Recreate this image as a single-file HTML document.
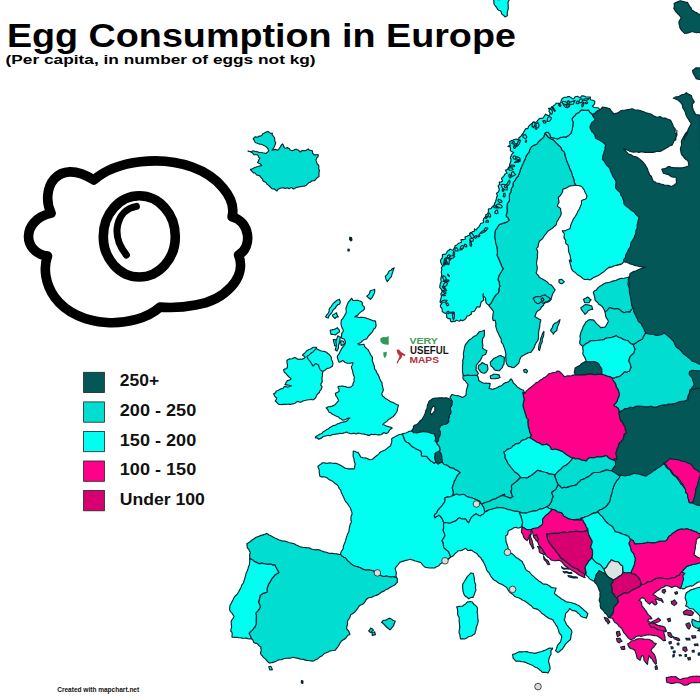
<!DOCTYPE html><html><head><meta charset="utf-8"><title>Egg Consumption in Europe</title>
<style>html,body{margin:0;padding:0;background:#fff;}body{width:700px;height:700px;overflow:hidden;font-family:"Liberation Sans",sans-serif;}svg{display:block}</style></head><body>
<svg width="700" height="700" viewBox="0 0 700 700">
<rect width="700" height="700" fill="#fff"/>
<g stroke="#052632" stroke-width="1.15" stroke-linejoin="round">
<path d="M253.1 138.8 L254.1 137.7 L255 136.9 L256.1 136.9 L256.9 137.3 L257.6 137 L258.5 136.4 L259.8 136.1 L261.1 135.9 L262 135.1 L262.6 134 L263.2 133.5 L264 133.2 L264.9 132.7 L266 132.1 L267.2 131.7 L268.1 131.5 L269.2 132.4 L270.2 133.1 L271.4 133.3 L272.4 133.2 L272.1 134 L272.2 134.8 L272.9 135.7 L273.8 136.7 L274.4 137.7 L274.6 138.5 L274.7 139.8 L274.8 141.1 L275.3 142.1 L275.8 142.7 L275.4 143.6 L275.1 144.7 L274.7 145.7 L274.3 146.8 L273.6 148 L272.8 149.2 L272 150.3 L273.4 150 L275.1 149.4 L276.6 149.7 L277.7 150.3 L278.7 149.4 L279.1 148.7 L279.6 148 L280.2 147 L280.9 145.9 L281.8 144.7 L282.7 143.9 L283.4 145.3 L283.8 146.6 L284.3 147.6 L285.3 148.3 L286.3 148 L287.4 147.6 L288.2 148 L289 148.4 L289.7 149.3 L290.5 150.2 L291.6 150.5 L293 150.6 L294.1 150 L294.8 149.5 L295.6 149.3 L296.4 149.3 L297.3 149.7 L298.2 150 L299.2 150.9 L300.4 152 L301 151.2 L302 150.5 L303.3 150.6 L304.2 150.7 L305 150.6 L306.1 150.5 L307 149.8 L308.3 148.9 L308.9 149.8 L309.9 150.4 L311.3 150.5 L312.4 150.7 L312.4 151.9 L312.6 153.1 L313.4 154 L314.1 154.9 L315.1 154.8 L316.2 154.8 L317.3 154.7 L318.2 154.5 L318.2 155.5 L318.1 156.5 L317.5 157.1 L316.8 157.9 L316.4 158.9 L315.9 159.9 L316.2 160.9 L316.6 161.9 L316.9 163 L317.3 164 L318.1 164.6 L318.8 165.7 L318.8 167.3 L318.6 168.6 L319.1 169.5 L319.4 170.2 L319.2 171.3 L319.1 172.2 L319 173.1 L319 174.1 L318.9 175.1 L319.1 176.3 L318.4 176.9 L317.3 177.6 L316.4 178.5 L315.7 179.5 L314.9 180.2 L314.1 180.7 L312.9 180.7 L311.7 180.9 L310.8 181.9 L309.7 182.4 L308.7 182.8 L307.9 183.6 L307.1 184.4 L306.2 185.2 L305.2 185.9 L304 186.2 L302.6 186.2 L301.7 186.5 L300.7 186.6 L299.5 186.7 L298.1 187.1 L296.8 187.4 L296.2 187.6 L295.4 188.1 L294.4 188.6 L293.4 189 L292.5 188.2 L291.6 187.6 L290.6 187.8 L289.9 188.2 L289.5 188.4 L288.9 188.6 L288 188.2 L287 187.8 L285.9 188.2 L284.9 188.4 L284.2 188 L283.4 187.7 L282.4 187.9 L280.9 188 L279.4 188.6 L278.2 189.2 L277.6 190 L277 190.9 L275.6 190.1 L274.7 189.3 L274.1 188.9 L272.7 189 L271.7 188.5 L271.1 187.8 L270.3 187 L269.3 186 L268.2 185.1 L267.3 184.6 L266.8 183.9 L266.1 182.6 L264.7 181.7 L263.3 181.1 L262.8 180.2 L262.4 178.9 L261.6 178.2 L260.9 177.5 L260.3 176.7 L259.8 175.9 L259.1 175.6 L258.4 175.4 L257.5 175.3 L256.6 175 L255.8 174 L255.1 173 L254.2 172.9 L253.4 172.9 L252.7 172.1 L252 171.3 L251.1 170.5 L250.4 169.3 L251 169.3 L251.8 169.1 L252.8 168.6 L254 167.9 L255.2 167.3 L256.2 167 L257 166.7 L257.9 166.5 L258.7 166.2 L259.7 166 L260.8 165.8 L261.8 165.7 L261.1 164.7 L260.2 163.9 L258.8 163.3 L257.6 162.6 L258.1 161.5 L258.6 160.4 L259.2 159.3 L259.8 158.3 L259.1 157.6 L258.5 156.8 L258.2 155.7 L257.4 154.8 L255.4 154.7 L253.9 154.6 L253.3 153.9 L252.6 153 L251.6 152.4 L250.4 151.8 L249 151.4 L248 150.9 L249 151.2 L250.5 151.5 L251.9 151.2 L252.9 150.9 L253.8 151 L254.7 151.2 L255.5 151.5 L256.2 151.5 L257 151.7 L257.8 151.9 L258.6 152.2 L259.3 152.5 L260.2 152.5 L261.1 152.5 L262.6 152.8 L264.1 153 L265.1 153.3 L266.1 153.3 L266.8 152.6 L267.5 152.1 L268.2 151.5 L268.8 150.9 L268.4 150 L268.1 149.2 L267.8 148.6 L267.3 147.9 L266.3 146.9 L264.9 145.9 L263.4 145.2 L262.2 144.5 L261 144.2 L259.7 144.1 L258.5 143.8 L257.4 143.3 L256.5 143 L255.8 142.7 L255.4 142.4 L254.8 141.9 L254.1 140.1Z" fill="#02ddd2"/>
<path d="M598.7 110 L600.1 109.6 L601.1 108.8 L601.8 107.8 L602.6 107 L604 107.2 L605.3 107.5 L606.8 107.9 L608.4 108.3 L609.8 108.6 L610.4 109.6 L610.9 110.6 L612.1 111.9 L613.3 113.2 L613.8 114.3 L615.1 113.5 L616.8 113.1 L618.5 112.5 L619.9 111.4 L621.2 110.5 L622.9 110.3 L624.4 110.2 L625.6 110 L626.9 109.8 L628.2 109.6 L629.4 109.4 L630.6 109.2 L631.7 108.8 L633.1 109.1 L634.4 109.7 L635.8 110 L637.7 110 L639.2 110.3 L640.7 110.8 L642.2 111.3 L643.8 111.8 L645.2 112.5 L647 113 L648.9 113.5 L650 113.8 L651.3 114.2 L652.7 115.3 L654 116.1 L655.4 116.6 L656.8 117.2 L658.3 117 L659.8 116.5 L661.1 117.1 L662.3 118 L663.8 118.1 L665.4 118 L666.8 118.7 L668.8 119.6 L670.4 120 L671.2 121.2 L671.9 122.9 L672.6 124.2 L673 125.6 L673.6 127.1 L675 128.4 L675.3 129.8 L675 131.6 L675 133.1 L675.8 133.8 L676.1 135 L675.7 137 L675.6 138.6 L675.7 140.1 L675.8 138.6 L676.1 137 L676.8 135.6 L677 134.3 L676.7 133.4 L676.8 132 L676.9 130.2 L676.8 131.9 L676.6 133.2 L676.8 134.1 L676.8 135.1 L676.2 136.5 L675.7 138 L675.1 139.3 L674.4 140.3 L673.8 141.5 L673.3 142.8 L672.6 144.1 L672 145.1 L670.7 145.5 L669 146.2 L667.7 147.2 L666.3 148 L664.9 148.7 L663.5 149.7 L662.2 150.2 L661.3 151 L660 151.5 L658 151.4 L656.3 151.5 L655.1 151.9 L654 152.3 L652.6 152.4 L651.2 152.4 L649.8 152.4 L648.5 152.3 L647 152.3 L645.4 152.4 L643.9 152.3 L642.3 151.9 L640.9 151.9 L639.6 152.3 L638.2 152.3 L637.1 151.8 L635.7 151.8 L633.9 152.3 L632.4 152 L631.3 151.7 L630.2 151.4 L628.9 150.7 L627.4 150 L625.4 149.4 L623.5 148.8 L624.4 149.8 L625.6 151 L626.5 151.9 L627.3 152.7 L628.2 153.8 L629.5 154.4 L630.9 154.8 L632.2 155.6 L633.5 156.2 L635.1 156.6 L636.6 157 L637.4 157.5 L638.1 158 L639.4 158.9 L640.9 160.2 L642.3 161.4 L643.5 162.6 L644.2 163.6 L644.9 164.3 L645.7 165.8 L646.8 167.6 L647.7 169.3 L648 170.7 L648.5 172.1 L649.1 173.3 L649.6 174.6 L650.4 175.5 L651.3 176.3 L651.9 177.7 L652.4 179.3 L652.9 180.7 L654 181.5 L655.2 182 L655.9 182.7 L657 183 L658.8 183.4 L660.3 183.9 L661.5 184.2 L663 184.6 L664.3 185.1 L665.5 185.2 L666.7 185.3 L667.8 185.4 L669 185.6 L670.3 186.1 L671.7 186.5 L673 185.7 L674.3 184.9 L675.3 184 L676.5 183.5 L676.4 182.1 L676.4 180.7 L676.2 179.4 L676.3 177.8 L675.2 177 L673.2 177.1 L671.5 176.8 L670.1 175.7 L668.4 174.6 L667.5 174.4 L666.7 174.3 L665.1 173.8 L663.4 173.3 L662.8 171.5 L662.3 170.2 L661.7 169.3 L662.9 168.9 L664.8 168.6 L666.4 168 L667.9 166.7 L669.2 166.6 L670.6 167.1 L672 167.4 L673.3 167.6 L674.7 167.8 L676.1 167.8 L677.4 167.8 L679 167.9 L680.7 167.9 L682.4 167.7 L684.3 167.3 L685.5 167.3 L686.1 166.7 L687.3 166.2 L689.1 166 L688.5 164.4 L688.4 162.7 L688 161.1 L687.1 160.1 L685.8 159.4 L684.6 158.4 L683.7 157 L683 155.9 L682.2 155.4 L681.4 154 L681 152.6 L680.8 151 L680.5 149.7 L680.4 148.3 L680.9 147.1 L681.3 145.9 L681.7 144.7 L681.5 143.2 L681.3 141.5 L681.8 140.1 L682.5 138.9 L683.1 137.7 L683.9 136.3 L684.7 134.9 L685.4 133.7 L686.2 132.7 L687.1 131.9 L687.7 130.8 L688.1 129.6 L688 131.3 L687.5 132.8 L686.9 134.1 L686.1 135.5 L685 136.9 L684.5 138.6 L684.5 139.8 L684.3 138.7 L684.5 137.3 L685.2 135.8 L686.1 134.6 L686.8 133.4 L687.4 132.3 L687.9 131.1 L688.1 129.6 L688.5 128.5 L689.2 127.4 L689.9 126.1 L690.6 124.9 L691.2 123.8 L690.8 122.7 L690.1 121.8 L689.4 120.9 L688.7 119.8 L688.1 118.7 L687.6 117.9 L686.8 116.5 L686 114.9 L685.6 113.4 L685 111.6 L684.4 110.2 L683.7 109.3 L683 108.3 L682.7 107.1 L682.4 105.9 L682.1 104.4 L680.9 102.8 L679.7 101.6 L678.9 100.9 L678.3 100.3 L677.1 99.8 L675.7 99.1 L674.5 98.5 L673.3 98.3 L674.8 97.4 L676.3 96.8 L677.8 96.6 L679.2 96.2 L680.5 95.4 L681.7 94.8 L682.6 94.6 L683.8 94.3 L685.2 93.7 L686.3 92.7 L687.5 93.4 L688.6 94.4 L690.1 94.9 L691.4 95.6 L691.8 97.2 L692.4 98.5 L693.1 99.7 L693.7 100.7 L694.3 101.9 L693.3 103.2 L692.3 104.4 L692.5 106 L692.5 107.7 L693.1 109 L693.2 110.6 L694.1 111.5 L694.9 113 L695.7 114.7 L697 114.8 L698.6 114.9 L699.8 115.4 L700.4 116 L700.4 117.6 L700.4 119.2 L700.4 120.8 L700.4 122.4 L700.4 124 L700.4 125.6 L700.4 127.2 L700.5 128.8 L700.5 130.4 L700.5 132 L700.5 133.6 L700.5 135.2 L700.5 136.8 L700.5 138.4 L700.5 139.9 L700.5 141.5 L700.5 143.1 L700.5 144.7 L700.5 146.3 L700.5 147.9 L700.5 149.5 L700.6 151.1 L700.6 152.7 L700.6 154.3 L700.6 155.9 L700.6 157.5 L700.6 159.1 L700.6 160.7 L700.6 162.3 L700.6 163.9 L700.6 165.5 L700.6 167.1 L700.6 168.7 L700.6 170.3 L700.6 171.9 L700.7 173.5 L700.7 175.1 L700.7 176.7 L700.7 178.3 L700.7 179.9 L700.7 181.5 L700.7 183.1 L700.7 184.6 L700.7 186.2 L700.7 187.8 L700.7 189.4 L700.7 191 L700.7 192.6 L700.7 194.2 L700.8 195.8 L700.8 197.4 L700.8 199 L700.8 200.6 L700.8 202.2 L700.8 203.8 L700.8 205.4 L700.8 207 L700.8 208.6 L700.8 210.2 L700.8 211.8 L700.8 213.4 L700.8 215 L700.8 216.6 L700.8 218.2 L700.9 219.8 L700.9 221.4 L700.9 223 L700.9 224.6 L700.9 226.2 L700.9 227.8 L700.9 229.4 L700.9 230.9 L700.9 232.5 L700.9 234.1 L700.9 235.7 L700.9 237.3 L700.9 238.9 L700.9 240.5 L701 242.1 L701 243.7 L701 245.3 L701 246.9 L701 248.5 L701 250.1 L701 251.7 L701 253.3 L701 254.9 L701 256.5 L701 258.1 L701 259.7 L701 261.3 L701 262.9 L701.1 264.5 L701.1 266.1 L701.1 267.7 L701.1 269.3 L701.1 270.9 L701.1 272.5 L701.1 274.1 L701.1 275.6 L701.1 277.2 L701.1 278.8 L701.1 280.4 L701.1 282 L701.1 283.6 L701.1 285.2 L701.2 286.8 L701.2 288.4 L701.2 290 L701.2 291.6 L701.2 293.2 L701.2 294.8 L701.2 296.4 L701.2 298 L701.2 299.6 L701.2 301.2 L701.2 302.8 L701.2 304.4 L701.2 306 L701.2 307.6 L701.2 309.2 L701.3 310.8 L701.3 312.4 L701.3 314 L701.3 315.6 L701.3 317.2 L701.3 318.8 L701.3 320.4 L701.3 321.9 L701.3 323.5 L701.3 325.1 L701.3 326.7 L701.3 328.3 L701.3 329.9 L701.3 331.5 L701.4 333.1 L701.4 334.7 L701.4 336.3 L701.4 337.9 L701.4 339.5 L701.4 341.1 L701.4 342.7 L701.4 344.3 L701.4 345.9 L701.4 347.5 L701.4 349.1 L701.4 350.7 L701.4 352.3 L701.4 353.9 L701.5 355.5 L701.5 357.1 L701.5 358.7 L701.5 360.3 L701.5 361.9 L701.5 363.5 L701.5 365.1 L701.5 366.6 L701.5 368.2 L701.5 369.8 L701.5 371.4 L701.5 373 L701.5 374.6 L701.5 376.2 L701.6 377.8 L701.6 379.4 L701.6 381 L701.6 382.6 L701.6 384.2 L701.6 385.8 L701.6 387.4 L701.6 389 L701.6 390.6 L701.6 392.2 L701.6 393.8 L701.6 395.4 L701.6 397 L701.6 398.6 L701.6 400.2 L701.7 401.8 L701.7 403.4 L701.7 405 L701.7 406.6 L701.7 408.2 L701.7 409.8 L701.7 411.4 L701.7 412.9 L701.7 414.5 L701.7 416.1 L701.7 417.7 L701.7 419.3 L701.7 420.9 L701.7 422.5 L701.8 424.1 L701.8 425.7 L701.8 427.3 L701.8 428.9 L701.8 430.5 L701.8 432.1 L701.8 433.7 L701.8 435.3 L701.8 436.9 L701.8 438.5 L701.8 440.1 L701.8 441.7 L701.8 443.3 L701.8 444.9 L701.9 446.5 L701.9 448.1 L701.9 449.7 L701.9 451.3 L701.9 452.9 L701.9 454.5 L701.9 456.1 L701.9 457.6 L701.9 459.2 L701.9 460.8 L701.9 462.4 L701.9 464 L701.9 465.6 L701.9 467.2 L702 468.8 L702 470.4 L702 472 L702 473.6 L702 475.2 L702 476.8 L702 478.4 L702 480 L700.5 479.7 L699.1 479.4 L697.6 479.2 L696.3 479.1 L694.8 478.7 L693.2 478.3 L691.6 478 L689.9 477.7 L688.4 477.8 L687 477.7 L685 476.9 L683.3 476.3 L681.8 476.1 L680.2 475.9 L679.1 475.4 L677.6 475.1 L675.7 475.1 L674 474.9 L672.7 474.7 L671.4 474.4 L670.1 473.4 L668.6 473 L666.6 473.1 L665 472.9 L663.6 472.4 L661.9 472.1 L660.2 471.5 L658.8 471.4 L657.8 472 L656.3 471.6 L654.5 470.8 L652.9 470.5 L651.5 470.6 L649.9 470.2 L649.9 468.8 L649.9 466.9 L650 464.8 L650.2 463.5 L650.4 462.2 L650.1 460.5 L649.7 458.8 L649.9 457.3 L650.1 455.8 L650 454.1 L650 452.5 L649.7 451.2 L649.6 449.8 L649.6 448.5 L649.7 446.9 L650.2 445.1 L650.3 443.5 L650 441.7 L650.1 440.2 L650.6 438.8 L650.3 437 L649.7 435 L649.8 433.8 L650.1 432.7 L650.2 430.9 L650.3 429 L650.4 427.1 L650.4 425.2 L650.4 424 L650.4 422.7 L650.4 421.4 L650.4 419.9 L650.2 418.2 L650.1 416.5 L649.7 414.5 L649.7 412.9 L649.6 411.6 L649.8 409.9 L650.1 408.1 L650.1 406.6 L650.1 405 L650.1 403.6 L650 402.1 L650.2 400.7 L650.3 399.3 L650.2 397.7 L650 396.1 L650.1 394.7 L650.2 393.2 L650.2 391.4 L650.2 389.8 L650.1 388.3 L650.1 386.8 L650.1 385.1 L650.2 383.5 L650.2 382 L650.1 380.2 L649.3 378.1 L649 376.7 L648.6 375.4 L648.1 373.8 L647.5 372.5 L647.2 370.8 L646.9 368.9 L646.9 367.5 L646.6 366.2 L646.2 364.6 L646.1 362.7 L645.4 361.1 L644.5 359.5 L644 358.2 L643.5 356.7 L643.8 355.3 L643.7 353.8 L642.8 352.2 L642.1 350.8 L642.4 349.1 L642.4 347.5 L642 345.7 L641.6 344 L640.8 343 L640.4 341.5 L640.1 340 L639.5 338.6 L639.6 337.1 L639.4 335.7 L638.6 334.2 L637.9 332.6 L637.3 331.1 L636.8 329.7 L636.7 328.3 L636.4 326.8 L635.6 325.5 L635.1 324 L634.6 322.4 L634.2 321.1 L633.8 319.4 L633.4 317.8 L633.1 316 L632.7 314.3 L631.8 312.9 L631.1 311.6 L631 310.1 L630.5 308.5 L629.7 307.6 L629.2 306.6 L629 304.4 L628.5 302.5 L628.1 301.3 L627.7 299.8 L628.1 298.5 L628.4 297.2 L628.2 295.3 L628 293.5 L628.1 292.5 L628.2 291.3 L628.4 289.5 L628.6 287.8 L628.7 286.3 L628.8 284.8 L628.9 283 L628.9 281.4 L628.6 279.8 L628.6 278.3 L629.3 276.7 L629.8 275.2 L629.9 274.3 L630.1 273.4 L631.4 272.7 L632.8 271.9 L634.1 271.4 L635 271.2 L636.3 270.8 L638.3 269.7 L640 268.9 L641.2 268.7 L642.1 268.1 L643.6 267.6 L645.5 267.2 L644.2 267.1 L642.2 266.6 L640.9 266.5 L640.3 266.6 L639.3 266.5 L637.6 266 L636 265.7 L635 265.4 L633.8 265.1 L632.5 264.5 L631 264.2 L629.6 263.6 L628.2 262.9 L626.9 262.2 L625.4 262.1 L623.7 261.7 L623.1 259.9 L623.2 258.6 L622.7 257 L622.2 255.5 L621.8 254.1 L621.9 252.5 L621.7 250.9 L621.1 249.6 L620.6 248.3 L619.6 247.3 L619.1 245.7 L618.5 243.6 L618 241.9 L618.2 240.6 L617.8 239 L617.2 237.4 L616.8 236 L616.6 234.3 L616.3 232.7 L616 231.3 L615.5 230 L615 228.8 L614.2 227.1 L613.2 225.2 L613.1 223.8 L613.3 222.2 L612.8 220.7 L612.4 219.3 L611.6 217.9 L610.7 216.3 L610.6 214.7 L610.5 213.4 L609.9 211.8 L609 210 L608.8 208.6 L608.7 207.2 L607.8 205.7 L607.1 204.1 L606.6 202.4 L605.9 200.8 L605.5 199.5 L605.2 198.2 L604.8 196.8 L604.5 195.2 L603.9 193.6 L602.9 192.4 L602.7 190.6 L602.6 188.8 L602.1 187.3 L601.7 185.9 L601.3 184.3 L601 182.7 L600.8 181.4 L600.5 180.2 L599.7 178.6 L598.9 177.2 L598.3 175.6 L597.7 173.9 L596.9 172.7 L596.1 171.5 L596.1 169.9 L595.9 168.4 L595.1 167 L594.3 165.8 L593.8 164.2 L593.4 162.4 L593 160.9 L592.5 159.5 L591.6 158.2 L590.6 157 L590.4 155.3 L590.3 153.4 L589.4 151.8 L588.8 150.1 L588.5 148.8 L588.1 147.9 L587.6 146.5 L586.9 145.1 L586.1 143.3 L585.6 141 L585.3 139.4 L585.9 138 L586.1 136.7 L586.1 135.4 L586.5 134 L586.9 133 L587.2 131.6 L587.6 129.6 L587.8 128 L587.5 126.9 L587.8 125.5 L588.8 123.4 L589.4 122 L589.7 121.2 L589.8 119.8 L589.8 118.1 L590.9 116.8 L592.3 115.8 L593.8 114.6 L595.1 113.5 L595.6 113 L596.2 111.8 L597.2 110.6Z" fill="#035756"/>
<path d="M674.1 3.6 L675.2 2.8 L676.3 2.3 L677.5 1.9 L678.8 1.4 L680.1 0.8 L681.6 1 L682.6 1.4 L683.6 1.6 L684.9 2 L686.2 2.4 L687.6 2.4 L688 3.5 L688.6 4.2 L688.9 5.1 L689.6 6.3 L690.9 7.5 L691.5 9 L692 10.2 L693.2 10.8 L694.2 11.5 L695.5 12.3 L697.1 12.9 L698.5 14 L699.6 14.4 L701 15 L701 16.5 L701 18 L701 19.5 L701 21 L701 22.5 L701 24 L701 25.5 L701 27 L701 28.5 L701 30 L701 31.5 L701 33 L699.5 32.8 L698 32.3 L696.9 32.8 L695.2 32.5 L693.1 31.8 L691.6 31.7 L690.3 32.1 L689.1 32.4 L688.2 32.9 L686.8 33.2 L684.9 33.5 L683.8 32.6 L683 31.6 L681.9 30.7 L680.9 29.4 L679.9 27.8 L679.7 26.1 L679.2 24.6 L678.9 23.1 L679 21.6 L679.6 20.4 L680.2 19.6 L680.7 18.9 L681.1 17.4 L679.8 15.8 L678.7 14.6 L677.7 13.7 L676.7 12.7 L675.8 11.7 L675.1 10.6 L674.5 9.4 L673.8 8.4 L674 7.5 L674.3 6.9 L674.3 5.5Z" fill="#035756"/>
<path d="M692.7 70.3 L694.1 69.4 L695.4 68.1 L696.6 67.7 L698 68.1 L699.7 67.9 L701 68 L701 69.5 L701 71 L701 72.5 L701 74 L701 75.5 L701 77 L701 78.5 L701 80 L699.8 79.5 L698.1 79.2 L697.1 78.9 L696.2 78.7 L695.5 77.1 L694.4 75.3 L693.3 73.6 L692.8 72.1 L692.6 70.8Z" fill="#035756"/>
<path d="M592.3 114.6 L592.8 115.9 L593.4 117 L594.3 118.2 L595.1 119.2 L594.4 120.4 L593.3 121.4 L592.4 122.1 L591.7 122.8 L591 124.4 L590.2 126.1 L590 127.4 L590.2 128.5 L591.2 130 L591.5 131.1 L592 131.8 L593.1 132.6 L594.1 133.9 L594.9 135.2 L595.2 136.9 L595.7 138.3 L597 138.9 L598.3 139.6 L600 140.6 L601.3 141.4 L602.5 142 L603.5 142.7 L604.5 143.5 L605.2 144.6 L605.6 145.8 L604.9 147.4 L605.1 148.9 L604.6 150.4 L603.9 152.3 L603.7 153.8 L603.3 154.6 L602.9 155.5 L602.7 157.5 L602.4 159.4 L603.6 160.6 L604.7 161.9 L605.5 163.4 L606.3 164.7 L607 165.5 L607.5 166 L608.3 166.5 L609.1 167.4 L609.9 168.6 L610.3 170.4 L610.9 171.7 L611.6 173.3 L612.3 174.8 L612.9 176.3 L613.6 177.4 L614.4 178.5 L615.3 179.9 L615.8 181.1 L616.1 182 L615.9 183.4 L615.7 184.8 L615.7 186.2 L615.5 187.6 L616.6 189.2 L617.7 190.4 L618.9 191.3 L620.1 192.4 L620.6 193.8 L620.9 195.3 L621.8 196.3 L622.4 197.1 L622.8 198.5 L623.3 200 L623.8 201.5 L623.9 203.5 L624.5 204.6 L625.2 205.3 L626.2 206.1 L627.3 207 L628.5 207.7 L629.6 208.6 L630.5 209.7 L631.7 210.5 L633 211.2 L634.2 212.1 L635.2 213.5 L636 214.6 L636.6 215.2 L637.7 215.9 L638.9 216.6 L638.9 217.7 L638.6 219.2 L638 221 L637.7 222.4 L637.5 223.7 L637.1 225.2 L637.2 226.6 L637.3 227.7 L636.7 229.1 L635.9 230.4 L635.8 231.8 L635.9 233.3 L635.2 234.6 L634.7 236.1 L634.2 237.7 L633.2 239.1 L632.5 240.5 L631.5 241.7 L630.8 243.1 L630.6 245 L630.3 246.7 L629.8 247.6 L629.1 248.5 L628.3 249.9 L627.6 251.5 L626.8 253 L626 254.4 L625.6 255.6 L625.5 257 L624.9 258.4 L623.7 259.5 L623.5 260.4 L623.7 261.7 L622.9 262.8 L621.9 263.7 L620.8 264.4 L619.6 264.7 L618.3 265 L616.5 265.4 L614.6 265.8 L613.3 266.3 L612 266.9 L610.4 267.1 L608.7 267.3 L610.4 267 L611.9 266.8 L613.2 266.2 L614.4 265.7 L616.1 265.3 L618 264.8 L619.5 264.4 L620.9 264.1 L622.3 263.4 L621 264.1 L619.8 264.4 L618.4 264.6 L616.8 265.1 L615 265.6 L613.7 265.9 L612.6 266.6 L611.4 267.2 L609.8 267.5 L608.2 268 L607.2 268.7 L606.3 269.3 L605.1 270.6 L604 271.7 L602.9 272.3 L601.5 273.3 L600.4 274.1 L599.4 274.8 L598 275.7 L596.5 276.3 L594.9 276.9 L593.5 277.6 L592.3 278.4 L591.1 279.2 L589.8 279.9 L588.7 279.4 L587.2 279.2 L585.5 279.5 L584.1 279.4 L583 278.6 L581.5 277.3 L580.2 276.3 L578.9 275.5 L577.4 274.7 L576.4 273.7 L575.4 272.6 L574 271.8 L572.7 270.7 L571.8 269.4 L571.2 268.3 L571.2 267.1 L570.7 265.5 L570.2 263.9 L569.9 262.5 L569.5 261.1 L569.3 260 L570.4 260.6 L571.5 261.7 L571.1 260.1 L570.7 258.8 L570.4 257.6 L570.3 256.4 L569.9 254.7 L569 252.5 L568.5 251 L568.5 249.6 L568.4 248.2 L568.3 246.6 L567.9 245.1 L566.7 244.3 L565.7 243.1 L565.7 241.7 L565.8 240.4 L564.9 239.1 L564 237.9 L564.1 236.2 L564.4 234.6 L564 233.2 L562.9 231.9 L562.3 230.7 L563.8 230.8 L565.3 230.9 L566.5 230 L568.1 229.5 L569.8 228.8 L570.5 227.3 L570.6 226.5 L570.5 225.8 L570.9 224.6 L571.6 223.1 L572.2 221.8 L572.9 220 L573.8 218.3 L575 216.8 L575.9 215.3 L576.7 214.2 L577.2 212.9 L577.6 211.6 L578.5 210.5 L579.2 209.4 L579.7 208.1 L580.2 207 L580.6 205.8 L581.2 204.5 L581.5 203.2 L581.4 202 L581.5 200.7 L583.2 199.7 L585.2 199.3 L586.2 198.4 L586.6 197.2 L587 196.1 L586.4 194.7 L585.2 192.5 L584.5 190.9 L584.2 189.9 L583.7 189.1 L582.7 187.8 L581.3 186.3 L579.8 185.9 L578.4 185.5 L577.5 185.5 L576.7 185.4 L575.5 185.1 L575 184 L574.4 182.8 L574.2 181.8 L574.1 181 L573.9 179.8 L573.5 178.5 L573 177 L572.2 175.1 L571.7 173.3 L571.5 172 L570.9 171 L570 169.5 L569.4 167.8 L569 166.6 L568.9 165.9 L568.1 164.4 L567.2 162.3 L566.6 160.7 L566.1 159.2 L565.7 157.7 L565.2 156.3 L564.8 154.9 L564.7 153.4 L564.3 152.1 L563.5 151.4 L562.4 150.6 L561.5 149.3 L560.9 147.7 L560.2 146.7 L559.3 146.1 L558.3 145.2 L557.2 144 L555.9 142.8 L555.2 141.8 L554.3 140.9 L553 139.9 L551.3 139.2 L550.1 138.5 L549 137.8 L547.9 137 L547.2 136 L546.3 135 L545.6 134 L545.1 133 L546.6 132.4 L548 132.2 L548.9 133.4 L549.9 134.4 L550.3 135.6 L550.5 136.9 L551.6 137.6 L553.6 137.9 L555.4 138.5 L556.5 138.7 L557.5 139 L559 138.2 L560.5 137.4 L561.7 137.2 L563.1 137 L564.4 136.9 L565.7 137.1 L566.9 136.6 L568.2 135.8 L569.5 134.6 L570.3 133.9 L571 133.3 L571.3 132 L571.9 130.7 L572.2 129.4 L572.4 128 L572.7 126.6 L573 124.6 L573.2 122.6 L572.8 121.5 L572.3 120.5 L572 118.9 L572.9 117.7 L573.7 116.6 L574.5 116.1 L575.2 115.1 L575.9 113.9 L577.1 113.3 L578.4 112.7 L579.5 111.9 L580.4 110.7 L581.6 109.8 L583.2 110.1 L584.9 110.4 L586.7 110.3 L588.6 110.1 L589.3 111.3 L589.8 112.2 L590.7 112.8 L591.7 113.6Z" fill="#00fff0"/>
<path d="M545.1 133 L545.6 134 L546.3 135 L547.2 136 L547.9 137 L549 137.8 L550.1 138.5 L551.3 139.2 L553 139.9 L554.3 140.9 L555.2 141.8 L555.9 142.8 L557.2 144 L558.3 145.2 L559.3 146.1 L560.2 146.7 L560.9 147.7 L561.5 149.3 L562.4 150.6 L563.5 151.4 L564.3 152.1 L564.7 153.4 L564.8 154.9 L565.2 156.3 L565.7 157.7 L566.1 159.2 L566.6 160.7 L567.2 162.3 L568.1 164.4 L568.9 165.9 L569 166.6 L569.4 167.8 L570 169.5 L570.9 171 L571.5 172 L571.7 173.3 L572.2 175.1 L573 177 L573.5 178.5 L573.9 179.8 L574.1 181 L574.2 181.8 L574.4 182.8 L575 184 L575.5 185.1 L574.3 185.3 L573 185.6 L571.7 185.7 L570.4 185.9 L568.8 186.5 L567.3 187.5 L566.1 188.1 L564.5 188.6 L562.9 189.2 L562.7 190.5 L562.7 191.5 L562.1 192.7 L561.3 194 L560.7 195.2 L559.7 196.2 L558.4 197.3 L558.4 198.4 L558.6 199.7 L558.8 201 L559.1 202.3 L558.4 203.3 L557.8 204.5 L557.4 206.1 L558.4 207.1 L559.4 207.6 L560.1 208.1 L560.8 209 L560.6 210.3 L561 211.9 L561.2 213.4 L561 214.8 L560.4 216 L559.7 217.1 L559 218 L558.6 219.2 L557.5 220.8 L556.7 222.3 L556.5 223.6 L556 225 L554.9 226 L553.8 226.9 L553.1 227.7 L551.9 228.6 L550.4 229.5 L548.9 230.4 L547.9 231.2 L547.3 231.9 L546.9 232.5 L546.2 233.6 L544.6 235.3 L543.4 237.2 L542.7 238.5 L542.1 239.2 L540.8 240 L539.7 241.1 L538.9 242.3 L538.5 244 L538.3 246 L537.6 247.4 L536.4 248.7 L536.9 249.9 L537.5 250.8 L537.7 252.4 L537.4 254.6 L537.3 256 L537.5 256.9 L537.4 258.1 L537 259.4 L536.8 260.7 L536.6 262.4 L536.5 264 L536.9 265.3 L537.2 266.8 L537.2 268.4 L537.1 270 L536.7 271.2 L536.2 272.4 L536.7 273.9 L537.6 274.7 L538.6 275.6 L539.1 277 L540 277.7 L541 278.2 L542.1 278.7 L543.3 279.5 L544.6 280.3 L546.2 281.2 L547.4 282.1 L548.4 283.3 L549.4 284.3 L550.8 284.7 L551.8 285.5 L552.7 286.7 L553.6 287.8 L554.4 288.8 L555.2 289.6 L554.6 290.8 L553.9 292 L553.2 293 L552.5 294.2 L552.2 295.4 L551.7 296.8 L551.2 298.5 L550.4 300.1 L549.6 301.3 L548.1 301.9 L546.9 302.3 L545.7 302.6 L544.6 303.3 L543.7 304.2 L543.5 305.3 L542.4 306.3 L541.1 307.5 L540.6 309 L539.3 309.9 L537.6 311 L536.5 312.4 L535.9 313.7 L535.3 315.2 L534.8 316.6 L536 317.3 L537.3 318.1 L538.4 318.8 L539.5 319.2 L540.7 319.7 L540.7 321 L540.2 322.3 L539.9 323.8 L539.8 325.6 L539.6 327.3 L539.2 329 L538.9 330.5 L538.7 332 L538.5 333.5 L538.5 334.8 L538.5 336.3 L538.4 337.9 L538.2 339.3 L537.9 340.3 L537.4 341 L536.5 342.4 L535.6 343.8 L535 345.1 L534.6 346.5 L534 347.9 L533.1 349.4 L532 350.9 L531.1 352.1 L529.9 352.5 L528.6 352.8 L527 353.4 L525.3 354.3 L524.1 355 L523.1 355.5 L521.7 356.4 L520.7 357.4 L520 358.9 L519.6 360.4 L519.1 362.1 L518.6 363.6 L517.4 364.4 L516.3 365.6 L515.1 366.6 L513.9 367.6 L512.3 367.4 L511 366.9 L509.6 366.6 L508.2 366.3 L507.6 365.1 L506.8 364.1 L506.3 362.7 L505.9 360.8 L506 359.1 L505.8 357.8 L505.6 356.6 L505.8 355.6 L506 354.7 L505.6 353.1 L505.3 351.4 L505.1 350.1 L504.7 349.2 L504.3 347.9 L503.7 346.2 L503.3 344.8 L502.7 343.8 L501.9 342.9 L501.3 341.8 L501.3 339.8 L500.8 338.2 L499.9 336.9 L499.3 335.4 L498.6 334.2 L498.2 333.1 L497.6 331.9 L497 330.7 L496.6 329.4 L496.2 327.9 L495.7 326.4 L495.8 325.2 L495.9 323.9 L495.7 322.8 L495.5 321.8 L495.3 320.3 L494.3 320.4 L493.2 320.6 L492.7 318.7 L492.7 317 L492.9 315.2 L493.2 313.4 L493.5 311.6 L492.9 310.6 L492.3 309.6 L491.3 308.5 L490.1 307.2 L489.2 306.1 L488.9 305.2 L490 304.4 L491 303.4 L491.5 302 L492.3 300.7 L492.9 299.6 L493.4 298.7 L493.8 298 L494.3 297.1 L495.2 295.7 L496.4 294.5 L497.5 293.6 L498.4 292.6 L498.9 291 L498.8 289.2 L499.4 287.4 L499.9 286.2 L499.5 285 L499.3 283.4 L499.2 281.7 L498.5 280.7 L497.9 279.7 L498.4 277.6 L499.1 275.5 L499.8 274.2 L500.5 272.9 L501.4 271.8 L502 270.5 L502.7 269.4 L503.3 268.6 L502.3 267.5 L501.7 266.2 L501.1 264.7 L500.6 263.4 L500 262.2 L499.6 261 L499.2 260 L498.8 259.1 L498.2 258 L497.6 256.6 L497 255.1 L497.2 253.8 L497.5 252.6 L497.3 251.1 L497.2 249.5 L497 248.2 L496.8 247.2 L496.6 246 L496 244.4 L495.5 242.7 L495.4 241.4 L495.4 240.2 L495 238.8 L494.6 237.2 L494.7 236.1 L494.7 234.9 L494.9 233.4 L495 231.8 L495.5 230.2 L496.7 228.5 L497.7 227 L498.2 226.1 L498.8 225 L499.9 224.4 L501.1 223.9 L502.7 223.4 L504.3 222.9 L505.7 222.4 L507.1 221.9 L508.2 220.9 L509.2 220 L508.4 218.7 L507.7 217.7 L506.8 216.9 L506.1 215.9 L506.4 214.5 L506.8 213.1 L507 212 L507.1 211.1 L507.2 209.8 L507 207.8 L507.2 206.2 L507.2 204.9 L507.3 203.7 L508.1 202.5 L509.1 201.3 L509.4 199.9 L509.4 198.3 L509.5 196.8 L509.3 195.5 L509.7 193.8 L510.8 192.1 L511.2 190.9 L511 189.9 L511.3 188.5 L512.4 187.2 L513.1 185.7 L513 183.8 L513.4 182.3 L514.3 181.4 L515 180.5 L515.6 179.2 L516.5 177.9 L517.3 177 L518 176.5 L518.5 175.1 L519.2 173.4 L520 171.6 L520.3 170 L520.5 169.1 L521.1 168.1 L521.7 166.6 L522.2 165.1 L523 163.8 L523.7 162.1 L524.2 160.6 L525.2 159.1 L525.6 157.5 L525.9 156.5 L526.2 155.9 L526.8 155.1 L527.6 153.7 L528.7 152.7 L529.3 151.6 L529.5 150.1 L530.5 148.3 L531.6 146.5 L532.6 145.9 L533.5 145.4 L534.4 144.9 L535.4 144.7 L536.7 144.3 L537.5 143.1 L538.6 141.7 L539.7 140.6 L540.6 139.8 L541.4 139.4 L541.8 138.9 L542.4 138.3 L543.6 137.2 L544.2 135.4 L544.6 134.1Z" fill="#02ddd2"/>
<path d="M488.9 305.2 L488.3 304.7 L487.6 304.2 L486.8 303.6 L486 302.8 L485.8 301.1 L485.6 299.7 L485.5 298.7 L485.4 297.8 L484.2 296.7 L483 296.1 L483.1 294.8 L483.3 293.6 L483.1 294.6 L483 295.6 L483.2 296.6 L483.3 297.6 L483.6 298.7 L483.9 299.9 L482.9 300.7 L481.5 301.6 L481 302.6 L480.7 303.8 L480.3 305.6 L479.8 307.1 L478.3 306.9 L476.9 306.8 L476.6 307.7 L475.9 308.7 L475.2 310 L474.3 311.3 L472.8 311.6 L471.3 312 L471.3 313.2 L471.4 314.3 L470.3 314.7 L469.2 315.5 L468 316 L466.9 316 L466.5 317 L466.1 318.1 L465.4 319 L464.3 319.9 L463.4 320.2 L462.5 320.6 L461.5 320.4 L460.7 319.9 L460.3 320.5 L459.7 321.1 L458.1 320.7 L456.4 320.2 L455.3 321.2 L454.3 321.4 L453.1 321.3 L451.9 322 L451.3 321.6 L450.6 321.3 L450.4 320 L450.2 318.6 L449 318.8 L447.9 318.2 L446.8 317.8 L446.8 316.8 L446.8 316.4 L446.6 315.5 L446.5 313.9 L445 313.1 L443.4 312.5 L442.7 311.8 L442.2 311.4 L442.2 310.2 L442.2 309 L441.6 308 L440.5 306.9 L440.4 305.8 L440.6 304.9 L441.4 304.3 L442 303.7 L441 303 L440 301.9 L440.3 300.7 L440.6 299.6 L440.9 298.6 L441.1 297.7 L441.3 296.7 L441.5 295.8 L441.1 294.9 L440.8 294 L441.3 293.1 L441.8 292.3 L442 291.4 L441.9 290.2 L440.8 288.7 L439.8 287.6 L439.8 286.7 L439.9 286.1 L440.1 285.2 L440.2 284 L440.7 282.7 L441.3 281.6 L441 280.4 L440.8 279.3 L440.9 278.3 L441.1 277.4 L441.4 276.7 L441.5 275.8 L441.7 274.9 L441.7 273.9 L441.3 272.8 L441.3 271.7 L441.6 270.7 L441.9 269.7 L441.6 268.7 L441.3 267.9 L442 266.9 L442.5 265.9 L441.9 264.8 L441.5 263.7 L441 262.9 L440.7 262.3 L440.6 261.5 L440.4 260.3 L441.3 259.2 L442.2 258.1 L442.4 257.1 L442.4 256.3 L442.4 255.5 L442.5 254.6 L443.7 254.4 L445.5 254.2 L446.4 253.3 L446.9 252.3 L447.3 251.3 L448.2 250.7 L449.2 250.1 L450 249.1 L451.5 249.7 L453.2 250.2 L453.7 249.3 L454.2 248 L454.7 246.9 L455.2 245.8 L456.2 245.4 L457.2 244.6 L458.1 243.7 L459.1 243 L460.2 242.7 L461.5 242.2 L461.2 240.9 L461 239.6 L462.1 239.5 L463.5 239.6 L464.6 239.3 L465.4 239 L465.1 238 L465.1 236.9 L466.2 236.5 L467.5 236.1 L468.3 235.6 L469.4 235.2 L469.9 234.2 L470.3 233 L471.4 232.4 L472.1 231.9 L473 231.6 L474 231.5 L474.5 230.1 L474.4 228.9 L475.3 229.4 L476.3 229.9 L476.9 228.9 L477.5 228.2 L478.2 227.5 L478.9 226.8 L479.5 225.9 L479.9 225 L480.3 224.2 L480.7 223.5 L482.2 223 L483.6 222.5 L483.5 221.5 L483.1 220.6 L483.4 219.6 L483.8 218.4 L484.8 217.3 L485.8 216.8 L485.7 215.7 L485.8 214.8 L486.8 214.3 L487.7 213.6 L488.1 212.4 L488.5 211.1 L488.4 209.8 L488.7 208.9 L490 208.7 L491.2 208.5 L491.3 208.1 L491.7 207.3 L493 206.6 L494.2 205.8 L494.4 204.7 L494.6 203.7 L494.9 202.8 L495.5 202.1 L495.8 201.1 L495.9 200.1 L496.3 199.1 L496.5 198 L496.8 196.7 L497.5 195.8 L497 194.5 L496.4 193.2 L497.3 192.8 L498.4 192.1 L498.7 191.1 L499.2 190.2 L499.3 189.2 L498.8 188 L498.4 186.8 L498.2 185.7 L499 184.9 L499.7 184.3 L499.3 183.3 L499.3 182.1 L501.1 181.9 L502.5 181.3 L502.2 180.1 L501.5 178.7 L501.9 177.9 L502.6 177.3 L503.4 176.7 L504.1 175.7 L504.7 174.6 L505.2 173.8 L506.1 173.5 L507 173.1 L506.1 171.6 L505.4 170.1 L506.4 169.9 L507.4 169.5 L507.9 168.8 L508.2 167.9 L508.8 167.1 L509.7 166.5 L509.6 165.3 L509.6 164.2 L510.3 163.1 L510.8 161.7 L510.9 160.6 L511.1 159.5 L510.5 158.4 L510.4 157.3 L511.1 156.1 L511.4 154.9 L512.5 153.6 L513.7 152.4 L512.7 151.9 L511.6 151.7 L511 151.1 L510.4 150.2 L510.4 148.6 L510.5 147 L509.2 146.6 L507.9 146.4 L509.2 145.8 L510.4 145.4 L510 144.4 L509.8 143.1 L509.8 141.6 L511 140.9 L512.2 140.4 L513.3 139.9 L514.6 139.5 L515.7 139.2 L516.8 139.1 L517.8 139.7 L518.8 140.1 L518.8 138.9 L518.9 137.8 L519.9 137 L520.9 136.1 L521.6 135.2 L522.3 134.4 L522.8 133.6 L523.4 132.8 L523.8 131.9 L524.3 130.9 L525.1 129.7 L525.9 128.5 L526.8 128.6 L527.8 128.7 L528.1 127.7 L528.4 126.8 L529 125.9 L529.8 125.1 L530.8 124.5 L531.6 123.7 L532.4 123.1 L533.1 122.2 L534 121.9 L535.2 122.5 L535.9 122.3 L536.4 121.9 L537 121.3 L537.7 120.3 L538.6 119.4 L539.3 118.7 L540.1 118.4 L541 118.4 L542 118.3 L542.9 118.1 L543.5 117.4 L544.3 116.4 L545 115.1 L545.6 114.2 L546.6 114.9 L547.8 115.4 L548.9 115.8 L549.6 114.8 L550.2 113.7 L550.1 112.5 L549.9 111.3 L549.6 110.2 L549.8 109.4 L549.3 108.9 L548.5 108.3 L549.6 108.3 L550.7 108.4 L551.4 107.4 L552 106.5 L552.9 106.2 L553.5 105.8 L554.1 105.3 L554.8 105 L555.7 103.9 L556.4 103 L557.6 103.2 L559.2 103.4 L559.9 103.2 L560.7 102.7 L561.1 101.3 L561.4 99.9 L562.1 98.9 L563.1 97.8 L564.7 97.3 L566.1 97.2 L567.1 97.1 L568 96.6 L568.7 96.5 L569.6 96.6 L570.7 97.4 L571.8 98.1 L572.8 98.8 L573.6 99 L574.4 97.7 L575.2 96.8 L576.3 96.5 L577.7 96.4 L579.3 97.2 L580.4 97.5 L581 96.6 L581.7 95.9 L582.8 95.9 L584 96.1 L585.1 96.6 L586 97 L586.7 97 L587.6 97 L589 97 L590.5 97.1 L590.3 97.6 L590.2 98.3 L590.4 99.8 L591.6 100 L592.9 100.2 L593.8 100.8 L594.8 101.1 L594.6 102.5 L594.7 103.7 L594 104.6 L593.5 105.3 L592.9 105.6 L592.3 106.1 L593 106.8 L593.9 107.2 L594.9 107.5 L595.9 107.7 L597.1 107.7 L598.6 108.1 L599.4 109.3 L599.7 110.2 L598.2 110.6 L596.9 111.1 L595.8 112.2 L595.2 112.9 L594.6 113.2 L593.6 113.8 L592.3 114.6 L591.7 113.6 L590.7 112.8 L589.8 112.2 L589.3 111.3 L588.6 110.1 L586.7 110.3 L584.9 110.4 L583.2 110.1 L581.6 109.8 L580.4 110.7 L579.5 111.9 L578.4 112.7 L577.1 113.3 L575.9 113.9 L575.2 115.1 L574.5 116.1 L573.7 116.6 L572.9 117.7 L572 118.9 L572.3 120.5 L572.8 121.5 L573.2 122.6 L573 124.6 L572.7 126.6 L572.4 128 L572.2 129.4 L571.9 130.7 L571.3 132 L571 133.3 L570.3 133.9 L569.5 134.6 L568.2 135.8 L566.9 136.6 L565.7 137.1 L564.4 136.9 L563.1 137 L561.7 137.2 L560.5 137.4 L559 138.2 L557.5 139 L556.5 138.7 L555.4 138.5 L553.6 137.9 L551.6 137.6 L550.5 136.9 L550.3 135.6 L549.9 134.4 L548.9 133.4 L548 132.2 L546.6 132.4 L545.1 133 L544.6 134.1 L544.2 135.4 L543.6 137.2 L542.4 138.3 L541.8 138.9 L541.4 139.4 L540.6 139.8 L539.7 140.6 L538.6 141.7 L537.5 143.1 L536.7 144.3 L535.4 144.7 L534.4 144.9 L533.5 145.4 L532.6 145.9 L531.6 146.5 L530.5 148.3 L529.5 150.1 L529.3 151.6 L528.7 152.7 L527.6 153.7 L526.8 155.1 L526.2 155.9 L525.9 156.5 L525.6 157.5 L525.2 159.1 L524.2 160.6 L523.7 162.1 L523 163.8 L522.2 165.1 L521.7 166.6 L521.1 168.1 L520.5 169.1 L520.3 170 L520 171.6 L519.2 173.4 L518.5 175.1 L518 176.5 L517.3 177 L516.5 177.9 L515.6 179.2 L515 180.5 L514.3 181.4 L513.4 182.3 L513 183.8 L513.1 185.7 L512.4 187.2 L511.3 188.5 L511 189.9 L511.2 190.9 L510.8 192.1 L509.7 193.8 L509.3 195.5 L509.5 196.8 L509.4 198.3 L509.4 199.9 L509.1 201.3 L508.1 202.5 L507.3 203.7 L507.2 204.9 L507.2 206.2 L507 207.8 L507.2 209.8 L507.1 211.1 L507 212 L506.8 213.1 L506.4 214.5 L506.1 215.9 L506.8 216.9 L507.7 217.7 L508.4 218.7 L509.2 220 L508.2 220.9 L507.1 221.9 L505.7 222.4 L504.3 222.9 L502.7 223.4 L501.1 223.9 L499.9 224.4 L498.8 225 L498.2 226.1 L497.7 227 L496.7 228.5 L495.5 230.2 L495 231.8 L494.9 233.4 L494.7 234.9 L494.7 236.1 L494.6 237.2 L495 238.8 L495.4 240.2 L495.4 241.4 L495.5 242.7 L496 244.4 L496.6 246 L496.8 247.2 L497 248.2 L497.2 249.5 L497.3 251.1 L497.5 252.6 L497.2 253.8 L497 255.1 L497.6 256.6 L498.2 258 L498.8 259.1 L499.2 260 L499.6 261 L500 262.2 L500.6 263.4 L501.1 264.7 L501.7 266.2 L502.3 267.5 L503.3 268.6 L502.7 269.4 L502 270.5 L501.4 271.8 L500.5 272.9 L499.8 274.2 L499.1 275.5 L498.4 277.6 L497.9 279.7 L498.5 280.7 L499.2 281.7 L499.3 283.4 L499.5 285 L499.9 286.2 L499.4 287.4 L498.8 289.2 L498.9 291 L498.4 292.6 L497.5 293.6 L496.4 294.5 L495.2 295.7 L494.3 297.1 L493.8 298 L493.4 298.7 L492.9 299.6 L492.3 300.7 L491.5 302 L491 303.4 L490 304.4Z" fill="#00fff0"/>
<path d="M493.9 -0.7 L493.8 0.4 L493.8 1.5 L493.9 2.6 L494 3.7 L494.5 4.7 L495.1 5.7 L495.8 6.5 L496.5 7.3 L497.1 8.4 L497.7 9.5 L498.8 10.2 L499.9 10.6 L500.6 11 L501.2 11.8 L501.5 13 L502 14.3 L503 14.9 L503.8 15.6 L504.5 16.2 L505 16.9 L506.3 16.3 L507.3 15.7 L507.3 14.7 L507.3 13.9 L507.3 13 L507.3 11.9 L507.9 10 L508.3 8.5 L508.2 7.5 L508.2 6.5 L508.2 5.4 L508.1 4 L508 2.5 L508.3 1.5 L508.9 0.7 L509.3 -0.7 L508.3 -0.6 L507.4 -0.5 L506.4 -0.6 L505.4 -0.7 L504.5 -0.6 L503.5 -0.5 L502.6 -0.6 L501.6 -0.7 L500.6 -0.5 L499.7 -0.3 L498.7 -0.4 L497.8 -0.4 L496.8 -0.6 L495.8 -0.9 L494.9 -0.8Z" fill="#00fff0"/>
<path d="M617.6 413 L619 412.3 L619.9 411.7 L621 411 L622.9 410.1 L624.5 408.8 L626 408.6 L627.5 408.5 L628.9 407.9 L630.1 407.2 L631.5 407.3 L632.9 407.7 L634.4 407.1 L635.9 406.3 L637.3 406.1 L638.5 406.2 L639.9 406.1 L641 406.3 L642.3 406.2 L643.8 406.5 L645.2 406.8 L646.5 406.7 L647.9 406.7 L649.7 406.4 L651.4 406.3 L652.7 406.7 L654 407.2 L655.5 407.1 L657 407 L658.4 406.3 L660 405.5 L661.5 405.3 L663.1 405.1 L664.5 404.9 L665.5 405 L666.7 404.8 L667.7 404.4 L668.9 404.1 L670.5 404 L671.9 403.9 L673.4 403.7 L674.8 403.4 L676.1 403 L677.4 402.5 L678.6 402.1 L680 401.6 L681.3 401.2 L682.3 401.2 L683.5 401.2 L685 400.8 L686.6 400.3 L688 399.9 L688.1 398.4 L688.4 397 L688.4 395.6 L688.3 394.5 L689.2 393.4 L690 392.2 L690.5 391 L691.4 390 L692.3 389.2 L693.7 389.2 L695 388.9 L696.6 388.7 L697.9 388.6 L699.5 388.2 L701 388 L701 389.6 L701.1 391.2 L701.1 392.8 L701.2 394.4 L701.2 396 L701.3 397.5 L701.3 399.1 L701.4 400.7 L701.4 402.3 L701.5 403.9 L701.5 405.5 L701.6 407.1 L701.6 408.7 L701.7 410.3 L701.7 411.9 L701.8 413.4 L701.8 415 L701.9 416.6 L701.9 418.2 L702 419.8 L702 421.4 L702.1 423 L702.1 424.6 L702.2 426.2 L702.2 427.8 L702.3 429.3 L702.3 430.9 L702.3 432.5 L702.4 434.1 L702.4 435.7 L702.5 437.3 L702.5 438.9 L702.6 440.5 L702.6 442.1 L702.7 443.7 L702.7 445.3 L702.8 446.8 L702.8 448.4 L702.9 450 L702.9 451.6 L703 453.2 L703 454.8 L703.1 456.4 L703.1 458 L703.2 459.6 L703.2 461.2 L703.3 462.7 L703.3 464.3 L703.4 465.9 L703.4 467.5 L703.5 469.1 L703.5 470.7 L703.6 472.3 L703.6 473.9 L703.7 475.5 L703.7 477.1 L703.7 478.7 L703.8 480.2 L703.8 481.8 L703.9 483.4 L703.9 485 L704 486.6 L704 488.2 L704.1 489.8 L704.1 491.4 L704.2 493 L704.2 494.6 L704.3 496.1 L704.3 497.7 L704.4 499.3 L704.4 500.9 L704.5 502.5 L704.5 504.1 L704.6 505.7 L704.6 507.3 L704.7 508.9 L704.7 510.5 L704.8 512 L704.8 513.6 L704.9 515.2 L704.9 516.8 L705 518.4 L705 520 L704.5 518.5 L704 517 L703.5 515.5 L703 514 L702.5 512.5 L702 511 L701.5 509.5 L701 508 L699.6 508 L698.3 508.1 L696.4 507.6 L694.9 507.5 L694.1 508 L694.1 506.8 L693.4 505.3 L692.6 503.7 L692.6 502.6 L692.7 501.5 L692.2 500.1 L691.2 498.3 L690.5 496.7 L689.7 495.3 L689.1 494 L688.7 493.1 L687.7 492.2 L687.1 491.1 L686.9 489.9 L686.2 488.9 L685.2 487.8 L684.3 486.5 L683.4 484.9 L682.4 483.7 L681.4 482.8 L681 481.1 L680.2 479.5 L678.7 478.7 L677.9 477.8 L677 477.3 L675.7 476.9 L674.2 476 L672.9 475.2 L671.9 474.3 L671 473.2 L670.2 471.9 L669.2 471 L667.7 470.5 L666.1 469.8 L664.8 468.8 L664.4 468.1 L663.1 468.7 L661.3 468.9 L659.5 469.2 L658.2 470.1 L657.1 471.4 L655.6 471.8 L654.1 472 L652.9 472.7 L652.1 473.7 L651 474.8 L649.5 475.5 L647.8 475.8 L646.7 476.6 L645.9 478 L644.9 477.9 L643.3 477.4 L641.6 476.9 L640.4 476.9 L639.3 476.9 L638 476.7 L636.7 476.3 L635.3 476.1 L633.9 475.9 L632.5 476.4 L631.4 476.8 L630.3 477.2 L628.8 477.2 L627.4 477.1 L626.2 477.7 L625.1 478 L623.8 477.9 L622 477.5 L620.5 477.3 L619.4 477.4 L618.4 477.4 L616.9 476.4 L615.3 475.2 L613.8 474.3 L612.8 473.9 L612.4 472.4 L612 470.7 L611.7 469.5 L611.4 468.4 L611.8 467 L612.3 465.5 L612.8 464.1 L612.7 462.4 L612.6 461.1 L612.3 460 L612.2 458.8 L611.9 457.4 L612.6 456.1 L613.6 454.9 L614.4 454.3 L615.2 453.5 L616.1 451.6 L616.7 449.6 L617 448.4 L617.9 447.4 L618.3 445.9 L618.6 444.6 L619 443.3 L619.8 442.4 L620.8 441.9 L621.6 440.8 L622.5 439.6 L623.4 438.2 L623.7 436.5 L623.9 434.7 L624.9 433.7 L626.1 432.9 L626.1 431.5 L625.4 430.1 L625 428.8 L625.1 427.5 L624.5 426.5 L623.6 424.9 L622.9 423.4 L622.1 422.4 L621.4 421.4 L620.5 420.3 L619.8 418.9 L619.3 417.2 L618.8 415.7 L618.1 414.3Z" fill="#035756"/>
<path d="M645.5 332.9 L646.9 333.5 L648.3 334 L649.4 334.1 L650.6 334.2 L652.1 334.3 L653.5 334.5 L655.1 334.9 L656.4 335.4 L658.1 335.3 L659.7 335 L661.2 334.6 L662.4 334.3 L663.6 333.1 L664.7 333.3 L665.9 334.3 L667.2 335.4 L668.3 336.3 L669.4 337.2 L670.3 337.9 L670.8 338.6 L671.8 339.6 L673.1 340.7 L673.8 341.8 L674.3 342.9 L674.8 344 L675.4 345.4 L676.2 347 L676.8 347.4 L677.5 347.9 L678.6 348.7 L679.8 349.6 L680.8 350.7 L681.7 351.6 L682.5 352.8 L683.5 354 L684.8 354.8 L686 355.6 L686.8 356.2 L687.9 357.2 L689.1 358.1 L690 358.7 L690.9 359.6 L691.8 361 L693.3 361.4 L695.2 362.1 L697 363 L698.6 363.7 L699.8 364.3 L700.7 364.3 L702 365 L702 366.4 L702 367.8 L702 369.2 L702 370.6 L700.5 370.7 L699.2 370.8 L697.6 370.7 L695.9 370.5 L694.2 370.5 L692.5 370.4 L691.2 370.9 L689.8 371.4 L689.2 372.8 L689.3 374.5 L690.4 375.8 L691.1 376.5 L691.9 377.5 L692.5 378.9 L692.8 379.7 L692.9 380.8 L693.5 382.1 L693.9 383.4 L694.2 384.9 L693.2 386.3 L692.1 387.4 L691.8 388.1 L691.1 388.8 L689.9 389.9 L689.7 391.2 L689.5 392.7 L689 394 L688.5 395 L688 396.1 L687.7 397.3 L687.5 398.5 L687.1 399.9 L688 399.9 L686.6 400.3 L685 400.8 L683.5 401.2 L682.3 401.2 L681.3 401.2 L680 401.6 L678.6 402.1 L677.4 402.5 L676.1 403 L674.8 403.4 L673.4 403.7 L671.9 403.9 L670.5 404 L668.9 404.1 L667.7 404.4 L666.7 404.8 L665.5 405 L664.5 404.9 L663.1 405.1 L661.5 405.3 L660 405.5 L658.4 406.3 L657 407 L655.5 407.1 L654 407.2 L652.7 406.7 L651.4 406.3 L649.7 406.4 L647.9 406.7 L646.5 406.7 L645.2 406.8 L643.8 406.5 L642.3 406.2 L641 406.3 L639.9 406.1 L638.5 406.2 L637.3 406.1 L635.9 406.3 L634.4 407.1 L632.9 407.7 L631.5 407.3 L630.1 407.2 L628.9 407.9 L627.5 408.5 L626 408.6 L624.5 408.8 L623.2 409.9 L621.6 410.8 L620.3 411.5 L619.6 412.1 L618.7 412.6 L618.9 411.6 L619 410.5 L618.6 409.5 L618.4 408.4 L617.2 407.7 L616.3 406.8 L614.8 406.3 L613.7 405.4 L614.4 404.5 L615.6 403.4 L616.5 402 L617.2 400.9 L617.5 400.2 L617.6 399 L618.4 397.5 L619 395.9 L619.4 394.4 L619 393.2 L618.6 391.5 L618.1 389.9 L617.3 388.6 L616.4 387.2 L615.9 385.7 L615.6 384.3 L614.8 383.2 L613.5 382 L612.3 380.5 L611.7 379.5 L612.3 379 L612.6 378.2 L614 377.9 L615.3 377.6 L616.3 377.1 L617.2 376.7 L618.3 376.6 L619.5 376.4 L620.3 375.6 L621.6 374.7 L623 373.5 L623.9 372.3 L624.8 371.6 L625.9 372.1 L627.4 371.8 L629.2 371.2 L629.9 369.7 L630.4 368.4 L631 367.6 L630.7 366.3 L630.4 365 L630.1 363.8 L629.2 362.2 L628.7 360.7 L629 359.3 L629.7 357.8 L629.9 356.4 L630.8 355.8 L631.5 355 L632.4 354.2 L633.7 353.1 L634.1 351.8 L634.5 350.6 L634.9 348.9 L634.3 347.8 L633.7 346.3 L633.1 344.5 L633.9 344 L634.8 343.6 L636.1 342.8 L637.3 341.9 L638.5 340.9 L639.6 340.4 L641 339.8 L642.6 339 L642.8 338 L643.1 337 L643.9 335.6 L644.8 334.2Z" fill="#02ddd2"/>
<path d="M629.3 276.7 L627.7 277.5 L626 277.8 L624.1 278.3 L622.7 278.5 L621.9 278.2 L620.5 278.5 L618.9 279.1 L617.5 279.6 L616.1 280.4 L614.6 280.8 L613.3 280.9 L612 281.4 L610.5 282 L608.9 282.4 L607.5 282.6 L606.2 282.7 L604.6 283.4 L602.9 284.3 L601.8 285.3 L600.8 285.8 L599.5 286.5 L598.4 287.4 L597.3 288.7 L596.3 290.1 L594.9 290.6 L593.8 291.4 L593.3 292.7 L593.9 294.2 L594.3 295.8 L594.8 297.4 L594.9 299 L595.2 300.5 L596.2 301.3 L597.2 302.1 L598 303 L598.6 303.9 L599.1 304.6 L600.2 305 L601.2 305.7 L602.3 306.4 L603 307.7 L603.7 309 L604.5 310.5 L605.1 312 L606.2 311.1 L607.3 310.3 L608.1 309.3 L608.9 308.3 L609.9 307.6 L610.9 308.1 L612.1 308.4 L613.5 308.8 L614.9 309 L616.4 308.7 L617.9 308.5 L619.3 309.4 L620.6 310.4 L621.4 311.5 L622.6 311.9 L624 312.8 L625.7 312.2 L627.5 311.8 L628.7 312 L629.8 312.1 L630.5 310.9 L631.5 309.6 L632.8 308.4 L633.4 307.6 L632.3 306.8 L631.8 305.7 L631.6 304.4 L631.4 302.8 L631.2 301.2 L630.9 299.9 L630.8 298.8 L630.6 297.9 L630.3 296.4 L629.9 294.6 L629.6 293.3 L629.5 292.5 L629.3 291.3 L629.4 289.7 L629.3 288.1 L628.8 286.8 L628.4 285.6 L628 284.3 L628.2 282.5 L628.3 281 L628.3 279.5 L628.5 278.1Z" fill="#02ddd2"/>
<path d="M583.4 299.4 L584.6 298.8 L586 298.1 L587.6 297.1 L588.6 297.7 L589.3 298.5 L590.1 299.2 L591.1 299.8 L590.3 300.7 L589.5 301.7 L589.1 302.7 L588 302.8 L586.3 302.7 L584.6 302.7 L584.3 301.7 L584.1 300.8Z" fill="#02ddd2"/>
<path d="M580.9 307.7 L582.3 306.8 L583.4 306 L584.1 305.3 L585.6 304.6 L587.6 304.8 L589 305.1 L590.2 305.7 L591.6 305.8 L592.2 307.4 L592.7 309.4 L591.9 309.3 L590.7 309.6 L589.3 310.3 L588.2 310.7 L587.5 311.8 L586.4 313.1 L585 314.4 L584.3 313.2 L583.3 312 L582.2 310.6 L581.1 309.1Z" fill="#02ddd2"/>
<path d="M605.1 312 L605.2 313 L605.3 313.9 L605.5 315.1 L605.7 316.3 L606.2 317.6 L607.1 318.9 L608 320.3 L608.4 321.5 L607.6 322.7 L607 324 L605.9 325.8 L604.9 327.2 L603.7 327.2 L602.4 327.4 L601 327.8 L600.1 326.9 L599.1 325.9 L598 324.9 L596.9 323.9 L596 323 L595.2 321.9 L594.2 320.7 L593.1 319.8 L591.5 319.9 L590.1 319.5 L588.7 320.1 L587.6 320.8 L586.7 321.4 L585.9 322 L585.2 323 L584.7 324.3 L583.9 325.3 L583.2 326.4 L582.8 327.7 L582.4 328.8 L582 330.1 L581.2 331.6 L580.7 333.1 L580.4 334.8 L579.9 336.3 L580.2 337.5 L580.4 338.9 L579.9 340.8 L579.6 342.5 L580 343.9 L580.9 344.8 L581.8 345.6 L582.8 346.3 L584.1 345.2 L585.2 344.3 L586.3 343.6 L587.3 343.1 L588.3 342.5 L589.3 341.8 L590.2 341 L591.7 340.7 L593.4 340.8 L594.7 340.7 L596.3 340.5 L597.9 340.4 L599.5 340.2 L601.1 340 L602.5 339.9 L603.9 339.7 L605.1 338.7 L606.3 338.1 L608 337.8 L609.5 337.5 L610.7 337.6 L612 337.3 L613.4 336.9 L614.6 336.4 L615.6 335.9 L616.2 335.3 L616.9 336.1 L617.7 336.8 L618.8 337.4 L619.7 337.7 L621 337.9 L622.6 339.1 L624.3 339.8 L626 340.3 L627.4 340.6 L628.4 341 L629 341.8 L630 342.9 L631.2 343.7 L632.2 344.1 L633.1 344.5 L633.9 344 L634.8 343.6 L636.1 342.8 L637.3 341.9 L638.5 340.9 L639.6 340.4 L641 339.8 L642.6 339 L642.8 338 L643.1 337 L643.9 335.6 L644.8 334.2 L645.5 332.9 L645 331.6 L644.5 330.2 L643.7 328.5 L642.9 327 L642.1 325.7 L641.6 324.3 L640.6 323.1 L639.4 322.3 L638.4 321.3 L637.8 319.9 L637.3 318.6 L636.5 317.5 L636.1 316.4 L635.5 315 L634.7 313.4 L633.7 311.8 L633.6 310.3 L634 308.8 L633.4 307.6 L632.8 308.4 L631.5 309.6 L630.5 310.9 L629.8 312.1 L628.7 312 L627.5 311.8 L625.7 312.2 L624 312.8 L622.6 311.9 L621.4 311.5 L620.6 310.4 L619.3 309.4 L617.9 308.5 L616.4 308.7 L614.9 309 L613.5 308.8 L612.1 308.4 L610.9 308.1 L609.9 307.6 L608.9 308.3 L608.1 309.3 L607.3 310.3 L606.2 311.1Z" fill="#02ddd2"/>
<path d="M582.8 346.3 L582.7 348.1 L582.9 349.5 L583.2 350.7 L583 352.1 L582.8 353.5 L583.4 355.1 L584.3 356.6 L585.1 358 L585.7 359.5 L586 360.5 L586.1 361.5 L587.6 361.7 L589 361.8 L590 361.9 L591.3 361.8 L592.9 361.5 L594.2 361.8 L595.9 362.3 L597.4 362.9 L598.8 364.1 L599.6 365.8 L600.4 367 L601 367.9 L601.7 369 L601.7 370.4 L601.7 371.9 L601.7 373.1 L601.7 374.3 L602.9 374.6 L604 375 L605.3 375.4 L606.7 376 L608.3 376.4 L609.9 376.7 L611.3 377.4 L612.6 378.2 L614 377.9 L615.3 377.6 L616.3 377.1 L617.2 376.7 L618.3 376.6 L619.5 376.4 L620.3 375.6 L621.6 374.7 L623 373.5 L623.9 372.3 L624.8 371.6 L625.9 372.1 L627.4 371.8 L629.2 371.2 L629.9 369.7 L630.4 368.4 L631 367.6 L630.7 366.3 L630.4 365 L630.1 363.8 L629.2 362.2 L628.7 360.7 L629 359.3 L629.7 357.8 L629.9 356.4 L630.8 355.8 L631.5 355 L632.4 354.2 L633.7 353.1 L634.1 351.8 L634.5 350.6 L634.9 348.9 L634.3 347.8 L633.7 346.3 L633.1 344.5 L632.2 344.1 L631.2 343.7 L630 342.9 L629 341.8 L628.4 341 L627.4 340.6 L626 340.3 L624.3 339.8 L622.6 339.1 L621 337.9 L619.7 337.7 L618.8 337.4 L617.7 336.8 L616.9 336.1 L616.2 335.3 L615.6 335.9 L614.6 336.4 L613.4 336.9 L612 337.3 L610.7 337.6 L609.5 337.5 L608 337.8 L606.3 338.1 L605.1 338.7 L603.9 339.7 L602.5 339.9 L601.1 340 L599.5 340.2 L597.9 340.4 L596.3 340.5 L594.7 340.7 L593.4 340.8 L591.7 340.7 L590.2 341 L589.3 341.8 L588.3 342.5 L587.3 343.1 L586.3 343.6 L585.2 344.3 L584.1 345.2Z" fill="#00fff0"/>
<path d="M575.1 368 L576.1 367.4 L577.5 366.6 L579.2 365.8 L580.2 365.1 L580.9 364.2 L581.8 363.6 L583.1 362.7 L584.6 361.9 L586.1 361.5 L587.6 361.7 L589 361.8 L590 361.9 L591.3 361.8 L592.9 361.5 L594.2 361.8 L595.9 362.3 L597.4 362.9 L598.8 364.1 L599.6 365.8 L600.4 367 L601 367.9 L601.7 369 L601.7 370.4 L601.7 371.9 L601.7 373.1 L601.7 374.3 L600.2 374.4 L598.8 374.5 L597.4 374.4 L596.1 374.6 L595.2 374.8 L593.7 374.7 L592.1 374.1 L590.5 374.1 L588.7 374.1 L587 374.4 L585 374.9 L583.5 374.9 L581.9 374.9 L580.6 375 L579.4 375.2 L577.7 375 L576 374.8 L575.2 373.8 L574.5 373 L574.3 372.4 L574.6 370.7 L575 369.3Z" fill="#035756"/>
<path d="M681.9 571.9 L682.7 570.9 L683.2 570 L684.1 569.1 L685.1 568 L686.3 566.8 L687.6 566.1 L688.6 565.7 L690.1 565.3 L691.3 565 L692.4 564.5 L693.7 564.2 L695.2 564 L696.7 563.7 L698.2 563.2 L699.6 562.8 L700.3 562.5 L701.7 562.2 L703 562 L703 563.6 L703 565.2 L703 566.8 L703 568.3 L703 569.9 L703 571.5 L703 573.1 L703 574.7 L703 576.2 L703 577.8 L703 579.4 L703 581 L701.5 581.5 L700 582 L698.2 582 L696.7 582.9 L695.5 583.7 L694.2 584.7 L692.8 585.7 L691.7 586.1 L690.8 585.9 L689.8 585.9 L688.7 586.5 L687.4 586.9 L685.8 587.4 L684.7 588.6 L683 588.9 L681.2 588 L679.6 587.7 L679.8 586.1 L680 584.5 L679.9 583 L679.9 581.5 L680.2 580.3 L680.3 578.8 L680.4 576.9 L680.2 575.2 L679.5 573.6 L679.7 572 L680.6 571.7Z" fill="#00fff0"/>
<path d="M686.2 593 L687.6 592 L689.2 591.1 L690.5 590 L691.7 589.6 L692.8 589.4 L694.2 588.9 L695.7 588.2 L697.4 587.7 L699.3 587.2 L700.1 587.6 L701.5 587.3 L703 587 L703 588.6 L703 590.1 L703 591.7 L703 593.3 L703 594.9 L703 596.4 L703 598 L703 599.6 L703 601.1 L703 602.7 L703 604.3 L703 605.9 L703 607.4 L703 609 L703 610.6 L703 612.1 L703 613.7 L703 615.3 L703 616.9 L703 618.4 L703 620 L703 621.6 L703 623.1 L703 624.7 L703 626.3 L703 627.9 L703 629.4 L703 631 L701.8 630.9 L700.5 630.8 L698.9 630.8 L697.7 630.7 L698.7 629.8 L700 628.6 L700 627 L700 625.5 L700 623.9 L700 622.3 L700 620.7 L700 619.1 L700 617.6 L700 616 L699.9 615.7 L699.2 615.1 L698.4 614.1 L697.5 613.2 L696.6 612.4 L695.2 611.3 L694.2 610 L693 609 L691.4 608.7 L690 608.5 L688.7 608 L688 607.1 L687 606.4 L685.6 606 L686.1 604.7 L686.5 603.5 L686.8 602.5 L686.2 601.1 L685.7 599.4 L685.1 598 L685.3 596.5 L685.7 594.6Z" fill="#00fff0"/>
<path d="M692.1 619.2 L693.5 619.7 L694.5 620.3 L695.3 620.9 L697 621.3 L698.9 621.7 L700.1 621.6 L701.5 622 L703 622.3 L703 623.9 L703 625.5 L703 627 L703 628.6 L701.5 628.4 L700.1 628.1 L698.9 628.4 L697.5 628.1 L695.9 627.8 L694.7 627.1 L693.5 626.2 L692.7 625.3 L692.4 624 L692.1 623 L691.7 622 L692.1 620.8Z" fill="#02ddd2"/>
<path d="M522.6 392.4 L523.6 392.9 L524.7 393.4 L525.6 392.3 L526.2 391.2 L526.6 390.7 L527.4 390.1 L528.8 388.8 L529.9 388 L530.8 387.2 L532.3 386.1 L533.7 384.9 L534.9 383.9 L535.9 382.9 L537.1 382.4 L538.3 382 L539.1 381 L540.3 380.1 L541.9 379.2 L543.3 378.1 L544.4 377.5 L545.5 376.9 L546.7 376.1 L547.6 375.1 L548.3 374.2 L549.4 373.5 L550.9 373.3 L552.4 372.7 L554.1 372.5 L555.7 372.3 L556.7 371.3 L557.6 371 L558.6 371.2 L559.4 371.4 L560.5 372.5 L562 373.9 L563.3 375.4 L564.3 376.7 L565.9 376.3 L567.5 375.8 L568.9 375.9 L570.3 376 L571.3 375.8 L572 375.4 L573.2 375.1 L574.9 374.8 L576 374.8 L577.7 375 L579.4 375.2 L580.6 375 L581.9 374.9 L583.5 374.9 L585 374.9 L587 374.4 L588.7 374.1 L590.5 374.1 L592.1 374.1 L593.7 374.7 L595.2 374.8 L596.1 374.6 L597.4 374.4 L598.8 374.5 L600.2 374.4 L601.7 374.3 L602.9 374.6 L604 375 L605.3 375.4 L606.7 376 L608.3 376.4 L609.9 376.7 L611.3 377.4 L612.6 378.2 L612.8 379.2 L613 380 L613.9 381.4 L615.1 382.9 L615.8 384.2 L615.9 385.7 L616.4 387.2 L617.3 388.6 L618.1 389.9 L618.6 391.5 L619 393.2 L619.4 394.4 L619 395.9 L618.4 397.5 L617.6 399 L617.5 400.2 L617.2 400.9 L616.5 402 L615.6 403.4 L614.4 404.5 L613.7 405.4 L614.8 406.3 L616.3 406.8 L617.2 407.7 L618.4 408.4 L618.6 409.5 L619 410.5 L618.9 411.6 L618.7 412.6 L618.9 413.9 L619.4 415.5 L619.6 417.2 L620 418.8 L620.5 420.3 L621.4 421.4 L622.1 422.4 L622.9 423.4 L623.6 424.9 L624.5 426.5 L625.1 427.5 L625 428.8 L625.4 430.1 L626.1 431.5 L626.1 432.9 L624.9 433.7 L623.9 434.7 L623.7 436.5 L623.4 438.2 L622.5 439.6 L621.6 440.8 L620.8 441.9 L619.8 442.4 L619 443.3 L618.6 444.6 L618.3 445.9 L618 447.4 L617.1 448.4 L616.8 449.6 L616.3 451.5 L615.7 453.5 L616 454.6 L616.4 455.9 L616.8 457.6 L617.2 459.4 L615.9 458.8 L614.7 458.8 L613.2 459.2 L611.8 459.5 L610.5 459 L609.4 458.5 L608.5 457.8 L607.3 456.5 L606.1 455.5 L604.4 456.1 L602.6 456.8 L601.4 456.9 L600.4 457 L599.2 457 L597.8 456.9 L596.5 457 L595.4 457.5 L594.2 457.8 L592.8 457.8 L591.2 457.6 L589.7 457.7 L588.4 458.4 L587.3 459.3 L586.9 460.3 L586.3 461 L585 460.6 L583.2 460.3 L581.5 460.1 L579.9 459.3 L578.3 458.6 L577 458.8 L575.7 459 L574.7 458.6 L573.9 458.1 L572.5 458.1 L571.2 457.5 L569.8 456.7 L568.6 455.9 L567.3 455.2 L566 454.4 L564.5 453.3 L563.4 452.4 L562.8 451.9 L562.2 451.4 L561.1 451.1 L559.7 450.5 L558.3 449.9 L557.2 449.6 L556 449.2 L554.4 449.3 L552.4 449.7 L551.1 449.3 L550.6 447.7 L549.9 446.4 L548.8 445.5 L547.6 444.9 L547.1 444.1 L545.8 444.4 L544.5 444.7 L543.1 444.9 L541.5 444.8 L540.4 443.5 L538.8 442.9 L537 442.2 L535.7 441.4 L534.6 440.5 L533.4 439.9 L532.4 439.3 L531.1 438.4 L529.7 437.6 L530.5 436.4 L531.4 435.2 L530.5 433.6 L529.6 432 L529.4 430.8 L529.2 429.4 L528.7 428 L528.3 426.8 L528.1 425.4 L528 423.6 L527.8 422.1 L528 420.7 L528.1 419.4 L527.2 418.6 L526.3 417.5 L525.9 415.7 L525.4 414 L524.9 412.6 L524.5 411.1 L524.2 409.9 L523.8 408.9 L523.5 407.6 L523 406.2 L523.1 404.7 L523.3 403.4 L523.5 402.1 L523.9 400.5 L524.2 398.9 L523.8 397.6 L523.4 396.3 L523.2 395 L523 393.8Z" fill="#ff008a"/>
<path d="M450 397.5 L450.7 396.3 L451.9 394.6 L453.2 394.8 L454.6 395.3 L456.2 395.7 L457.4 395.6 L458.5 395.7 L459.7 396.2 L461.1 396.8 L462.3 397.4 L463.7 396.7 L464.9 396 L465.9 395.2 L466.1 394.1 L466.2 392.8 L466.3 391.6 L466.4 390.4 L466.9 388.6 L467.4 386.8 L467.7 385.5 L468 384.5 L466.9 383.2 L466 382 L465.2 380.8 L464 380 L463.2 379 L462.9 377.7 L463.1 376.4 L463.1 375 L464.1 375.6 L466 375.4 L468.3 375 L469.5 375.2 L470.5 375.5 L472.4 375.4 L474.5 375.3 L475.8 375.3 L476.9 375.4 L477.9 376.5 L478.4 377.8 L478.5 379.2 L478.8 380.5 L480.1 381.3 L481.7 382.2 L483.2 383 L484.5 383.2 L485.6 383.1 L487.1 383.2 L488.9 383.4 L490.2 383.6 L489.9 385.2 L489.6 386.8 L489 388.4 L490.5 388.7 L492.3 389.1 L493.4 389.3 L494.2 388.6 L495.8 388.3 L497.5 387.4 L499 386.5 L500.2 386.1 L501.4 385.7 L502.4 384.9 L503.2 384.1 L504.4 383.3 L505.6 382.6 L506.9 382.4 L508.5 381.8 L509.6 380.6 L510.3 379.6 L511 378.8 L511.9 379.9 L512.6 380.9 L513 382 L513.4 383.2 L514.9 384.3 L516.2 385.7 L517.2 386.9 L518 387.5 L519 388 L520.4 389 L522.1 389.8 L523.5 390.2 L524.1 391.7 L524.7 393.4 L523.6 392.8 L522.6 392.4 L523 393.8 L523.2 395 L523.4 396.3 L523.8 397.6 L524.2 398.9 L523.9 400.5 L523.5 402.1 L523.3 403.4 L523.1 404.7 L523 406.2 L523.5 407.6 L523.8 408.9 L524.2 409.9 L524.5 411.1 L524.9 412.6 L525.4 414 L525.9 415.7 L526.3 417.5 L527.2 418.6 L528.1 419.4 L528 420.7 L527.8 422.1 L528 423.6 L528.1 425.4 L528.3 426.8 L528.7 428 L529.2 429.4 L529.4 430.8 L529.6 432 L530.5 433.6 L531.4 435.2 L530.5 436.4 L529.7 437.6 L529.7 437.6 L528 437.8 L526.7 438.6 L525.5 439.5 L524 439.8 L522.7 440.1 L521.5 440.7 L520.6 441.8 L519.6 443 L518.1 443.6 L516.5 443.6 L515.3 444.1 L514.5 445 L513.7 445.5 L512.7 446.1 L511.6 447.6 L510.4 448.5 L509.1 448.8 L507.9 449.1 L506.7 450 L505.4 451.2 L504 451.7 L504.1 452.8 L504.9 454.4 L505.3 456 L505 457.5 L505.5 458.6 L506.2 459.8 L506.9 460.9 L507.5 462.3 L508.2 463.8 L509 464.6 L509.6 465.3 L510.2 466.3 L511 467.4 L512.1 468.6 L512.8 469.5 L513.6 470.5 L514.6 471.7 L515.7 472.5 L516.9 473.1 L518 474 L519 475.2 L519.9 476.4 L520.6 477.5 L519.6 478.5 L518.5 479.5 L517.5 480.5 L516.6 481.4 L515.7 482.2 L514.8 482.8 L513.9 483.5 L512.9 484.3 L511.8 485.1 L511.4 486.7 L511.7 488.1 L511.7 489.7 L511 491.1 L511.2 492.5 L511.8 494.2 L512.3 495.8 L513.2 496.6 L512.1 497.1 L511.1 497.9 L509.5 498.1 L507.7 497.1 L506.3 496.7 L505.2 496.2 L504.3 495.5 L503.1 495.6 L501.9 495.7 L500.4 495.8 L501.9 495.4 L503.3 494.9 L504.7 494.4 L503.3 495 L502 495.7 L500.7 496.3 L498.9 497 L497.2 497.8 L496.2 498.5 L494.9 499.1 L493.3 499.4 L492.2 499.7 L491 500.4 L489.5 501.3 L487.9 501.8 L486.2 502.3 L484.9 502.7 L483.7 503.2 L482.5 503.7 L481.4 504.3 L480.8 503.3 L480.1 502.3 L479.3 501.2 L477.7 500.4 L476.2 499.8 L475.2 499.3 L474.4 498.7 L472.9 498.3 L471.3 497.8 L469.5 497.3 L467.7 496.9 L466.5 496.5 L465.2 495.8 L464.1 495.4 L462.9 495.2 L461.4 495.7 L460.4 496 L459 496.2 L457.3 495.6 L455.8 495 L454.3 495.4 L452.7 495.6 L453 494 L453.2 492.3 L452.9 490.8 L452.5 489.2 L452.2 487.9 L452.3 487 L452.8 485.7 L453.4 484.3 L453.8 482.8 L454.2 481 L455.1 479.9 L455.8 478.5 L456.5 476.9 L457.1 475.7 L458 474.7 L458.9 473.7 L460.1 472.6 L459.1 471.9 L458.1 471.1 L457 470.4 L456 469.9 L455 469.6 L454.1 468.8 L452.8 468.1 L451.2 467.9 L449.6 467.4 L448.5 466.4 L447.4 465.5 L446.2 464.9 L445 464.7 L443.7 464.2 L442.7 462.9 L442.2 461.7 L441.7 460.3 L440.9 458.9 L440.6 457.5 L440.7 456.3 L440.3 455 L439.7 453.9 L439.1 452.9 L438.7 451.9 L439.5 450.9 L440 450 L439.8 448.6 L439.5 447 L438.3 445.4 L437 443.8 L436.5 442.4 L437.3 441.5 L438.5 440.8 L438.5 439.1 L438.6 437.5 L439.1 436.5 L439.7 435.8 L439.9 434.8 L440.1 433.5 L440.4 432.2 L440 431.1 L439.2 430.3 L438.8 429.4 L439.6 427.7 L440.3 425.8 L441.2 425.2 L442.3 424.7 L443.5 424.5 L445 424.2 L446.6 423.8 L447.5 423 L448.2 422.2 L448.8 421.3 L448.6 420.2 L448.5 419 L449 417.4 L449.2 416 L449.4 415.3 L449.9 414.5 L450.8 413.1 L450.7 411.4 L450.6 410.1 L450.2 408.9 L450.3 407.6 L450.8 406.6 L451.5 405.8 L451.9 404.4 L452 402.8 L452.2 401.3 L451.6 400.2 L450.9 398.7Z" fill="#02ddd2"/>
<path d="M402.7 433.8 L403.1 435.3 L403.7 437.3 L404.3 439.1 L405 440.6 L405.9 441.5 L406.8 442.2 L408.3 442.7 L409.6 443.6 L410.4 444.9 L411.2 445.7 L412.6 446.7 L414.3 447.7 L415.3 448.4 L416.3 449 L417.6 449.5 L419.1 450.2 L420.5 450.9 L421.2 451.8 L421.6 453.1 L421.4 454.4 L421.5 455.8 L422.7 456.2 L424.4 456.2 L426 456.2 L427.1 456.7 L427.6 457.7 L428.4 458.4 L429.5 459.7 L430.7 460.9 L431.8 461.4 L433 462.3 L434.2 463.4 L435.1 462.5 L435.6 461.6 L436.4 462.4 L437 463.1 L438 464.2 L439.4 463.3 L441.1 462.4 L442.2 461.7 L442.7 462.9 L443.7 464.2 L445 464.7 L446.2 464.9 L447.4 465.5 L448.5 466.4 L449.6 467.4 L451.2 467.9 L452.8 468.1 L454.1 468.8 L455 469.6 L456 469.9 L457 470.4 L458.1 471.1 L459.1 471.9 L460.1 472.6 L458.9 473.7 L458 474.7 L457.1 475.7 L456.5 476.9 L455.8 478.5 L455.1 479.9 L454.2 481 L453.8 482.8 L453.4 484.3 L452.8 485.7 L452.3 487 L452.2 487.9 L452.5 489.2 L452.9 490.8 L453.2 492.3 L453 494 L452.7 495.6 L451.8 496.1 L450.7 496.7 L449.2 497 L447.9 496.9 L446.5 497.2 L444.9 497.9 L444.9 499.3 L444.8 500.8 L444.8 502 L443.9 503.1 L443 504.2 L442.2 505.3 L441.2 506.6 L440.2 507.7 L439.1 508.8 L438.1 510.1 L437.3 511.6 L436.4 513.1 L435 514.2 L434.4 515.3 L434.4 516.5 L435 517.7 L435.8 517 L437.1 516.3 L438.4 515.6 L439.3 515 L440.2 516.1 L441.2 517.3 L442 518.3 L442.4 519.4 L442.9 520.2 L443.2 521.2 L443.7 522.6 L443.6 524.4 L443.5 525.8 L443.6 527 L443.5 528.5 L443.2 530.4 L443.8 532.1 L444.3 532.8 L444.7 534.1 L444.9 536 L444.1 537.3 L443.7 538.2 L442.9 539.3 L441.9 540.8 L442.9 542.1 L443.4 543.9 L443.5 546.1 L443.8 547.5 L444.6 548.2 L445.7 549.2 L446.8 550.2 L447.7 550.9 L448.7 551.7 L449.1 553 L449.6 554.3 L450.2 555.6 L451.1 556.8 L450.1 557.3 L449 558.6 L447.7 559.6 L446.1 559.9 L444.5 560.3 L443.3 561.2 L442.6 562.4 L441.8 562.9 L440.5 563.7 L439.4 565.1 L438.4 565.9 L437.2 566.5 L435.7 567.1 L434.7 568 L433.6 568 L432.6 567.9 L430.9 568 L429.2 568 L427.7 567.6 L426.1 567.5 L425 567.1 L424.3 566.6 L423.1 565.4 L422 564.2 L421.3 563.1 L420.4 562.4 L418.5 561.9 L416.6 561.3 L415.3 561 L414.2 560.6 L412.7 560 L411.4 559.6 L410.3 559.2 L408.6 559.7 L406.9 560.2 L405.7 560.4 L404.2 560.9 L402.4 561.4 L401.1 561.9 L400.1 562.1 L399.7 562.6 L399.2 563.2 L398.2 564.5 L396.9 566.1 L395.8 567.4 L395.2 568.5 L395.5 569.8 L395.9 571.1 L396.3 572.5 L396.2 574.1 L396 575.8 L396.4 577.2 L394.9 577.1 L393.3 576.7 L391.9 576.8 L390.7 576.9 L389.2 576.8 L387.5 576.3 L385.9 576.1 L384.6 576.5 L383.2 576.4 L381.7 576 L380.5 575.3 L379.1 574.6 L377.6 573.9 L376.5 573 L376 572.1 L374.8 571.6 L373.3 570.9 L371.8 570.5 L370 570.1 L368.2 569.6 L367.1 569.9 L365.9 570.1 L364.7 569.7 L363.5 569.4 L361.8 568.7 L360.5 567.7 L359.1 567.3 L357.9 566.9 L356.5 566.5 L354.8 566 L353.2 565.3 L352.3 564.7 L351.5 564.3 L350.3 563.1 L348.9 561.9 L347.6 560.8 L346.9 559.9 L346.1 558.6 L345 557.6 L343.7 557.2 L342.5 556.6 L341.5 555.6 L340.6 554.5 L340.7 553.1 L341.1 551.8 L342.4 549.9 L343.3 548.5 L343.2 547.6 L343.3 546.6 L343.9 544.9 L344.6 543 L345.1 541.9 L345.5 540.9 L346 539 L346.5 537.2 L347 535.9 L347.3 534.5 L348 533.2 L348.9 531.8 L349 530 L349.3 528.3 L349.6 527 L349.9 525.4 L350.4 523.9 L351.1 522.8 L351.4 521.6 L351.3 520.3 L350.9 520.3 L350.9 518.8 L351 517.2 L351.3 515.7 L352.1 514 L352 512.6 L351.5 511.4 L351 509.9 L350.4 508 L349.4 506.5 L348.6 505.5 L348.2 504.7 L347.6 503.6 L346.7 502.6 L345.6 501.5 L344.9 500.2 L344.3 499 L343.8 497.6 L343.1 496.2 L342.4 494.8 L341.5 492.8 L340.9 491.2 L340.7 489.9 L339.7 489.1 L338.8 487.6 L338.1 485.9 L337.3 485.1 L336.3 484.2 L335.2 483.5 L334.2 482.7 L333 481.6 L331.7 480.7 L330.7 480.2 L329.5 479.9 L328.3 478.9 L327.3 478 L326.3 477.5 L324.9 477 L323.3 476.7 L321.5 476.9 L319.8 476.1 L319.6 474.6 L319.3 473.3 L319.3 472 L319.3 470.6 L319 469.3 L318.4 468.2 L318.2 467.1 L317.9 466.2 L319.1 465.4 L320.3 464.5 L321.5 463.7 L322.5 462.8 L323.8 462.7 L325.8 463.1 L327.5 463.4 L328.5 463 L329.5 462.7 L331.3 463 L333.1 463.3 L334.4 463.3 L335.8 463.4 L337.1 463.6 L337.8 464.1 L338.9 464.6 L340.7 465.4 L342.4 466.3 L343.6 467.2 L344.7 468 L345.9 468.4 L346.8 468.5 L347.9 468.8 L349.7 468.8 L351.6 468.8 L352.9 468.9 L354.3 469 L354.5 467.9 L354.7 466.4 L355 464.9 L355.2 463.8 L354.6 462.6 L354.2 461 L354 459 L353.4 457.4 L353.1 456.1 L353.1 454.7 L353.2 453.4 L353.2 452.1 L353.3 451.1 L354.8 451.3 L355.6 451.7 L356.4 452.1 L357.7 452.2 L358.4 453.2 L359.2 454.3 L360 455.6 L360.6 457 L361.9 457.3 L363 457.7 L364.1 458 L365.1 457.9 L366.5 458.3 L367.9 458.9 L369.7 459.7 L371.6 459.5 L373 458.9 L373.8 458 L375 457 L376.2 456 L377.3 455.2 L378.1 454.7 L378.7 454 L379.7 452.7 L381 451.7 L382.1 451.3 L383.2 450.8 L384.5 450.2 L385.8 449.4 L386.8 448.6 L387.6 448.1 L388.5 447.3 L389.6 446.4 L390.6 446 L390.8 445.1 L391.1 443.8 L391.6 442.4 L391.9 441 L391.6 439.2 L392.3 438.2 L393.4 437.5 L394.7 436.9 L395.7 436.2 L397.4 435.4 L399.3 434.5 L400.5 434.4 L401.4 434.3Z" fill="#00fff0"/>
<path d="M470.9 573 L472.1 573.2 L473.3 573.3 L473.5 574.6 L473.8 576 L474.2 577.4 L474.4 578.8 L474.5 580.6 L474.6 582.2 L475.1 583.3 L475.6 584.4 L475.7 585.7 L475.4 587 L475.5 588.3 L476 590.1 L475.5 591.3 L474.9 592.5 L474.5 593.9 L473.7 595.8 L472.9 597.4 L471.3 597.3 L470 597.9 L468.8 598.9 L467.9 598 L467.2 597.2 L466.5 596.9 L465.4 596.4 L464.2 594.7 L463.6 593.1 L463.1 591.3 L462.8 589.8 L462.8 588.9 L462.7 587.5 L462.6 585.6 L462.7 584.2 L463.4 583.1 L464.4 581.5 L464.9 580.5 L465.4 579.9 L466.2 578.6 L466.9 577.4 L467.5 576.4 L468.6 575.3 L469.8 574.2Z" fill="#00fff0"/>
<path d="M246.9 543.5 L248.1 542.9 L249.7 542 L251 540.8 L252.1 540 L253.4 539.3 L254.7 538.2 L256.1 537.3 L257.6 536.8 L258.9 536.4 L259.7 535.9 L260.9 535.4 L262.2 535.1 L263.2 534.9 L264.7 534.3 L266.6 533.4 L267.8 534.1 L269 534.9 L270.4 535.6 L271.4 536.1 L272 536.6 L273.5 537.3 L275.4 538.2 L276.8 538.8 L278 539.4 L279.4 540 L281.1 540.6 L282.6 540.9 L283.8 541 L285 541.1 L286.8 541.8 L288.7 542.5 L289.9 542.8 L291.2 543 L292.4 543.4 L293.4 543.5 L294.7 544.1 L296.3 545 L298 545.7 L299.6 546.5 L300.8 547 L301.6 547.1 L302.7 547.3 L304.1 547.5 L305.5 547.6 L307.1 547.7 L308.5 547.8 L309.8 548.1 L311 548.9 L312.5 549.3 L314.5 549.7 L315.9 549.9 L317.1 549.5 L318.5 549.7 L319.8 550.1 L321.1 550.7 L322.7 551.3 L324.2 551.9 L325.6 552 L327 552.5 L328.5 553.1 L330 553.4 L331.3 553.4 L332.6 553.4 L334.4 553.7 L336.4 553.7 L337.8 554.1 L339.3 554.5 L340.6 554.5 L341.5 555.6 L342.5 556.6 L343.7 557.2 L345 557.6 L346.1 558.6 L346.9 559.9 L347.6 560.8 L348.9 561.9 L350.3 563.1 L351.5 564.3 L352.3 564.7 L353.2 565.3 L354.8 566 L356.5 566.5 L357.9 566.9 L359.1 567.3 L360.5 567.7 L361.8 568.7 L363.5 569.4 L364.7 569.7 L365.9 570.1 L367.1 569.9 L368.2 569.6 L370 570.1 L371.8 570.5 L373.3 570.9 L374.8 571.6 L376 572.1 L376.5 573 L377.6 573.9 L379.1 574.6 L380.5 575.3 L381.7 576 L383.2 576.4 L384.6 576.5 L385.9 576.1 L387.5 576.3 L389.2 576.8 L390.7 576.9 L391.9 576.8 L393.3 576.7 L394.9 577.1 L396.4 577.2 L397.2 578.4 L397.4 579.6 L397.3 580.8 L397.4 582.1 L396.4 583.2 L395.6 584.2 L394.2 585.2 L392.7 586 L391.3 586.7 L390 587.4 L388.9 588.2 L387.9 589 L386.4 589.4 L385.3 590.1 L384.4 590.9 L383.1 591.4 L381.9 591.9 L380.9 592.5 L379.8 593.5 L378.6 594.4 L376.9 595.1 L375.1 595.8 L373.5 596.3 L372.2 597.1 L370.7 597.5 L369.1 597.5 L367.9 598.2 L366.9 599 L365.9 600 L365 601.6 L364.1 602.9 L363.1 604 L361.7 604.8 L360.1 605.2 L359 606.2 L358 607.8 L357.1 609.1 L356.3 610.1 L355.6 611.1 L354.4 612.3 L353.3 613.3 L352.2 613.9 L350.9 614.5 L350.3 615.9 L349.8 617.6 L349.1 618.8 L348.5 619.5 L347.9 620.3 L347.4 621.7 L347.6 623.9 L347.3 625.3 L346.8 626.5 L346.7 627.9 L346.9 629.1 L348.2 630.4 L349.1 631.8 L349.4 633 L350 634.2 L349.2 634.8 L347.8 635.3 L346.8 636.6 L345.9 638 L344.7 639.1 L343.3 639.7 L342 640.7 L341 641.7 L340.1 642.8 L339.5 644.3 L338.6 645.6 L338 646.8 L337.2 647.6 L336.4 648.7 L335.4 650.1 L334.4 650.3 L333.3 650.5 L331.3 650.7 L329.5 651.1 L328.2 652 L326.9 652.5 L325.7 653 L324.4 653.6 L323.2 654.7 L321.9 655.9 L320.6 656.5 L319.7 657.1 L319.1 657.6 L317.9 658.7 L316.6 659.4 L315.4 659.8 L314.1 660.8 L312.8 661.1 L311.2 660.9 L309.7 660.7 L308.1 660.5 L306.4 660.4 L304.9 659.9 L303.4 659.4 L302.1 659.3 L300.8 659.2 L299.1 658.6 L297.1 658.1 L295.6 657.9 L294.2 657.5 L292.9 657.2 L291.8 657.8 L290.5 658.1 L289.4 658.1 L288 658.2 L286.1 658.3 L284.6 658.5 L283.2 659 L281.4 659.6 L280 659.7 L278.6 659.9 L277.3 660.6 L276.1 661.2 L275 661.6 L273.7 662.1 L272.2 662.6 L270.8 662.7 L269.5 663.1 L268.3 662.2 L267.4 661.4 L266.6 660.3 L265.6 659.1 L264 657.9 L262.8 656.6 L262.3 655.7 L261.5 655.1 L260.8 654.1 L260.5 652.5 L261.2 651 L261.1 649.6 L260.8 648.1 L261 646.9 L259.9 646.4 L259 645.6 L257.9 644.4 L256.8 643.4 L255 643.1 L253.7 642.3 L253.3 641 L252.4 639.4 L251.2 638.7 L250.8 637.4 L250.5 636.2 L249.8 634.8 L249.1 633.3 L250.3 631.9 L251.5 630.9 L252.5 629.9 L253.3 628.8 L253.9 627.9 L254.9 627 L255.6 625.4 L256.2 624 L256.2 622.3 L256.1 620.6 L256.3 619.5 L256.2 618.4 L256.3 616.8 L256.3 615.1 L255.6 613.5 L256.4 612.3 L257.6 611.1 L259 609.4 L259.7 608 L260.4 606.9 L260.1 605.8 L259.7 604.8 L259.3 604 L258.8 602.8 L258.5 601.8 L259 600.8 L259.3 599.4 L259.6 598 L260 596.8 L260.1 595.6 L261.1 594.7 L262.4 593.8 L263.8 593 L265.3 592.6 L266.9 592.3 L267.3 590.8 L267 588.9 L267.5 587.2 L268 585.7 L268.4 584.5 L269 583.5 L269.8 582.4 L270.6 581 L271.5 579.4 L272.3 578 L273.4 576.8 L274.4 575.7 L275.2 574.7 L276.2 574.1 L277.5 573.5 L278.9 572.5 L278.1 571.2 L277.4 570.1 L276.6 568.5 L275.7 566.7 L275.1 565.5 L274.6 564.7 L273.8 565.1 L272.5 564.9 L271.3 564.3 L269.9 564.1 L267.9 564.4 L266.3 564.3 L265.3 563.8 L263.9 563.6 L262.3 563.4 L260.8 563.4 L259.6 563.9 L258.5 563.4 L256.9 562.6 L255.3 561.9 L254 561.2 L252.8 560 L251.8 559.4 L250.8 559.1 L249.6 558.7 L249.8 557 L249.6 555.4 L249.8 554 L250.4 552.6 L249.5 551 L248.9 549.8 L248.3 548.8 L247.3 547.8 L247.2 546.6 L247.1 545.4 L247 544.5Z" fill="#02ddd2"/>
<path d="M249.6 558.7 L250.8 559.1 L251.8 559.4 L252.8 560 L254 561.2 L255.3 561.9 L256.9 562.6 L258.5 563.4 L259.6 563.9 L260.8 563.4 L262.3 563.4 L263.9 563.6 L265.3 563.8 L266.3 564.3 L267.9 564.4 L269.9 564.1 L271.3 564.3 L272.5 564.9 L273.8 565.1 L274.6 564.7 L275.1 565.5 L275.7 566.7 L276.6 568.5 L277.4 570.1 L278.1 571.2 L278.9 572.5 L277.5 573.5 L276.2 574.1 L275.2 574.7 L274.4 575.7 L273.4 576.8 L272.3 578 L271.5 579.4 L270.6 581 L269.8 582.4 L269 583.5 L268.4 584.5 L268 585.7 L267.5 587.2 L267 588.9 L267.3 590.8 L266.9 592.3 L265.3 592.6 L263.8 593 L262.4 593.8 L261.1 594.7 L260.1 595.6 L260 596.8 L259.6 598 L259.3 599.4 L259 600.8 L258.5 601.8 L258.8 602.8 L259.3 604 L259.7 604.8 L260.1 605.8 L260.4 606.9 L259.7 608 L259 609.4 L257.6 611.1 L256.4 612.3 L255.6 613.5 L256.3 615.1 L256.3 616.8 L256.2 618.4 L256.3 619.5 L256.1 620.6 L256.2 622.3 L256.2 624 L255.6 625.4 L254.9 627 L253.9 627.9 L253.3 628.8 L252.5 629.9 L251.5 630.9 L250.3 631.9 L249.1 633.3 L249.8 634.8 L250.5 636.2 L250.8 637.4 L251.2 638.7 L249.6 639 L247.8 638.6 L246.1 638.1 L244.5 638.2 L243 638.3 L241.3 637.9 L239.6 637.7 L238.4 637.6 L237.2 637.3 L235.4 637.3 L233.7 637.3 L232.1 637.2 L232 635.6 L232.3 633.7 L231.8 632.2 L230.7 631.1 L230.9 629.6 L231.5 627.6 L231.6 626.1 L231.3 624.7 L231.3 623.2 L231.1 621.6 L231.6 620.4 L232.2 619.5 L232.9 618.6 L233.5 617.5 L234.1 616.5 L233.2 615.1 L232.4 613.7 L231.6 612.7 L230.2 611.4 L229.7 609.7 L229.7 608.2 L229.9 606.4 L230.1 604.9 L230.8 604.4 L231.2 603.3 L232 601.7 L232.9 599.9 L233.6 598.4 L234.3 597.4 L235 596.3 L236.1 595.3 L237.1 594.1 L238 592.9 L238.7 591.8 L239.2 590.7 L239.6 589.8 L240.5 588.6 L241.2 586.9 L241.6 585.4 L242.5 584.2 L243.4 583 L243.8 581.4 L244.4 579.8 L244.8 578.4 L245.2 576.8 L245.6 575.4 L245.8 574.4 L246.2 573.1 L247 571.5 L247.6 570.1 L248 568.7 L248.3 567.5 L248.7 566.2 L249.3 565.1 L249.5 563.7 L249.7 562.3 L249.8 560.7Z" fill="#00fff0"/>
<path d="M381.5 622.3 L382.6 621.1 L383.8 620.2 L385.3 620.1 L386.6 619.9 L387.7 619.1 L389.4 618.2 L390.7 618.6 L391.8 619.4 L393 620.3 L394.1 620.8 L395.2 621.1 L394.8 622.4 L394.3 623.5 L393.8 624.7 L393.6 625.8 L392.7 626.6 L391.9 627.6 L391 628.8 L389.9 629.9 L388.7 628.8 L387.5 627.8 L386.3 626.8 L385.1 625.5 L383.9 624.2 L382.9 623.3 L382.3 622.8Z" fill="#02ddd2"/>
<path d="M368.6 630.9 L369.5 630.1 L370.1 629.1 L370.6 628 L371.6 628.6 L372.7 629.3 L373.4 630.2 L372.5 630.9 L371.6 631.6 L370.9 632.6 L370.3 632.2 L369.6 631.7Z" fill="#02ddd2"/>
<path d="M372 632.3 L373.3 632.2 L374.8 631.9 L375 633.5 L375.5 634.7 L374 634.9 L372.3 635.4 L372.2 633.8Z" fill="#02ddd2"/>
<path d="M268.7 666.7 L269.9 666.5 L270.9 666.4 L271.8 668.1 L272.4 669.7 L271.2 669.9 L269.9 670 L269.5 668.6Z" fill="#00fff0"/>
<path d="M618.1 475.3 L619.4 475.2 L620.6 475 L622 475.3 L623.7 475.8 L625 476 L626.1 475.7 L627.3 475.3 L628.7 475.2 L630.2 474.9 L631.5 474.4 L632.8 473.7 L634 473.3 L634.9 473.5 L636.3 473.7 L637.8 474 L639.2 474.3 L640.7 474.6 L642.2 474.9 L643.4 475.4 L644.8 475.9 L646.1 476 L647.3 474.9 L648.9 474.1 L650 473.4 L651 472.8 L652 472 L653.1 471.1 L654.3 470.2 L655.7 469.6 L657.1 468.4 L658.3 467.6 L659.6 467 L660.7 466.2 L661.6 465.4 L662.6 464.7 L663.8 464 L664.8 464.7 L665.6 465.9 L666.4 467.4 L667.7 468.7 L669.4 469.6 L670.5 470.7 L671.1 472.1 L672 473.3 L672.8 474.3 L673.7 475.3 L675.1 476.3 L676.4 477.3 L677.1 478.1 L677.6 479.2 L678.8 480.5 L680 482.2 L680.6 483.8 L681.6 484.4 L682.6 485.4 L683.6 487 L684.7 488.4 L685.7 489.6 L685.7 490.7 L685.7 492 L686.7 493.2 L688 494 L688.3 495.4 L688.2 496.9 L688.5 498.6 L688.9 500.7 L689 502.2 L690.6 502.7 L691.9 502.9 L693.2 503.3 L695.4 504.5 L697 505.1 L697.9 505 L699.2 505.4 L700.7 505.7 L702 506 L702.1 507.5 L702.1 509.1 L702.2 510.6 L702.2 512.1 L702.3 513.6 L702.3 515.2 L702.4 516.7 L702.4 518.2 L702.5 519.8 L702.6 521.3 L702.6 522.8 L702.7 524.3 L702.7 525.9 L702.8 527.4 L702.8 528.9 L702.9 530.4 L702.9 532 L703 533.5 L701.5 533.5 L700 533.5 L698.3 533.4 L697.1 532.5 L695.8 531.7 L694.6 531.4 L693.6 531.2 L692.1 530.4 L690.8 530.1 L689.6 529.8 L688.4 529.3 L687 528.9 L685.7 529 L684.5 529.2 L683.1 529.2 L681.6 529.1 L680.2 529.3 L679.2 529.6 L678.4 529.9 L677.4 530.2 L676.3 531 L674.8 532.1 L673.3 532.9 L672.3 533.6 L671.3 534.9 L669.8 535.8 L668.7 536.6 L668.2 537.5 L667.8 538.7 L666.7 540.2 L665.5 541 L664.2 541.2 L662.7 541.2 L660.6 541.2 L658.9 541.4 L657.9 542 L656.6 542.3 L655.5 542.7 L654 542.9 L651.7 542.9 L649.9 542.8 L648.9 542.5 L647.7 542.4 L646.5 542.8 L645.1 543.2 L642.8 543.4 L641.1 543.5 L640.3 543.7 L639.2 543.7 L637.8 543.8 L636.4 543.8 L635 544.1 L634.4 543.1 L633.8 542 L633.3 540.7 L631.9 539.9 L630.5 538.9 L630.5 540.2 L629.7 538.5 L629 537.2 L628.3 536.2 L626.8 535.6 L624.8 534.8 L622.9 534.3 L621.5 533.6 L620.2 533.1 L619.3 532.7 L618 532.3 L616.3 532 L614.9 531.6 L614.6 530.1 L613.8 529.2 L613.2 528.2 L612.7 527 L611.8 526.2 L610.8 525.5 L609.7 524.8 L608.7 524.1 L607.7 523.2 L606.4 522.2 L605.4 521.1 L604.6 519.8 L603.6 518.6 L602.9 517.6 L602.4 516.8 L601.4 515.9 L600.2 514.8 L599.1 513.6 L598 512 L598.8 510.5 L600 509.6 L601 509.5 L602.1 509.1 L603.7 508.1 L605.4 507 L606.6 505.9 L607.3 504.7 L607.6 504.2 L608.6 503.3 L609.6 501.6 L610 500.2 L610.3 499 L610.5 497.7 L611 495.7 L611.6 494 L612 492.7 L612.4 491.4 L612.4 490.4 L612.6 489.3 L613.3 487.7 L613.8 486.1 L614.3 484.7 L615.2 483.3 L615.8 482.1 L616.4 481.3 L617 480.3 L618.3 478.9 L619.3 477.5 L620 475.9 L619.1 475.7Z" fill="#02ddd2"/>
<path d="M663.2 463.2 L665.2 462.5 L666.8 461.6 L667.8 460.6 L668.6 459.6 L669.7 458.8 L671.2 458.9 L672.6 459.1 L674 459.3 L675.4 459.5 L677.1 459.6 L678.6 459.7 L679.8 460.3 L681 460.9 L682.1 461.2 L683.2 461.2 L684.5 461.5 L685.8 462 L687.1 462.7 L688.6 463.3 L690.1 463.8 L691.3 464.7 L692.5 466.1 L693.3 467.2 L693.9 468.1 L694.7 469 L695.7 469.6 L697 470.2 L698.4 471.4 L699.5 472.1 L700.5 472.6 L700.5 474 L700.1 475.4 L699.7 476.7 L699.1 477.8 L699 479.5 L698.6 480.9 L698 482.1 L697.8 483.3 L697.6 484.6 L697.2 485.9 L696.4 487.6 L695.6 489.2 L695.6 490.3 L695.8 491.2 L695.5 492.6 L695 494.4 L694.8 495.8 L694.7 496.7 L694.1 497.8 L693.7 499.5 L693.5 501.1 L692.1 502.1 L690.9 503 L689.6 502.7 L689 501.5 L688.5 499.6 L687.8 497.8 L687.6 496.4 L687.7 494.9 L687.2 493.8 L686 493 L685.5 491.7 L685.6 490.5 L685.5 489.5 L684.8 488.2 L684 486.8 L683.4 485.1 L682.6 483.7 L681.4 483.1 L680.7 481.4 L679.6 479.8 L678.4 478.7 L677.9 477.6 L677.1 476.8 L675.6 476 L674.2 474.9 L673.3 473.9 L672.6 472.8 L671.7 471.7 L670.9 470.3 L669.7 469.1 L668.3 468.1 L667.4 466.8 L666.5 465.3 L665.6 464.1 L664.6 463.7Z" fill="#ff008a"/>
<path d="M628.8 543.5 L629.3 542 L630.1 540.5 L630.5 538.9 L631.9 539.9 L633.3 540.7 L633.8 542 L634.4 543.1 L635 544.1 L636.4 543.8 L637.8 543.8 L639.2 543.7 L640.3 543.7 L641.1 543.5 L642.8 543.4 L645.1 543.2 L646.5 542.8 L647.7 542.4 L648.9 542.5 L649.9 542.8 L651.7 542.9 L654 542.9 L655.5 542.7 L656.6 542.3 L657.9 542 L658.9 541.4 L660.6 541.2 L662.7 541.2 L664.2 541.2 L665.5 541 L666.7 540.2 L667.8 538.7 L668.2 537.5 L668.7 536.6 L669.8 535.8 L671.3 534.9 L672.3 533.6 L673.3 532.9 L674.8 532.1 L676.3 531 L677.4 530.2 L678.4 529.9 L679.2 529.6 L680.2 529.3 L681.6 529.1 L683.1 529.2 L684.5 529.2 L685.7 529 L687 528.9 L688.4 529.3 L689.6 529.8 L690.8 530.1 L692.1 530.4 L693.6 531.2 L694.6 531.4 L695.8 531.7 L697.1 532.5 L698.3 533.4 L700 533.5 L700 534.7 L700 535.8 L700 537 L698.4 537.9 L697.7 538.5 L696.6 539.3 L696.2 540.6 L696.2 542.1 L696.1 543.5 L695.7 544.6 L695.2 545.7 L695.4 547 L695.4 548.4 L695 549.7 L694.7 550.9 L694.5 552.1 L694.3 553.5 L693.9 554.7 L694.8 555.2 L695.6 555.8 L696.4 556.5 L697.8 557.3 L699.3 558.1 L700 558.5 L701 559 L702 559.5 L703 560 L703 561 L703 562 L701.7 562.2 L700.3 562.5 L699.6 562.8 L698.2 563.2 L696.7 563.7 L695.2 564 L693.7 564.2 L692.4 564.5 L691.3 565 L690.1 565.3 L688.6 565.7 L687.6 566.1 L686.3 566.8 L685.1 568 L684.1 569.1 L683.2 570 L682.7 570.9 L681.9 571.9 L680.6 572.8 L680.2 573.9 L679.8 574.9 L678.8 575.5 L677.2 575.9 L676.1 576.6 L675.2 577.2 L674.1 577.8 L672.1 578 L670.8 578.3 L669.8 578.6 L668.2 578.8 L666.2 578.7 L664.7 578.5 L663.6 578.4 L662.2 578.2 L660.8 577.9 L659.2 578 L657.2 578.2 L655.8 578.6 L654.9 579.3 L653.8 579.8 L652.6 580.6 L651.3 581.5 L650 581.8 L648.8 581.5 L647.5 581.9 L646.5 583.1 L645.3 583.8 L643.8 584.2 L642.3 584.5 L641.2 584.9 L640.9 583.6 L640.7 582.2 L640.4 580.9 L639.9 579.8 L639.1 578.5 L637.8 576.9 L636.5 575.7 L635.6 574.8 L635 574.4 L634.1 574.2 L632.9 573.9 L631.9 573.5 L631 572.5 L631.6 570.9 L632.2 569.4 L632.9 568 L633.4 566.7 L634.1 565 L634.5 563.7 L634.6 562.4 L635 560.9 L635.1 559.7 L635.3 558.4 L634.6 557 L634.2 555.3 L633.7 553.9 L632.6 552.6 L631.7 551.5 L631.1 550.5 L630.9 548.9 L630.3 547.4 L630 546.1 L629.6 545 L629.1 544.4Z" fill="#ff008a"/>
<path d="M504 451.7 L505.4 451.2 L506.7 450 L507.9 449.1 L509.1 448.8 L510.4 448.5 L511.6 447.6 L512.7 446.1 L513.7 445.5 L514.5 445 L515.3 444.1 L516.5 443.6 L518.1 443.6 L519.6 443 L520.6 441.8 L521.5 440.7 L522.7 440.1 L524 439.8 L525.5 439.5 L526.7 438.6 L528 437.8 L529.7 437.6 L531.1 438.4 L532.4 439.3 L533.4 439.9 L534.6 440.5 L535.7 441.4 L537 442.2 L538.8 442.9 L540.4 443.5 L541.5 444.8 L543.1 444.9 L544.5 444.7 L545.8 444.4 L547.1 444.1 L547.6 444.9 L548.8 445.5 L549.9 446.4 L550.6 447.7 L551.1 449.3 L552.4 449.7 L554.4 449.3 L556 449.2 L557.2 449.6 L558.3 449.9 L559.7 450.5 L561.1 451.1 L562.2 451.4 L562.8 451.9 L563.4 452.4 L564.5 453.3 L566 454.4 L567.3 455.2 L568.6 455.9 L569.8 456.7 L571.2 457.5 L572.5 458.1 L571.8 459.6 L570.7 460.9 L569.5 462.1 L568.7 463.2 L567.5 464 L566.4 465.1 L565.5 465.6 L564.6 465.8 L563.5 466.6 L562.5 467.4 L561.8 468.1 L560.9 469.1 L559.9 470.1 L559.1 470.6 L558 471.6 L556.7 472.9 L555.8 474 L554.8 474.9 L553.7 474.6 L552.6 474.3 L550.8 474.1 L548.9 473.9 L547.8 473.2 L546.6 472.5 L544.7 472.2 L543 471.8 L541.4 471.4 L540 470.9 L538.8 470.6 L537.7 470.3 L536.4 471.4 L535 472.5 L533.9 473.5 L532.9 474.3 L532 475 L530.7 475.7 L529.4 476.6 L528 477.5 L526.8 478.1 L525.5 477.7 L524 477.5 L522.1 477.7 L520.6 477.5 L519.9 476.4 L519 475.2 L518 474 L516.9 473.1 L515.7 472.5 L514.6 471.7 L513.6 470.5 L512.8 469.5 L512.1 468.6 L511 467.4 L510.2 466.3 L509.6 465.3 L509 464.6 L508.2 463.8 L507.5 462.3 L506.9 460.9 L506.2 459.8 L505.5 458.6 L505 457.5 L505.3 456 L504.9 454.4 L504.1 452.8Z" fill="#00fff0"/>
<path d="M572.5 458.1 L573.9 458.1 L574.7 458.6 L575.7 459 L577 458.8 L578.3 458.6 L579.9 459.3 L581.5 460.1 L583.2 460.3 L585 460.6 L586.3 461 L586.9 460.3 L587.3 459.3 L588.4 458.4 L589.7 457.7 L591.2 457.6 L592.8 457.8 L594.2 457.8 L595.4 457.5 L596.5 457 L597.8 456.9 L599.2 457 L600.4 457 L601.4 456.9 L602.6 456.8 L604.4 456.1 L606.1 455.5 L607.3 456.5 L608.5 457.8 L609.4 458.5 L610.5 459 L611.8 459.5 L612.9 460 L613.9 460.2 L614.7 460.7 L615.6 461.4 L615.5 463 L615.5 464.9 L614.8 466.2 L613.6 467.6 L612.7 468.9 L612.2 469.7 L611.5 470.7 L610.7 470.6 L610 470.6 L608.7 470.4 L607.3 469.8 L606 470.1 L604 470.9 L602.2 471.4 L601.2 471.8 L599.9 472.3 L598.2 472.5 L596.7 472.5 L595.4 472.5 L594.1 472.5 L592.8 473.2 L591.8 474 L590.6 475.1 L589.3 476.1 L588 476.9 L586.7 477.4 L585.4 478.1 L584.3 478.9 L582.8 479.4 L581.3 479.7 L580.3 481 L579.1 482 L577.9 482.9 L577.3 484 L576.4 484.9 L575.1 485.2 L573.9 485.5 L572.3 485.9 L570.5 486.3 L568.8 486.9 L567 487.4 L565.6 487.6 L564.5 487.4 L563.2 487.5 L562.2 488.2 L561.4 487.6 L560.3 486.5 L559.2 485.4 L558.2 484.6 L557.7 483.9 L557.1 482.7 L556.5 481.2 L556.1 479.8 L555.6 478.4 L554.9 477.1 L554.7 475.9 L554.8 474.9 L555.8 474 L556.7 472.9 L558 471.6 L559.1 470.6 L559.9 470.1 L560.9 469.1 L561.8 468.1 L562.5 467.4 L563.5 466.6 L564.6 465.8 L565.5 465.6 L566.4 465.1 L567.5 464 L568.7 463.2 L569.5 462.1 L570.7 460.9 L571.8 459.6Z" fill="#02ddd2"/>
<path d="M558.2 484.6 L559.2 485.4 L560.3 486.5 L561.4 487.6 L562.2 488.2 L563.2 487.5 L564.5 487.4 L565.6 487.6 L567 487.4 L568.8 486.9 L570.5 486.3 L572.3 485.9 L573.9 485.5 L575.1 485.2 L576.4 484.9 L577.3 484 L577.9 482.9 L579.1 482 L580.3 481 L581.3 479.7 L582.8 479.4 L584.3 478.9 L585.4 478.1 L586.7 477.4 L588 476.9 L589.3 476.1 L590.6 475.1 L591.8 474 L592.8 473.2 L594.1 472.5 L595.4 472.5 L596.7 472.5 L598.2 472.5 L599.9 472.3 L601.2 471.8 L602.2 471.4 L604 470.9 L606 470.1 L607.3 469.8 L608.7 470.4 L610 470.6 L610.7 470.6 L611.5 470.7 L612.9 471.5 L614.1 472.2 L615.3 472.9 L616.8 474 L618 474.9 L619.1 475.5 L620 475.9 L619.3 477.5 L618.3 478.9 L617 480.3 L616.4 481.3 L615.8 482.1 L615.2 483.3 L614.3 484.7 L613.8 486.1 L613.3 487.7 L612.6 489.3 L612.4 490.4 L612.4 491.4 L612 492.7 L611.6 494 L611 495.7 L610.5 497.7 L610.3 499 L610 500.2 L609.6 501.6 L608.6 503.3 L607.6 504.2 L607.3 504.7 L606.6 505.9 L605.4 507 L603.7 508.1 L602.1 509.1 L601 509.5 L600 509.6 L598.8 510.5 L597.5 511.4 L596.3 512.2 L594.7 512.6 L593.2 513.1 L591.7 513.8 L590.7 514.4 L589.5 515.2 L587.8 516.1 L586.6 516.5 L585.5 516.7 L584 517.2 L582.4 517.6 L580.9 518.1 L580 519 L578.7 519.4 L576.7 519.3 L575.2 519.5 L574.3 520.1 L573.1 519.6 L570.8 519.3 L569 518.9 L567.5 518.4 L566.2 517.4 L565 516.7 L563.8 516.2 L563.1 515.2 L562.4 513.8 L561.2 512.8 L559.7 512.4 L558.2 512.2 L557.1 511.7 L556.1 510.7 L554.9 510 L553.5 509.7 L552 509.4 L551.1 508.9 L550.1 508.6 L548.9 508.3 L547.7 507.5 L547 506.5 L548.3 505.6 L549.5 504.7 L550.1 503.6 L550.9 502.5 L551.5 501.3 L551.9 499.6 L552.3 498 L553 496.9 L552.8 496.2 L552.5 495.1 L551.9 493.7 L551.4 492.4 L552.7 491.5 L554.1 490.6 L555.2 489.8 L556.1 488.9 L556.7 487.3 L557.5 485.8Z" fill="#02ddd2"/>
<path d="M520.6 477.5 L522.1 477.7 L524 477.5 L525.5 477.7 L526.8 478.1 L528 477.5 L529.4 476.6 L530.7 475.7 L532 475 L532.9 474.3 L533.9 473.5 L535 472.5 L536.4 471.4 L537.7 470.3 L538.8 470.6 L540 470.9 L541.4 471.4 L543 471.8 L544.7 472.2 L546.6 472.5 L547.8 473.2 L548.9 473.9 L550.8 474.1 L552.6 474.3 L553.7 474.6 L554.8 474.9 L554.7 475.9 L554.9 477.1 L555.6 478.4 L556.1 479.8 L556.5 481.2 L557.1 482.7 L557.7 483.9 L558.2 484.6 L557.5 485.8 L556.7 487.3 L556.1 488.9 L555.2 489.8 L554.1 490.6 L552.7 491.5 L551.4 492.4 L551.9 493.7 L552.5 495.1 L552.8 496.2 L553 496.9 L552.3 498 L551.9 499.6 L551.5 501.3 L550.9 502.5 L550.1 503.6 L549.5 504.7 L548.3 505.6 L547 506.5 L545.8 507.2 L544.5 507.8 L543.4 508.4 L542.4 508.8 L541.2 508.8 L539.8 508.9 L538 510 L536.3 510.8 L535.1 510.8 L533.8 510.9 L532.8 511.2 L531.8 511.4 L530.3 511.7 L528.7 512.2 L527.2 512.8 L525.8 513.1 L524.2 513 L522.4 512.9 L521 512.6 L519.5 512.1 L518.1 511.5 L517 511.4 L515.7 511.3 L514.4 511.2 L512.9 510.8 L511 510.2 L509.4 509.8 L508.3 509.6 L507.2 509.2 L505.6 508.5 L504.2 508.2 L502.9 507.9 L501.5 507.6 L499.9 507.5 L498.1 507.6 L496.9 507.4 L496 508 L494.5 508.5 L493.1 508.7 L491.8 509.2 L489.7 509.7 L488.3 510.2 L487.4 510.9 L486.2 511.4 L484.9 512 L484.6 511 L484.1 509.7 L483.8 507.9 L483.1 506.6 L482.5 505.7 L482 505 L481.4 504.3 L480.8 503.3 L480.1 502.3 L479.3 501.2 L480.1 502.3 L480.8 503.3 L481.4 504.3 L482.5 503.7 L483.7 503.2 L484.9 502.7 L486.2 502.3 L487.9 501.8 L489.5 501.3 L491 500.4 L492.2 499.7 L493.3 499.4 L494.9 499.1 L496.2 498.5 L497.2 497.8 L498.9 497 L500.7 496.3 L502 495.7 L503.3 495 L504.7 494.4 L503.3 494.9 L501.9 495.4 L500.4 495.8 L501.9 495.7 L503.1 495.6 L504.3 495.5 L505.2 496.2 L506.3 496.7 L507.7 497.1 L509.5 498.1 L511.1 497.9 L512.1 497.1 L513.2 496.6 L512.3 495.8 L511.8 494.2 L511.2 492.5 L511 491.1 L511.7 489.7 L511.7 488.1 L511.4 486.7 L511.8 485.1 L512.9 484.3 L513.9 483.5 L514.8 482.8 L515.7 482.2 L516.6 481.4 L517.5 480.5 L518.5 479.5 L519.6 478.5Z" fill="#02ddd2"/>
<path d="M452.7 495.6 L454.4 494.9 L456.1 494.1 L457.6 494.4 L459.3 495 L460.5 494.8 L461.6 494.6 L463.1 494.3 L464.1 494.6 L465.3 495.3 L466.5 496.3 L467.7 496.9 L469.5 497.3 L471.3 497.8 L472.9 498.3 L474.4 498.7 L475.2 499.3 L476.2 499.8 L477.7 500.4 L479.3 501.2 L480.1 502.3 L480.8 503.3 L481.4 504.3 L482 505 L482.5 505.7 L483.1 506.6 L483.8 507.9 L484.1 509.7 L484.6 511 L484.9 512 L484.2 513.2 L483.4 514.2 L482.3 514.6 L481.2 515.2 L480.3 516 L478.6 515.2 L477.1 514.4 L476.1 513.7 L474.7 514.8 L473.4 515.6 L472.7 516.2 L472.2 516.6 L471.3 517.7 L470.5 518.9 L469.8 520.5 L469.1 521.8 L468.6 522.9 L467.6 521.9 L466.9 521.2 L466.4 520.3 L465.7 519.1 L463.9 519 L461.9 519 L460.7 518.5 L459.5 517.8 L458.2 518.4 L457.5 519.1 L456.9 520 L455.7 520.9 L454 521.5 L452.4 522.1 L450.7 523 L448.9 523.2 L447.4 522.8 L446.1 522.7 L444.9 522.6 L443.7 522.6 L443.2 521.2 L442.9 520.2 L442.4 519.4 L442 518.3 L441.2 517.3 L440.2 516.1 L439.3 515 L438.4 515.6 L437.1 516.3 L435.8 517 L435 517.7 L434.4 516.5 L434.4 515.3 L435 514.2 L436.4 513.1 L437.3 511.6 L438.1 510.1 L439.1 508.8 L440.2 507.7 L441.2 506.6 L442.2 505.3 L443 504.2 L443.9 503.1 L444.8 502 L444.8 500.8 L444.9 499.3 L444.9 497.9 L446.5 497.2 L447.9 496.9 L449.2 497 L450.7 496.7 L451.8 496.1Z" fill="#00fff0"/>
<path d="M519.5 512.1 L521 512.6 L522.4 512.9 L524.2 513 L525.8 513.1 L527.2 512.8 L528.7 512.2 L530.3 511.7 L531.8 511.4 L532.8 511.2 L533.8 510.9 L535.1 510.8 L536.3 510.8 L538 510 L539.8 508.9 L541.2 508.8 L542.4 508.8 L543.4 508.4 L544.5 507.8 L545.8 507.2 L547 506.5 L547.7 507.5 L548.9 508.3 L550.1 508.6 L551.1 508.9 L552 509.4 L551 510.8 L549.6 512.4 L548.3 513.7 L547.5 514.3 L546.7 514.8 L545.7 515.6 L544.6 516.8 L543.5 518.2 L542.5 519.4 L542.6 520.5 L542.8 521.6 L542.6 522.8 L542.5 524.2 L541.5 525.4 L540.5 526.1 L539.4 526.6 L538.1 527.7 L536.4 528 L534.8 528.2 L533.3 528.5 L531.6 529.3 L530.1 529.5 L529.2 529.6 L527.9 529.6 L526.1 529.2 L524.6 528.3 L523.3 527.4 L521.9 526.7 L521.8 525.6 L521.9 524.4 L522.3 523.5 L522.6 522.4 L522.1 520.9 L521.7 519.1 L521.3 518 L521.2 517.4 L521.1 516.4 L520.3 515 L519.6 513.5Z" fill="#00fff0"/>
<path d="M446.1 559.9 L447.7 559.6 L449 558.6 L450.1 557.3 L451.1 556.8 L450.2 555.6 L449.6 554.3 L449.1 553 L448.7 551.7 L447.7 550.9 L446.8 550.2 L445.7 549.2 L444.6 548.2 L443.8 547.5 L443.5 546.1 L443.4 543.9 L442.9 542.1 L441.9 540.8 L442.9 539.3 L443.7 538.2 L444.1 537.3 L444.9 536 L444.7 534.1 L444.3 532.8 L443.8 532.1 L443.2 530.4 L443.5 528.5 L443.6 527 L443.5 525.8 L443.6 524.4 L443.7 522.6 L444.9 522.6 L446.1 522.7 L447.4 522.8 L448.9 523.2 L450.7 523 L452.4 522.1 L454 521.5 L455.7 520.9 L456.9 520 L457.5 519.1 L458.2 518.4 L459.5 517.8 L460.7 518.5 L461.9 519 L463.9 519 L465.7 519.1 L466.4 520.3 L466.9 521.2 L467.6 521.9 L468.6 522.9 L469.1 521.8 L469.8 520.5 L470.5 518.9 L471.3 517.7 L472.2 516.6 L472.7 516.2 L473.4 515.6 L474.7 514.8 L476.1 513.7 L477.1 514.4 L478.6 515.2 L480.3 516 L481.2 515.2 L482.3 514.6 L483.4 514.2 L484.2 513.2 L484.9 512 L486.2 511.4 L487.4 510.9 L488.3 510.2 L489.7 509.7 L491.8 509.2 L493.1 508.7 L494.5 508.5 L496 508 L496.9 507.4 L498.1 507.6 L499.9 507.5 L501.5 507.6 L502.9 507.9 L504.2 508.2 L505.6 508.5 L507.2 509.2 L508.3 509.6 L509.4 509.8 L511 510.2 L512.9 510.8 L514.4 511.2 L515.7 511.3 L517 511.4 L518.1 511.5 L519.5 512.1 L519.6 513.5 L520.3 515 L521.1 516.4 L521.2 517.4 L521.3 518 L521.7 519.1 L522.1 520.9 L522.6 522.4 L522.3 523.5 L521.9 524.4 L521.8 525.6 L521.9 526.7 L520.5 527.3 L519 528 L517.4 527.9 L515.7 527.4 L514.4 527.5 L513.5 528 L512.6 528.7 L511.3 529.4 L509.7 530 L508.4 530.7 L507.9 532.3 L507.8 534 L507 535.1 L505.8 535.7 L505.7 537.1 L505.9 538.7 L505.9 540.3 L506.1 542 L506.7 543.5 L507.4 545.3 L507.9 546.9 L507.9 548.3 L508.4 549.6 L509.4 551 L510.4 552.4 L510.9 553.3 L511.5 553.5 L512.4 553.9 L513.5 554.9 L514.7 556 L515.5 557 L516.7 557.8 L518.2 558.6 L519.7 559.7 L521.1 560.7 L522.3 561.7 L522.8 563.1 L523.5 564.2 L524.2 565.3 L524.5 566.5 L525.1 567.8 L525.7 569.4 L526.7 570.4 L527.8 571.1 L529 571.7 L530.2 572.9 L531 574 L531.7 574.9 L533.3 576.1 L534.6 577.4 L535.5 578.3 L536.4 578.9 L537.3 579.6 L538.3 580.4 L539.2 581.2 L540.2 581.8 L541.6 582.8 L542.9 583.7 L544.1 584.1 L545.7 584 L547.1 584.5 L548.3 585.2 L549.7 586 L550.8 587.1 L552 587.6 L553.4 587.8 L554.8 588 L556.1 588.1 L555.7 589.5 L555.2 590.8 L554.8 592.1 L554.4 593.4 L555.2 594.3 L556.3 595 L557.2 595.7 L558 596.4 L559.4 597.3 L560.6 598.2 L561.4 599 L562.5 599.6 L563.9 600.3 L565.6 601.4 L567 602.1 L568.2 602.1 L569.6 602.3 L571.4 602.7 L573.2 603.2 L574.3 603.6 L575.6 604 L576.8 604.8 L578.2 605.3 L579.4 606.1 L580.6 607.2 L582 608.3 L583 609.1 L583.7 610 L585 611 L586.1 611.8 L586.8 612.7 L587.9 613.5 L587.4 615 L586.9 616.8 L586.2 618.2 L584.9 617.6 L583.3 617.3 L581.8 616.8 L580.8 616.1 L580.1 615 L579.2 614.1 L578 613.3 L577.2 612.4 L576.4 611.5 L574.9 610.9 L573.1 610.6 L571.9 610.4 L570.8 609.4 L569.6 608.5 L569 609.8 L568 611.3 L566.5 612.6 L565.7 613.3 L565.5 614.6 L565.3 616.1 L565 617.6 L564.7 619.1 L564.1 619.8 L564.8 620.7 L565.6 622.2 L566.1 623.8 L566.8 624.9 L567.6 625.7 L568.5 626.8 L569.6 628.1 L570.7 629.2 L571.5 630.4 L572 632.1 L571.5 633.5 L571.2 634.6 L571 636 L570.8 637.7 L570.5 639.3 L569.7 640.3 L568.9 640.9 L568.2 641.5 L567.2 642.4 L565.7 643.9 L564.7 645.4 L564.2 646.4 L563.6 647.2 L562.6 648.8 L561.5 649.8 L560.4 650.5 L559.7 651.3 L559 651.9 L557.9 652.4 L557.2 652 L556.4 651.4 L555.6 650.5 L556.1 649.5 L556.6 648.5 L557 647.3 L557.2 646 L557.7 645.2 L558.6 644 L559.6 642.9 L560.4 642.2 L560.8 640.9 L561.1 639.5 L561.5 638.2 L561.8 636.7 L561.1 635.2 L560.3 634.2 L559.5 633.3 L558.9 632.1 L558.6 630.4 L558 628.9 L557.5 627.2 L556.6 625.9 L555.7 624.6 L554.9 623.1 L554.4 622.5 L553.8 621.6 L553 620 L551.7 619.2 L550.6 618.9 L549.8 618.7 L548.6 618.2 L547.4 617.3 L546.3 616.6 L545.2 615.8 L544.1 614.7 L542.9 613.9 L541.7 613.3 L541.1 612.4 L540.2 611.4 L538.9 610.3 L537.6 609.4 L536.3 608.9 L535 608.6 L533.7 608.4 L533.1 607.8 L532.5 607.2 L531.6 606.1 L530.4 605.3 L529.2 604.5 L528.3 603.4 L526.7 602.4 L525.5 601.6 L524.6 601 L523.3 600.4 L521.9 599.7 L520.6 598.7 L519.2 598 L517.5 597.5 L515.8 597 L514.6 596.2 L513.7 595.4 L512.7 594.4 L511.5 593.5 L509.9 592.5 L508.7 591 L507.9 589.5 L507.5 588.6 L506.5 587.5 L505.3 586.4 L504 585.7 L502.6 584.8 L501.1 584 L499.9 583.6 L499 583.2 L497.9 582.6 L496.9 581.6 L495.8 580.9 L494.4 580.2 L492.7 578.8 L491.9 577.6 L491.3 576.8 L490.4 575.5 L489.7 574.1 L489.2 572.9 L488.1 572 L487.1 570.8 L486.4 569.3 L486.1 567.9 L485.7 566.7 L485.2 565.8 L484.8 564.6 L484 563.1 L483 561.7 L482.7 560.1 L481.8 560 L481.5 558.8 L480.8 557.8 L479.8 557 L478.6 556 L477.7 554.6 L476.7 553.5 L475.5 552.8 L474 551.9 L473 551.2 L472.1 550.5 L470.6 550.1 L469.1 550.4 L467.8 550.5 L466.7 549.4 L465.6 548.3 L463.5 549.4 L461.6 550.4 L460.3 550.7 L458.7 550.7 L457.6 551.2 L456.9 552.1 L455.4 553.2 L454.2 554.6 L453.4 555.8 L452 556.4 L450.9 556.6 L450 557.2 L448.9 558.6 L447.7 559.6Z" fill="#00fff0"/>
<path d="M512.6 654.6 L513.6 654.1 L514.7 654 L516 653.3 L517.5 652.5 L519.2 651.8 L520.9 651.8 L522.5 651.8 L523.8 651.7 L524.9 651.7 L526.2 651.5 L527.5 651.9 L528.8 652.3 L530.5 652.6 L532 652.8 L533.1 653 L534.4 653.4 L535.5 653.1 L536.6 652.9 L537.9 652.5 L539.2 652.1 L540.6 651.8 L542.3 651.2 L543.9 650.6 L544.9 650.2 L546.1 649.7 L547.8 648.8 L549.4 648.1 L551.1 648.3 L552.7 648.1 L552.2 649.2 L551.3 650 L550.9 651.2 L551 652.9 L551 654.4 L550.3 655.5 L549.6 656.7 L549.2 658.1 L548.8 659.7 L548.5 661.3 L549 662.9 L549.3 664.3 L549.6 665.4 L549.9 666.7 L550.1 668.4 L549.8 669.8 L549.1 671 L548.4 672.2 L547.8 673.1 L546.5 672.5 L545.2 672.2 L543.9 672.4 L542.6 672.4 L541.7 671.7 L541 670.9 L539.9 670 L538.5 668.8 L537 667.8 L535.4 667.3 L534 666.4 L532.9 665.6 L532.2 665.1 L531.1 664.8 L529.7 664.3 L528.8 663.8 L527.6 663.4 L526.3 662.7 L524.8 662.1 L522.7 661.8 L521 661.6 L519.8 661.3 L518.3 661.1 L516.7 661.3 L515.5 660.9 L514.7 659.9 L513.9 658.9 L513.1 658.2 L513 656.8Z" fill="#00fff0"/>
<path d="M456.7 606.7 L458 606.6 L459.3 606.4 L460.9 606.3 L462.5 606.2 L463.5 605.3 L464.5 604.6 L465.6 604 L466.5 602.8 L467.6 601.9 L468.9 601.8 L470.3 601.6 L471.5 601.7 L472.6 602.2 L473.1 603.5 L474.1 604.5 L475.2 605.3 L476.2 606.1 L477.1 607.1 L477.5 608.8 L477.5 610.2 L477.2 611.4 L477.3 613 L477.6 614.7 L477.8 616.1 L477.7 617.4 L477.8 618.7 L478.1 619.9 L478.1 621.3 L477.9 622.5 L477.6 623.9 L476.9 625.7 L476.3 627.2 L476.1 628.6 L475.9 630.1 L475.5 631.4 L475.1 632.8 L474.7 634.1 L473.3 634.8 L472.4 635.3 L471.7 636 L470.3 636.3 L468.7 636.5 L467.7 637.4 L466.2 638.3 L464.6 639 L463.2 638.9 L461.9 638.8 L460.5 638.9 L460.2 637.5 L460 635.9 L459.8 634.6 L459.4 633.7 L459 632.4 L459.1 631.3 L459.3 630 L459.6 628.6 L459.8 627.1 L459.5 625.3 L459.5 623.5 L459.3 622.6 L459.2 621.8 L459.1 620.3 L459.3 618.4 L458.9 617 L458 615.6 L457.6 614 L457.7 612.7 L457.7 611.4 L457.6 610.2 L457.4 608.8Z" fill="#00fff0"/>
<path d="M552 509.4 L553.5 509.7 L554.9 510 L556.1 510.7 L557.1 511.7 L558.2 512.2 L559.7 512.4 L561.2 512.8 L562.4 513.8 L563.1 515.2 L563.8 516.2 L565 516.7 L566.2 517.4 L567.5 518.4 L569 518.9 L570.8 519.3 L573.1 519.6 L574.3 520.1 L575.2 519.8 L576.7 519.9 L578.5 520 L580 520 L581.2 519.7 L582.6 519.7 L583.5 521.2 L583.9 522.4 L584.7 523.6 L585.6 524.7 L585.9 526.2 L586.5 527.3 L587.6 528.4 L587.8 529.5 L586.6 530.3 L585.7 531.2 L584.3 531.4 L582.6 531.5 L581.3 531.6 L580.1 531.6 L578.4 531.5 L576.5 531.4 L575 531.4 L573.9 531.7 L572.4 531.8 L570.8 531.9 L569.1 532.2 L567.5 532.5 L565.7 532.3 L564 532 L562.4 532.3 L560.7 532.8 L559.3 533.1 L557.9 533.3 L556.4 533.3 L554.9 533.3 L553.5 533.3 L552.2 533.5 L551.1 533.4 L550.2 533.9 L548.8 534.2 L546.7 533.9 L547.1 535.4 L547.2 536.7 L547.4 538.2 L547.7 539.7 L548.6 540.9 L549.3 542.7 L550.4 544.1 L551.4 545.3 L552.1 546.3 L552.9 547.4 L554 548.5 L555.1 549.7 L555.7 550.9 L556.4 552 L557.4 553.2 L558.5 554.5 L559.5 555.6 L560.1 556.5 L560.4 557.7 L561.9 558.5 L563.5 559.7 L564.8 560.8 L565.6 561.1 L566.6 562.1 L568 563.2 L569.2 564.1 L570.4 565.4 L571.9 566.6 L573.2 567.3 L574.4 567.9 L575.7 568.3 L577.1 568.7 L578.5 569.9 L579.7 571 L580.4 571.4 L581.6 572.1 L583 573.1 L584.3 573.7 L585.1 574.4 L584.4 575.6 L584.4 576.7 L585.1 577.6 L583.7 577.2 L582.8 576.7 L581.5 576.1 L580.1 575.5 L578.6 574.7 L577 573.5 L575.8 572.5 L574.5 571.7 L573.1 570.9 L571.8 570.2 L570.6 569.6 L569.1 568.8 L568 568 L567.3 567.1 L565.7 566.2 L564.3 565 L563.2 563.7 L562.6 562.7 L561.7 561.9 L560.6 560.9 L559.2 560.3 L557.6 560.4 L555.8 560.8 L554.2 560.6 L552.8 560.2 L551.3 560.1 L550.2 559.1 L549.4 557.9 L548 557.2 L546.5 556.1 L545.5 554.8 L545 553.4 L544 552.2 L543.1 550.9 L542.6 549.5 L541.8 548.4 L540.8 547.4 L540 546.3 L539 545.2 L538.5 543.8 L537.9 542.4 L537.2 541.3 L536.5 540.2 L535.7 538.9 L534.6 537.9 L533.9 536.7 L533.3 535.1 L532.9 533.6 L532.6 532.3 L531.9 531 L531.5 530 L530.9 531.5 L531.3 533 L531.1 534.5 L530.1 535.8 L529.6 536.8 L529 538 L528.1 539.2 L527.1 540.6 L526 539.8 L524.8 538.8 L523.8 537.5 L523.4 536.3 L523.2 535.4 L522.9 534.5 L522.3 533.4 L521.5 532.4 L521.4 531.3 L521.7 529.6 L521.9 527.9 L521.9 526.7 L523.3 527.4 L524.6 528.3 L526.1 529.2 L527.9 529.6 L529.2 529.6 L530.1 529.5 L531.6 529.3 L533.3 528.5 L534.8 528.2 L536.4 528 L538.1 527.7 L539.4 526.6 L540.5 526.1 L541.5 525.4 L542.5 524.2 L542.6 522.8 L542.8 521.6 L542.6 520.5 L542.5 519.4 L543.5 518.2 L544.6 516.8 L545.7 515.6 L546.7 514.8 L547.5 514.3 L548.3 513.7 L549.6 512.4 L551 510.8Z" fill="#ff008a"/>
<path d="M546.7 533.9 L548.8 534.2 L550.2 533.9 L551.1 533.4 L552.2 533.5 L553.5 533.3 L554.9 533.3 L556.4 533.3 L557.9 533.3 L559.3 533.1 L560.7 532.8 L562.4 532.3 L564 532 L565.7 532.3 L567.5 532.5 L569.1 532.2 L570.8 531.9 L572.4 531.8 L573.9 531.7 L575 531.4 L576.5 531.4 L578.4 531.5 L580.1 531.6 L581.3 531.6 L582.6 531.5 L584.3 531.4 L585.7 531.2 L586.6 530.3 L587.8 529.5 L588 531.1 L588.4 533.2 L588.9 534.9 L589.7 536.4 L590.3 537.9 L590.9 538.9 L591.5 539.9 L592.2 541 L592.2 542.3 L591.7 543.9 L590.9 545.9 L590.8 547.5 L591.8 548.9 L592.4 550 L592.6 550.6 L592.6 551.5 L592.6 553.5 L592.5 555.4 L592.2 556.6 L591.9 557.9 L591 558.9 L590 559.9 L589.1 560.7 L588.3 561.7 L587.7 563.1 L586.9 564.2 L586 565.5 L585.4 566.7 L585 567.8 L585.3 569.5 L585.4 571.1 L585.7 572.7 L585.1 574.4 L584.3 573.7 L583 573.1 L581.6 572.1 L580.4 571.4 L579.7 571 L578.5 569.9 L577.1 568.7 L575.7 568.3 L574.4 567.9 L573.2 567.3 L571.9 566.6 L570.4 565.4 L569.2 564.1 L568 563.2 L566.6 562.1 L565.6 561.1 L564.8 560.8 L563.5 559.7 L561.9 558.5 L560.4 557.7 L560.1 556.5 L559.5 555.6 L558.5 554.5 L557.4 553.2 L556.4 552 L555.7 550.9 L555.1 549.7 L554 548.5 L552.9 547.4 L552.1 546.3 L551.4 545.3 L550.4 544.1 L549.3 542.7 L548.6 540.9 L547.7 539.7 L547.4 538.2 L547.2 536.7 L547.1 535.4Z" fill="#d60071"/>
<path d="M580 520 L580.9 518.9 L582.3 518.2 L583.8 517.6 L585.3 516.8 L586.6 516.5 L588 516 L590 514.9 L591.2 514.3 L592.5 513.7 L593.9 513.1 L595.4 512.9 L596.9 512.7 L598 512 L599.1 513.6 L600.2 514.8 L601.4 515.9 L602.4 516.8 L602.9 517.6 L603.6 518.6 L604.6 519.8 L605.4 521.1 L606.4 522.2 L607.7 523.2 L608.7 524.1 L609.7 524.8 L610.8 525.5 L611.8 526.2 L612.7 527 L613.2 528.2 L613.8 529.2 L614.6 530.1 L614.9 531.6 L616.3 532 L618 532.3 L619.3 532.7 L620.2 533.1 L621.5 533.6 L622.9 534.3 L624.8 534.8 L626.8 535.6 L628.3 536.2 L629 537.2 L629.7 538.5 L630.5 540.2 L629.5 541.9 L628.8 543.5 L629.1 544.4 L629.6 545 L630 546.1 L630.3 547.4 L630.9 548.9 L631.1 550.5 L631.7 551.5 L632.6 552.6 L633.7 553.9 L634.2 555.3 L634.6 557 L635.3 558.4 L635.1 559.7 L635 560.9 L634.6 562.4 L634.5 563.7 L634.1 565 L633.4 566.7 L632.9 568 L632.2 569.4 L631.6 570.9 L631 572.5 L629.7 572.8 L628.3 573 L627 573.2 L625.7 573.2 L624 572.6 L622.8 572.6 L622.8 571.1 L622.7 569.5 L622.6 568.1 L622.6 566.7 L622.4 565.7 L621.4 565.4 L620.4 564.7 L619.4 563.2 L618.2 562.1 L617.1 561.6 L615.8 561.7 L614.3 561.3 L612.7 560.6 L611.3 559.8 L610.7 560.9 L609.6 562.3 L608.2 564 L607.7 565.1 L607 566.2 L606.2 567.5 L605.1 568.3 L604 569.3 L603.1 568.3 L602.2 567.1 L601.2 565.7 L600.2 564.7 L599 564.1 L597.6 563.5 L596.5 562.9 L595.7 562.2 L594.8 561.4 L593.7 560.2 L592.6 558.9 L591.9 557.9 L592.2 556.6 L592.5 555.4 L592.6 553.5 L592.6 551.5 L592.6 550.6 L592.4 550 L591.8 548.9 L590.8 547.5 L590.9 545.9 L591.7 543.9 L592.2 542.3 L592.2 541 L591.5 539.9 L590.9 538.9 L590.3 537.9 L589.7 536.4 L588.9 534.9 L588.4 533.2 L588 531.1 L587.8 529.5 L587.6 528.4 L586.5 527.3 L585.9 526.2 L585.6 524.7 L584.7 523.6 L583.9 522.4 L583.5 521.2 L582.6 519.7 L581.2 519.7Z" fill="#00fff0"/>
<path d="M611.3 559.8 L612.7 560.6 L614.3 561.3 L615.8 561.7 L617.1 561.6 L618.2 562.1 L619.4 563.2 L620.4 564.7 L621.4 565.4 L622.4 565.7 L622.6 566.7 L622.6 568.1 L622.7 569.5 L622.8 571.1 L622.8 572.6 L622.4 573.7 L621.6 574.9 L620.6 575.7 L619.7 576 L618.6 576.8 L617.1 578 L615.6 578.8 L614.4 579.6 L613.4 580.2 L612.5 579.5 L611.2 578.7 L609.8 577.9 L608.7 577.3 L607.7 576.3 L606.8 575.3 L606.3 574.6 L605.5 573.7 L604.9 572.1 L604.3 570.5 L604 569.3 L605.1 568.3 L606.2 567.5 L607 566.2 L607.7 565.1 L608.2 564 L609.6 562.3 L610.7 560.9Z" fill="#d9e3e1"/>
<path d="M591.9 557.9 L592.6 558.9 L593.7 560.2 L594.8 561.4 L595.7 562.2 L596.5 562.9 L597.6 563.5 L599 564.1 L600.2 564.7 L601.2 565.7 L602.2 567.1 L603.1 568.3 L604 569.3 L604.3 570.5 L604.9 572.1 L605.5 573.7 L603.6 573.1 L602.1 572.5 L600.8 571.5 L599.2 570.9 L598 572.4 L597.1 573.5 L596.5 574.4 L596 575.1 L595.9 576.5 L595.3 578.2 L594.9 579.7 L594.8 580.8 L594.7 581.9 L593.6 581 L592.5 580.6 L591.7 580.1 L590.4 579.4 L589.2 578.3 L588.2 576.9 L586.9 575.9 L585.8 575 L586.2 573.5 L586.1 572.1 L585.7 570.6 L585.5 569.2 L585 567.8 L585.4 566.7 L586 565.5 L586.9 564.2 L587.7 563.1 L588.3 561.7 L589.1 560.7 L590 559.9 L591 558.9Z" fill="#00fff0"/>
<path d="M596 575.1 L596.5 574.4 L597.1 573.5 L598 572.4 L599.2 570.9 L600.8 571.5 L602.1 572.5 L603.6 573.1 L605.5 573.7 L606.3 574.6 L606.8 575.3 L607.7 576.3 L608.7 577.3 L609.8 577.9 L611.2 578.7 L612.5 579.5 L613.4 580.2 L613 581.7 L612.3 583 L611.2 584.2 L611.3 585.6 L611.8 586.9 L612.2 588.2 L612.1 589.6 L612.1 591.1 L612 592.3 L612.7 593.2 L613.9 594 L614.7 595.4 L615.5 596.9 L616.9 597.9 L617.7 599 L618.1 600.3 L618.3 601.9 L617.4 603.2 L616.4 604.3 L615.6 605.3 L614.7 606.4 L613.8 607.5 L613.6 608.9 L613.6 610.4 L613.4 611.9 L612.9 613.7 L611.8 614.7 L611 615.9 L610 616.8 L608.9 617.6 L608.2 616.9 L607.5 616 L606.8 614.4 L606 613.7 L605.2 613.4 L604.7 612.6 L604 611.5 L603.1 610.4 L601.9 609.4 L600.7 608.2 L600.3 606.2 L600.1 604.8 L600.4 604.2 L600.3 603.2 L599.7 601.8 L599.1 600.3 L599.5 598.8 L600 597.2 L600 595.8 L599.9 594.3 L600 593.1 L600.3 592.4 L599.7 591.3 L599 589.7 L598.5 588.2 L598 586.7 L597 585 L596.4 583.9 L595.4 583.2 L594.7 581.9 L594.8 580.8 L594.9 579.7 L595.3 578.2 L595.9 576.5Z" fill="#035756"/>
<path d="M613.4 580.2 L614.4 579.6 L615.6 578.8 L617.1 578 L618.6 576.8 L619.7 576 L620.6 575.7 L621.6 574.9 L622.4 573.7 L622.8 572.6 L623.8 572.4 L625.3 572.7 L626.7 572.9 L628.2 572.8 L629.6 572.7 L631 572.5 L631.9 573.5 L632.9 573.9 L634.1 574.2 L635 574.4 L635.6 574.8 L636.5 575.7 L637.8 576.9 L639.1 578.5 L639.9 579.8 L640.4 580.9 L640.7 582.2 L640.9 583.6 L641.2 584.9 L640.5 585.9 L639.3 586.8 L638 587.5 L636.7 588.1 L635.4 588.8 L634.3 589.1 L633.2 589.6 L631.5 590.7 L629.9 591.8 L628.9 592.5 L628.1 593 L626.7 593.2 L625.3 592.8 L623.9 593.1 L622.6 594 L621.4 594.9 L619.9 595.5 L618.7 596.3 L617.8 597.1 L616.9 597.9 L615.5 596.9 L614.7 595.4 L613.9 594 L612.7 593.2 L612 592.3 L612.1 591.1 L612.1 589.6 L612.2 588.2 L611.8 586.9 L611.3 585.6 L611.2 584.2 L612.3 583 L613 581.7Z" fill="#d60071"/>
<path d="M616.9 597.9 L617.8 597.1 L618.7 596.3 L619.9 595.5 L621.4 594.9 L622.6 594 L623.9 593.1 L625.3 592.8 L626.7 593.2 L628.1 593 L628.9 592.5 L629.9 591.8 L631.5 590.7 L633.2 589.6 L634.3 589.1 L635.4 588.8 L636.7 588.1 L638 587.5 L639.3 586.8 L640.5 585.9 L641.2 584.9 L642.3 584.5 L643.8 584.2 L645.3 583.8 L646.5 583.1 L647.5 581.9 L648.8 581.5 L650 581.8 L651.3 581.5 L652.6 580.6 L653.8 579.8 L654.9 579.3 L655.8 578.6 L657.2 578.2 L659.2 578 L660.8 577.9 L662.2 578.2 L663.6 578.4 L664.7 578.5 L666.2 578.7 L668.2 578.8 L669.8 578.6 L670.8 578.3 L672.1 578 L674.1 577.8 L675.2 577.2 L676.1 576.6 L677.2 575.9 L678.8 575.5 L679.8 574.9 L680.2 573.9 L680.6 572.8 L681.9 571.9 L683.5 572.8 L684.9 573.3 L684.1 574.5 L682.9 575.4 L683 577 L683.5 578.5 L683.4 579.9 L682.8 581.2 L682.5 582.4 L682.3 583.6 L681.8 585 L681.2 586.6 L680.8 587.6 L680.5 588.7 L679.3 587.9 L678 587.2 L676.9 586.3 L675.7 586.2 L674.5 586.3 L673.1 586.9 L671.6 587.5 L670.6 586.9 L669.4 586.2 L668.1 586 L667.2 585.5 L666.3 585.6 L665.2 586 L664.3 586.8 L663.3 587.3 L662.3 587.6 L661.5 587.7 L660.7 588.4 L659.7 589.4 L658.7 589.9 L657.9 590.4 L657.1 591 L656.2 591.8 L655.2 592.5 L654.4 593 L653.7 593.8 L653 594.7 L654.2 595 L655.1 595.2 L655.5 595.8 L656.2 596.5 L657.3 597.3 L658.6 598.1 L660.2 598.5 L661.7 598.9 L662.5 600.4 L663.2 602.5 L662.2 601.6 L661.3 600.7 L660.2 600.5 L659.1 600.3 L658 599.8 L656.7 599.3 L655.1 599 L655.7 600 L656.1 601.3 L656.5 602.4 L657.1 603.4 L656.2 604.2 L655.1 604.9 L654 604.3 L653.1 603.5 L652.5 602.5 L651.8 601.7 L650.9 602.6 L649.6 604.1 L648.3 603.5 L647.2 602.2 L646.4 601.3 L645.7 600.9 L645.3 600.1 L645.1 599 L644 598.5 L643.1 597.9 L641.9 597.6 L640.7 598.7 L639.6 599.8 L638.8 600.7 L639.6 600.3 L640.5 601.2 L641.3 602.1 L641.7 603.3 L641.7 605 L642.3 606.4 L643.4 607.5 L644.2 608.6 L644.9 609.7 L645.6 610.4 L646.2 611.1 L646.7 612.1 L647.2 613.1 L647.7 614 L648.5 614.9 L649.7 615.9 L650.7 616.8 L651.4 617.8 L651.9 618.7 L650.7 619 L649.5 619 L648.4 619.3 L648.2 620.5 L647.9 621.5 L648.9 621.7 L649.8 622 L650.9 622.2 L651.9 621.8 L653 621.2 L654.1 620.7 L655 620.3 L656 619.8 L657.2 618.9 L658.5 618.1 L659.5 619.1 L660.6 619.9 L659.8 620.9 L658.7 621.8 L657.1 622.3 L656.1 622.7 L655 622.7 L654 622.8 L653 623 L654 623.5 L655.1 623.9 L656.2 624.6 L657.5 625.2 L658.7 625.5 L659.9 625.8 L661.1 626.2 L662.6 626.3 L663.7 626.7 L664.4 627.4 L665.3 628.2 L665.8 630.1 L666.3 631.3 L665.2 631.7 L663.7 632 L664 633.6 L664.6 635.7 L665 637 L665 638.1 L665 639.3 L665.5 640.5 L664.4 640.6 L663.5 640.7 L662.7 640.1 L661.8 639.2 L660.8 638.3 L659.9 637.7 L658.8 637 L657.6 636.2 L656.4 635.7 L655.7 635.7 L654.9 635.6 L653.7 635.4 L652.2 635.2 L650.9 634.9 L649.6 635 L648.3 634.8 L647.1 634.9 L645.9 635.2 L644.8 635.4 L643.8 635.7 L642.6 636 L641.5 636.3 L640.7 636.3 L640 635.9 L638.8 635.9 L637.2 636.2 L635.9 636.6 L635 637.5 L634.3 638.4 L633.2 638.9 L631.9 639.3 L630.6 639.8 L629.6 639.1 L628.3 638.1 L627.4 636.9 L626.6 635.8 L626 635 L625.3 634.2 L624.5 633.4 L623.7 632.6 L623.2 631.5 L622.8 630.6 L622.3 629.5 L621.7 628.4 L620.5 627.5 L619.3 626.6 L618.6 625.6 L618.2 625 L617.6 624.4 L616.8 623.6 L615.9 623.1 L614.9 622.5 L614.2 621.5 L613.5 620.4 L613 619.3 L612.5 618.2 L610.7 617.9 L608.9 617.6 L610 616.8 L611 615.9 L611.8 614.7 L612.9 613.7 L613.4 611.9 L613.6 610.4 L613.6 608.9 L613.8 607.5 L614.7 606.4 L615.6 605.3 L616.4 604.3 L617.4 603.2 L618.3 601.9 L618.1 600.3 L617.7 599Z" fill="#ff008a"/>
<path d="M627.8 643.7 L629.1 643 L630.4 642.2 L631.1 641.4 L631.6 640.8 L632.6 640.7 L634 640.5 L635.1 640 L636 639.5 L637.2 639.1 L638.5 638.8 L639.9 638.7 L641.1 638.8 L642.6 638.9 L644.1 639.1 L645.7 639.2 L647.5 639.2 L648.8 639.3 L649.9 639.7 L650.8 640.3 L651.9 640.7 L652.6 641.4 L653.4 642.4 L654.2 643.1 L655.3 643.3 L656.3 643.6 L655.7 644.3 L655.2 645.1 L654.6 646 L653.8 647 L652.9 647.9 L652 648.6 L651.4 649.6 L650.9 650.5 L651.6 651.4 L652.4 652.4 L653.4 653.4 L654.3 654.4 L654.7 655.3 L655 656.1 L655.4 657.3 L655.8 658.7 L656.1 660 L656.2 661.1 L656.2 662.2 L656.5 663.3 L656 663.8 L655.7 664.3 L655.3 663.9 L654.9 663.3 L654.3 662.6 L653.5 661.7 L652.9 660.4 L652.2 659.1 L651.2 658.3 L650.4 657.5 L649.7 656.1 L649 655.4 L648.9 655.9 L648.8 656.9 L648.6 657.9 L648.3 659 L648 660.3 L647.7 661.8 L647.7 663.2 L647.5 664.4 L646.7 663.6 L645.8 662.7 L645.2 661.7 L644.5 660.9 L643.9 660 L643.9 658.7 L643.7 657.2 L643.1 655.9 L642.3 655.4 L641.7 655.9 L641.1 657.2 L640.6 658.9 L640.1 660.3 L638.8 659.3 L637.3 658.5 L637.1 657.8 L636.7 656.6 L636.4 655.1 L636.1 653.7 L635.6 652.7 L635.3 651.7 L635.1 650.7 L634.5 650.2 L633.7 649.5 L632.7 648.9 L631.3 648.6 L630.1 648.1 L629.2 647.4 L628.5 646.3 L628 645Z" fill="#ff008a"/>
<path d="M648.8 623.7 L650.7 623.3 L652 623 L653 622.8 L654 623.4 L655 624 L656.2 624.7 L657.5 625.2 L659.1 625.8 L660.6 626.3 L662.6 626.3 L663.7 626.7 L664.4 627.4 L665.3 628.2 L665.7 630 L666.1 631.2 L664.7 631 L663.3 630.9 L662.2 630.7 L661.1 630.3 L659.8 630 L658.1 629.6 L656.7 629.1 L655.6 628.2 L654.4 627.4 L653.1 627.2 L651.9 627.1 L650.8 626.9 L649.9 625.3Z" fill="#ff008a"/>
<path d="M666.3 677.6 L667.2 677.5 L668 677.4 L668.9 677.1 L669.9 677 L670.7 676.7 L671.7 676.5 L672.7 676.7 L673.9 676.8 L675.2 676.6 L676.2 676.8 L676.8 677.5 L677.6 678.2 L678.6 678.8 L679.6 679.5 L680.5 679.5 L681.5 679.1 L682.6 678.7 L683.6 678.4 L684.7 678.2 L685.9 678 L687.1 678 L688.1 677.9 L689 677.2 L690 676.7 L691 676.7 L691.8 676.6 L692.6 676.4 L693.7 676.2 L695.1 676.2 L696.3 676.1 L697.3 676.3 L698.2 676.4 L699.2 676.4 L700.1 676.3 L701 676.6 L702 677 L702.2 678.2 L702.3 679.5 L702.2 680.8 L702 682 L701 682 L700 682 L699.2 682.7 L698.1 682.8 L697.2 682.7 L696.2 682.6 L695.2 682.6 L694.3 682.6 L693.2 682.7 L692 682.7 L690.8 683 L689.7 683.3 L688.9 683.7 L688.2 684.5 L687.4 684.9 L686.5 684.9 L685.5 685.1 L684.6 685.3 L683.7 685 L682.9 684.7 L682.1 684.1 L681.4 683.5 L680.5 683.2 L679.6 683 L678.7 682.8 L677.9 682.7 L677 682.7 L676 682.7 L674.9 682.9 L673.6 683.3 L672.3 683.4 L671 683.4 L670 683.1 L669 682.8 L668 682.7 L667 682.5 L666.6 681.4 L666.4 680.1 L666.4 678.9Z" fill="#ff008a"/>
<path d="M412.3 429.6 L413.1 428.5 L413.4 427.4 L413.6 426.2 L414.4 425.3 L415.7 424.9 L416.8 424.4 L418 423.5 L419.2 422 L420.4 420.7 L421.5 419.8 L422.3 419.3 L422.6 418.3 L423.4 417 L424.3 415.3 L424.9 414 L425.4 412.4 L425.8 410.7 L426.4 409.5 L427 408.5 L427.2 407.3 L427.2 406.2 L427.5 404.9 L428.2 403.5 L428.7 402.1 L429.3 401 L430.6 400.3 L431.3 399.6 L432.4 398.7 L434 398.2 L435.8 398 L437.9 398 L439.4 397.8 L440.9 397.8 L442.3 397.8 L443.7 398.1 L445.1 397.9 L446.5 397.8 L447.9 398.2 L449.1 398.7 L450 399.6 L451.2 400.5 L452.2 401.3 L452 402.8 L451.9 404.4 L451.5 405.8 L450.8 406.6 L450.3 407.6 L450.2 408.9 L450.6 410.1 L450.7 411.4 L450.8 413.1 L449.9 414.5 L449.4 415.3 L449.2 416 L449 417.4 L448.5 419 L448.6 420.2 L448.8 421.3 L448.2 422.2 L447.5 423 L446.6 423.8 L445 424.2 L443.5 424.5 L442.3 424.7 L441.2 425.2 L440.3 425.8 L439.6 427.7 L438.8 429.4 L439.2 430.3 L440 431.1 L440.4 432.2 L440.1 433.5 L439.9 434.8 L439.7 435.8 L439.1 436.5 L438.6 437.5 L438.5 439.1 L438.5 440.8 L437.3 441.5 L436.5 442.4 L435.6 441.6 L434.9 440.7 L435.4 439.7 L435.6 438.6 L435.4 437.1 L434.7 435 L433.9 433.8 L432.4 433.7 L430.9 433.3 L429.6 432.8 L428.4 432.3 L426.9 432 L425.7 431.9 L424.6 431.7 L423.6 431.4 L422.5 431.7 L421.4 431.9 L420.2 432.1 L419.1 432.4 L418.3 432.5 L417.3 432.9 L415.6 432.7 L413.7 432.8 L412.7 431.9 L411.9 430.9Z" fill="#035756"/>
<path d="M430.3 412.9 L431.4 408.9 L433.1 406 L434.9 407.1 L434.9 410.6 L433.1 412.9 L431.4 414.6Z" fill="#ffffff"/>
<path d="M402.7 433.8 L404.2 433.3 L405.8 433 L407.2 432.5 L408.4 431.8 L409.3 431.2 L410.4 431.1 L411.9 430.9 L412.7 431.9 L413.7 432.8 L415.6 432.7 L417.3 432.9 L418.3 432.5 L419.1 432.4 L420.2 432.1 L421.4 431.9 L422.5 431.7 L423.6 431.4 L424.6 431.7 L425.7 431.9 L426.9 432 L428.4 432.3 L429.6 432.8 L430.9 433.3 L432.4 433.7 L433.9 433.8 L434.7 435 L435.4 437.1 L435.6 438.6 L435.4 439.7 L434.9 440.7 L435.6 441.6 L436.5 442.4 L437 443.8 L438.3 445.4 L439.5 447 L439.8 448.6 L440 450 L439.5 450.9 L438.7 451.9 L437.1 452.6 L436.1 453 L435.2 453.6 L435.4 455 L435.5 456.6 L435.4 458.5 L435.4 460.1 L435.6 461.6 L435.1 462.5 L434.2 463.4 L433 462.3 L431.8 461.4 L430.7 460.9 L429.5 459.7 L428.4 458.4 L427.6 457.7 L427.1 456.7 L426 456.2 L424.4 456.2 L422.7 456.2 L421.5 455.8 L421.4 454.4 L421.6 453.1 L421.2 451.8 L420.5 450.9 L419.1 450.2 L417.6 449.5 L416.3 449 L415.3 448.4 L414.3 447.7 L412.6 446.7 L411.2 445.7 L410.4 444.9 L409.6 443.6 L408.3 442.7 L406.8 442.2 L405.9 441.5 L405 440.6 L404.3 439.1 L403.7 437.3 L403.1 435.3Z" fill="#00fff0"/>
<path d="M463.1 375 L462.8 373.4 L462.5 371.9 L462.5 370.4 L462.5 368.8 L462.5 367.4 L462.5 366.1 L462.5 364.9 L462.9 363.7 L462.8 362.1 L462.7 360.5 L463.1 359.1 L463.6 357.7 L463.6 355.9 L463.4 354.1 L463.5 352.7 L463.9 351.1 L464.2 349.5 L464.4 348 L464.8 346.6 L465.2 345.1 L466 343.9 L466.7 343 L467.6 342.1 L468.5 340.6 L469.7 339.7 L471 338.9 L472.2 337.9 L473 337.1 L473.9 336.4 L475.6 335.7 L477.1 334.6 L478 333.3 L478.9 332.1 L480 331.6 L481.7 331.3 L483.3 330.8 L484.3 330.1 L484.4 331.6 L484.5 333 L484.4 334.2 L484.3 335.5 L483.9 336.8 L483.1 337.8 L482.6 339 L482.5 340.4 L482.3 342 L482.6 344 L482.9 345.8 L482.6 347.1 L482.6 348.4 L484 349.1 L485.3 350 L486.9 350.5 L486.5 351.9 L486.1 353 L485.7 354.3 L484.5 354.8 L483.5 355.3 L482.3 355.5 L482.1 356.7 L481.6 357.9 L481 359 L480.4 360.3 L479.3 361.5 L478.2 362.9 L477.2 364.1 L476.3 365.1 L476.2 366.3 L476.2 367.5 L476.2 368.6 L475.9 369.8 L476.4 370.4 L476.9 371.2 L477.7 372.3 L478.4 373.5 L477.6 374.5 L476.9 375.4 L475.8 375.3 L474.5 375.3 L472.4 375.4 L470.5 375.5 L469.5 375.2 L468.3 375 L466 375.4 L464.1 375.6Z" fill="#02ddd2"/>
<path d="M478.6 365.6 L479.9 364.8 L480.6 364.3 L481.3 363.5 L482.3 362.5 L483.5 363.3 L484.8 364.1 L486.2 364.5 L487.4 365.1 L487.6 366.5 L487.8 367.8 L487.9 369.4 L487.3 370.5 L486.6 371.6 L485.7 372.6 L484.5 373.3 L482.9 373 L481.6 372.5 L480.5 371.8 L479.8 370.6 L479 369.6 L478.2 368.8 L478.3 367.7 L478.4 366.7Z" fill="#02ddd2"/>
<path d="M490.7 361.7 L492 360.5 L493 359.3 L494.3 358.3 L495.6 357.6 L497 357 L498.4 356.2 L499.5 355.8 L500.8 355.5 L501.7 356.3 L503.1 356.8 L504.4 357.5 L504.3 358.6 L504.3 360.1 L504.1 362.2 L504 363.9 L503.2 365.3 L502.6 366.6 L502.3 367.6 L501.7 368.2 L500.6 369.3 L499.4 370.7 L497.9 370.6 L496.4 370.4 L495 370.2 L494.2 369.3 L493.3 368 L492.1 366.9 L491 366.1 L490.7 365 L490.5 364.2 L490.3 362.9Z" fill="#02ddd2"/>
<path d="M490.3 376 L491.1 375.6 L492.4 375 L493.6 374.1 L494.8 374.2 L496.3 374.4 L497.8 374.6 L499.1 374.9 L499.5 376.2 L500.1 377.4 L498.7 378.1 L497.4 378.5 L496.3 378.4 L495.3 378.7 L493.5 378.7 L491.7 378.6 L490.6 378.3 L490.4 377Z" fill="#02ddd2"/>
<path d="M523.5 370.1 L524.4 369.7 L525.5 369.2 L526.7 369.9 L527.6 371.3 L527 372.3 L526.6 372.9 L525.5 372.2 L524.2 372.1 L523.9 371.1Z" fill="#02ddd2"/>
<path d="M538.5 349.4 L538.6 348 L538.9 346 L539.1 344.2 L539.8 342.8 L540.2 341.4 L540.4 340.2 L540.6 338.9 L541.2 337.2 L541.8 335.7 L542.2 334.5 L542.6 333.1 L543.3 332.3 L543.9 331.4 L543.9 333 L543.7 334.5 L543.6 336 L543 337.6 L542.3 339.1 L542.3 340.4 L542.3 341.5 L541.8 342.9 L541 344.3 L540.6 345.6 L540.3 347.6 L539.8 349.3 L539.6 350.5Z" fill="#02ddd2"/>
<path d="M554.4 323.6 L555.4 323.1 L556.8 322.5 L558.2 321.4 L559.1 320.4 L560 319.6 L559.6 321 L559.1 323 L558.4 324.7 L557.8 326 L557.3 327.3 L557.1 328.6 L556.9 330.1 L556.1 331.3 L555 331.8 L554.1 332.8 L553.3 334.3 L553 333.1 L551.6 331.8 L550.5 330.5 L551.2 329.2 L552.2 327.8 L552.7 326.5 L552.9 325.3 L553.6 324.4Z" fill="#02ddd2"/>
<path d="M559 279.9 L560.2 279.6 L561.8 279.3 L563.1 280.7 L564.3 281.8 L563 282.9 L561.6 283.8 L560.3 283.4 L559 282.4 L559 281.2Z" fill="#00fff0"/>
<path d="M351.4 298.3 L352.4 299.2 L352.9 300.5 L354.3 300.5 L356.2 300.3 L357.6 300.4 L358.3 300.5 L358.9 300.8 L359.9 301 L360.9 301.4 L361.9 302 L362.4 303.4 L362.2 304.7 L362.9 305.6 L363.9 306.4 L364.3 307.5 L364.6 308.7 L363.9 309.5 L363.3 310.5 L362.4 311 L361.6 311.3 L360.9 311.9 L360 312.6 L359.1 313.4 L358.4 314.4 L357.8 315.1 L356.8 315.5 L355.8 316.1 L354.7 317 L355.7 316.8 L356.8 316.7 L357.7 317.1 L358.9 317.5 L360.2 317.4 L361.1 317.3 L362 317.3 L362.9 317.3 L364 317.5 L365.1 317.8 L366.2 318.1 L366.9 318.5 L367.6 318.7 L368.4 318.7 L369.4 319.2 L370.7 319.7 L371.9 320.2 L373.1 320.8 L374.3 320.9 L375.5 321.1 L375.7 322.5 L375.8 324 L376.1 325.1 L376.2 325.8 L375.7 326.8 L375.4 327.9 L374.3 328.7 L373.3 329.9 L372.8 331 L372.4 331.9 L371.6 332.7 L370.7 333.7 L369.9 334.5 L369.2 335.3 L368.4 336 L367.9 336.9 L367.3 338 L366.6 338.9 L365.4 339.3 L364 339.6 L362.9 340.6 L361.8 341.5 L361.3 342.1 L360.6 342.8 L359.1 343.3 L357.7 343.7 L358.6 344.3 L359.5 344.9 L360.6 344.8 L362 344.5 L363.2 344.3 L364 344.4 L364.3 345.6 L364.7 346.7 L365.4 347.3 L366.3 348.1 L367.3 349.1 L368.1 349.7 L368.5 350.4 L369 351.5 L369.8 352.7 L370.3 354 L370.8 355.1 L371.5 355.9 L372.1 356.7 L372.5 357.9 L372.3 359.4 L372.3 360.7 L372.8 361.9 L373.2 363 L373.5 364.3 L374.2 365.7 L374.5 367 L374.5 368.3 L374.9 369.3 L375.8 370.2 L376.3 371.3 L376.5 372.4 L377 373 L377.6 373.9 L378.2 374.9 L378.7 375.8 L379.2 377.2 L379.7 378.7 L380.2 379.8 L380.7 380.9 L381.4 381.9 L382 382.6 L382.1 383.7 L382.2 384.9 L382.5 386.1 L382.8 387.5 L383.1 388.9 L383.3 390.2 L382.9 391.2 L382.6 392.2 L382.2 392.8 L381.6 393.8 L382.2 395 L382.6 396 L383.3 396.5 L384.3 397.2 L385 398.1 L385.8 398.7 L387 399.1 L388 399.9 L388.8 400.4 L389.6 401 L390.4 401.5 L391.4 401.9 L392.5 402.2 L393.6 402.7 L394.7 403.4 L395.9 404.1 L397.2 404.7 L398.6 405.1 L398.2 406 L398 406.8 L397.8 407.7 L397.5 408.7 L397.4 409.6 L397.3 410.5 L396.9 411.5 L396.4 412.5 L395.7 413.4 L395 414.5 L394.1 415.5 L393.4 416.4 L392.4 416.9 L391.6 417.4 L390.7 418.2 L389.6 419 L388.7 419.3 L388.3 419.6 L387.7 420.5 L386.5 421.6 L385.2 422.6 L384 423.2 L383.3 423.9 L382.6 424.7 L383.9 424.8 L385.2 425.4 L386.4 426.1 L387.8 426.4 L389.1 426.8 L390.3 427.1 L391.3 427.5 L392.2 428.3 L391.2 428.7 L390.1 429.5 L389 431 L388.2 432.4 L387.3 433.1 L386.1 433.5 L384.8 432.9 L383.5 432.6 L382.7 433.5 L381.6 434.5 L380.4 434.8 L379.5 434.9 L378.7 434.9 L377.9 434.9 L376.8 434.8 L375.8 434.5 L374.8 434.4 L373.6 434.6 L372.5 434.5 L371.4 434.4 L370.7 434.6 L370.2 434.9 L369.5 435.4 L368.4 435.4 L367.2 434.9 L366.1 434.7 L365.2 434.4 L364.3 434.1 L363.3 434 L362 433.9 L360.8 433.7 L359.8 433.2 L358.9 433.2 L358.1 433.1 L357.1 433.6 L355.8 433.9 L354.7 433.4 L353.6 433.2 L352.8 433.4 L352 433.8 L350.8 433.6 L349.3 433.3 L347.8 432.7 L346.6 432.1 L345.5 432.6 L344.4 432.8 L343.4 433.1 L342.4 433.5 L341.2 433.5 L339.8 433.2 L338.8 433.6 L337.8 434 L336.6 433.9 L335.5 434.2 L334.2 434.4 L332.8 434.5 L331.6 435 L330.4 435.6 L329.3 435.7 L328.6 435.4 L327.8 435.5 L326.4 435.8 L324.6 436.2 L323.3 436.5 L322.4 437.2 L321.4 438.1 L320.1 438.6 L318.7 439.2 L317.9 438.5 L317.1 438 L316.2 437.9 L315.2 437.6 L315.9 436.7 L316.8 436 L317.8 435.4 L318.8 434.7 L320 434 L321.1 433.7 L322.1 433.2 L322.7 432.4 L323.4 431.7 L324.7 430.9 L325.8 430.2 L326.8 429.5 L328 429 L329.1 428.2 L329.9 427.4 L331.3 426.7 L332.9 425.7 L334.2 425.4 L335.4 425.3 L336.5 424.6 L337.3 423.8 L337.8 423.7 L338.6 423.6 L339.5 423.2 L340.5 422.7 L341.5 422.2 L342.7 422.1 L344 421.9 L345.1 421.8 L346.1 421.4 L347.1 420.8 L347.8 419.9 L348.5 419.1 L349.2 418.4 L350 418 L348.8 418 L347.6 418.3 L346.5 419 L345.3 419.6 L343.9 420 L342.5 420.1 L341.5 419.3 L340.8 418.8 L340.2 418.5 L339.6 418.2 L338.9 417.3 L337.8 416.7 L336.5 416.2 L335.5 415.7 L334.6 415.2 L333.5 414.8 L332.1 414.1 L331.4 413.4 L330.6 412.8 L329.1 412.2 L328.5 411.3 L328.1 410.1 L327.3 409 L326.1 407.9 L326.7 407.8 L327.6 407.3 L328.1 406.7 L329 406.7 L330.2 406.6 L332.1 406.1 L333.9 405.4 L334.9 404.7 L335.7 404 L336.2 403.3 L336.9 402.6 L337.7 401.6 L338.6 400.8 L338.4 400.2 L338.2 399.5 L337.7 398.5 L337.1 397.2 L336.3 396.3 L335.7 395.4 L335.6 394.4 L335.4 393.3 L336.5 392.8 L337.4 392.4 L338.1 391.9 L339.1 391.4 L339.1 390.2 L338.9 389.1 L338.3 387.9 L337.9 386.7 L338.9 386.4 L340.2 386.2 L341.4 386.1 L342.6 386.1 L344.3 386.5 L345.7 386.6 L346.6 387 L347.8 387.5 L348.8 387.2 L349.8 387.1 L351 386.9 L352.1 385.9 L352.9 385 L352.9 384 L353.3 382.9 L354 381.7 L354.1 380.3 L354 378.9 L354.6 377.4 L354.1 376.5 L353.7 375.6 L353.4 374.6 L353.1 373.5 L352.8 372.3 L352.7 371.2 L352.4 370.1 L351.9 369 L351.6 367.7 L351.4 366.4 L352.1 365.5 L352.5 364.7 L352.7 363.8 L353 362.5 L351.6 362.9 L350.1 363.3 L348.7 363.2 L347.2 363.2 L346 362.8 L344.9 362.2 L343.8 361.2 L342.5 360.5 L341.7 361 L341.1 361.6 L340.1 361.9 L339 362.1 L338.6 361.3 L338.2 360.1 L337.6 358.3 L337.2 356.7 L337.6 355.7 L338.5 354.7 L339.4 353.4 L339.9 351.9 L340.7 350.4 L341.4 349.1 L342.1 347.9 L342.9 347 L343.6 346.1 L344.3 344.9 L344.9 343.9 L345.3 343.4 L345.4 342.7 L345.3 341.3 L344.5 339.8 L343.8 338.7 L342.8 338.6 L341.9 338.4 L341.7 337.6 L341.4 336.7 L341.6 335.3 L341.7 333.7 L342.2 332.5 L342.9 331.8 L343.2 331.1 L343.4 330.2 L342.9 329.2 L342.2 328.1 L341.8 326.9 L341.5 325.9 L341.2 324.8 L341 323.7 L341.1 322.6 L341.2 321.5 L341.3 320.3 L341.7 319.6 L342.3 319.1 L342.9 318.3 L343.6 317.3 L344.2 316.4 L344.6 315.5 L345.2 314.4 L345.9 313.2 L346.3 312.2 L346.2 310.8 L346 309.2 L346 308 L346.4 306.9 L346.8 306 L347.1 304.9 L347.7 303.6 L348.3 302.4 L348.8 301.7 L349.5 300.8 L350.7 299.5Z" fill="#00fff0"/>
<path d="M302.4 355.1 L303.3 354.3 L304.7 353.2 L305.7 352 L306.4 351 L307.3 350.4 L308.5 349.7 L310 349.2 L311.4 348.5 L312.8 347.5 L313.9 347.2 L315.2 347.2 L316.3 347.2 L316.5 348.1 L316.9 348.9 L317.9 349.4 L319.1 350.1 L320.5 350.7 L321.7 351 L323 351.2 L324.1 351.4 L325.1 351.7 L326 352 L326.9 352.6 L327.7 353.5 L329.1 354.3 L330.1 355.6 L331.1 356.9 L331.4 357.9 L331.3 358.7 L331.6 359.8 L332.3 361.1 L332.7 362.4 L332.9 363.7 L332.7 364.9 L332.4 366.2 L331.5 366.7 L330.4 367.4 L329.1 368.1 L328.3 368.2 L327.4 368.4 L326.1 369.3 L324.6 370.6 L323.1 371.3 L322.6 372.4 L322.4 373.6 L322.5 374.8 L322.4 375.9 L322 377.5 L322 378.9 L322.2 380.5 L322.1 381.9 L321.2 383.4 L320.7 384.9 L321.5 385.9 L322.1 387 L321.7 388 L321.3 389.1 L320.6 390.1 L319.9 390.9 L319.5 391.6 L319.4 392.3 L318.9 393 L318 393.6 L317.1 394.7 L316.4 395.8 L316 396.9 L315.7 397.7 L314.9 398.5 L313.4 399.8 L312 399.6 L311 399.4 L310.5 399.5 L309.8 399.7 L308.6 399.8 L307.1 400 L305.8 400.3 L304.8 400.5 L303.9 400.7 L302.9 401 L301.8 401.7 L300.6 402.1 L299.1 401.9 L297.6 401.4 L296.4 402.1 L295 403.3 L293.7 403.8 L292.6 403.9 L291.3 404.2 L290.1 404.5 L289.1 404.1 L287.7 404.2 L286.1 404.3 L284.6 404.3 L283 404.4 L281.6 404.6 L280.3 404.5 L278.8 404.4 L277.8 403.6 L277 402.6 L276.2 401.7 L275.2 401 L276.4 399.3 L276.7 397.9 L275.5 397.1 L274.7 396.1 L274.2 395 L273.6 393.8 L274.5 393.3 L275.5 392.9 L275.8 392 L276.1 391 L277.3 390.7 L278.5 390.2 L279.6 389.6 L280.5 389 L281.7 388.6 L282.9 388.4 L283.5 387.6 L284 386.7 L284.9 386.5 L286.3 386.8 L287.7 387.1 L288.8 386.8 L290.1 386.3 L291.4 385.9 L290.3 385.6 L289.2 385.2 L288.1 385.1 L287 384.9 L285.9 384.9 L284.9 384.8 L285.4 384 L285.7 383.1 L286.3 382.2 L287 381 L288.3 380.2 L289.2 380.3 L290.1 379.8 L291.2 378.9 L290.5 378.2 L289.6 377.6 L288.9 376.8 L288.1 376 L287.1 375.1 L286.4 373.9 L285.3 372.9 L284.3 372.4 L284 371.1 L283.6 369.7 L284.7 369.1 L285.8 368.9 L286.5 368.3 L287.4 367.8 L287.4 367 L287.4 365.9 L287.5 364.8 L287.1 363.6 L287 362.2 L286.9 360.5 L287.8 359.8 L288.8 359.2 L289.6 358.9 L290.6 359 L291.9 358.8 L293.4 358 L294.7 357.4 L295.9 358.1 L297.1 358.8 L298.1 359.4 L299 359.4 L300.2 359.1 L301.2 359.3 L301.8 359.5 L302.7 358.9 L304.1 358.3 L305.1 357.5 L304.7 356.9 L304.2 356.3 L303.4 355.8Z" fill="#00fff0"/>
<path d="M325.4 316.8 L325.8 316.3 L326.4 315.5 L327 314.5 L327.7 313.8 L328.3 313 L328.9 312 L329.1 310.8 L329.1 309.9 L329.3 309.1 L329.8 308.1 L330.7 307.1 L331.4 306.3 L331.8 305.5 L332.1 304.9 L332.7 304.3 L333.3 303.4 L334.4 302.5 L335.5 301.5 L336.6 300.6 L337.6 300 L338.6 299.7 L339.3 299.2 L340.1 300.9 L340.3 302.3 L339.9 303.4 L339.4 304.1 L338.5 304.5 L337.6 304.9 L336.7 305.8 L336 306.7 L335.6 307.7 L334.9 308.6 L333.8 309.3 L332.9 310.3 L332.4 311.5 L332 312.2 L331.6 312.9 L331.1 313.5 L330.5 314.1 L329.9 314.8 L329.4 315.3 L328.9 316.1 L328.7 317 L328.3 318 L326.8 317.6Z" fill="#00fff0"/>
<path d="M332.4 315.2 L333.5 314.6 L334.7 313.9 L335.6 313.2 L336.5 312.8 L336.8 313.7 L337 314.8 L337.6 315.9 L338.3 316.9 L337.3 316.9 L336.4 317.1 L335.7 317.7 L335 318.5 L334.1 317.6 L333.3 316.9 L332.8 316.1Z" fill="#00fff0"/>
<path d="M330.3 330 L331 330 L331.5 330 L332.1 329.9 L333.1 329.6 L334.3 329.3 L335.5 328.9 L336.5 328.3 L337.3 327.7 L338 328.6 L338.8 329.3 L339.3 330.5 L339.7 331.8 L338.5 332.5 L337.7 332.9 L337.3 333.2 L336.9 333.7 L336.3 334.1 L335.6 334.9 L334.6 334.8 L333.6 334.5 L332.4 334.3 L331.1 334.3 L330.8 333.4 L330.4 332.4 L330.3 331.2Z" fill="#00fff0"/>
<path d="M333.3 339.5 L334.2 339.6 L335 339.8 L336 339.8 L337.1 339.8 L338.2 339.8 L339.2 339.7 L338.9 340.4 L338.5 340.7 L338.7 341.4 L338.8 342.7 L338.3 344.2 L338 345.4 L337.4 345.6 L336.6 345.8 L335.6 345.9 L334.6 345.7 L334.5 344.6 L334.2 343.7 L334 342.9 L333.8 342 L333.6 340.8Z" fill="#00fff0"/>
<path d="M366.7 296.1 L368 295.2 L369 294.1 L369.6 293.1 L369.8 292.5 L369.8 291.7 L370.2 290.7 L371.6 290.2 L372.8 290 L373.7 289.7 L374.7 289.4 L374.7 290.4 L374.7 291.8 L374.3 293.2 L373.8 294.5 L373.2 295.3 L372.9 295.9 L372.7 296.6 L372 297.6 L371.1 298.6 L370.4 299.4 L369.9 298.8 L369.2 298.2 L367.9 297.2Z" fill="#00fff0"/>
<path d="M385.3 276.2 L386.2 275.4 L387.1 274.6 L387.8 273.7 L388.3 272.6 L388.7 271.7 L389.3 270.8 L390.4 270.5 L391.1 270.2 L391.5 269.5 L392.4 268.6 L393.4 268.2 L394.2 267.9 L393.7 269.1 L393.1 270.4 L392.9 271.5 L392.7 272.4 L392.2 273.4 L391.9 274.3 L391.7 275.4 L391.3 276.6 L390.7 277.5 L390 278.1 L389.3 279 L388.6 280 L387.9 280.8 L387.3 281.7 L386.9 280.8 L386.3 279.9 L385.9 278.9 L385.8 278 L385.6 277.1Z" fill="#00fff0"/>
<path d="M435.1 453.6 L435.9 452.8 L436.7 452.2 L438.1 451.8 L439.4 451 L439.7 451.7 L440.3 452.4 L440.9 453.3 L441.3 454.4 L441.7 455.6 L441.8 456.8 L441.9 458.4 L442.4 460 L442.1 460.7 L441.9 461.5 L441.1 462.3 L439.2 462.7 L437.6 463.1 L436.7 462.5 L436 462 L435.5 460.6 L435 459.2 L434.6 457.4 L434.9 455.9 L435.1 454.7Z" fill="#035756"/>
<path d="M453.5 319.7 L452.8 317.8 L452.4 315.5 L453.1 313.1 L454.3 312.8 L454.4 315.8 L454.3 318Z" fill="#00fff0"/>
<path d="M449 312.9 L450.7 312.3 L453.1 312.1 L454.3 312.4 L454.1 312.8 L453.2 313.2 L451.4 313.1Z" fill="#00fff0"/>
<path d="M448.3 313.6 L447.2 313.2 L446.7 312.3 L447.3 311.5 L448.4 311.2 L449.1 311.9 L448.9 312.7Z" fill="#00fff0"/>
<path d="M448 305.4 L447.4 305.9 L446.4 304.6 L445.7 303.1 L446.6 303 L447.8 303.3 L448.8 305Z" fill="#00fff0"/>
<path d="M441 301.5 L442.5 300.8 L444.6 300 L447.3 300.5 L446.4 301.6 L444.5 302.2 L442.2 302.3Z" fill="#00fff0"/>
<path d="M445.6 295.5 L444.4 295.6 L443.2 295.7 L442.3 295.1 L442.6 294.7 L443.4 294.3 L444.5 294.9Z" fill="#00fff0"/>
<path d="M445.8 293.7 L444.5 293.4 L443.3 291.9 L442.2 290.3 L443.3 290.5 L444.3 290.9 L445.7 292.4Z" fill="#00fff0"/>
<path d="M446.7 290.8 L444.8 289.7 L443 287.9 L442.3 286.5 L442.6 286.2 L444 286.8 L445.5 288.8Z" fill="#00fff0"/>
<path d="M445.3 286.6 L443.3 286.1 L443.7 284.1 L444.5 283 L446.2 281.9 L447.5 283.7 L446.5 285.4Z" fill="#00fff0"/>
<path d="M443 281.4 L444.8 280.4 L447.6 279.9 L449.1 280.2 L449 280.7 L448.2 281.6 L445.5 281.5Z" fill="#00fff0"/>
<path d="M445.6 280.1 L444.5 280.8 L443.2 278.5 L442.5 276.9 L443.1 275.7 L445.1 276.6 L446.4 279.2Z" fill="#00fff0"/>
<path d="M449.5 276.4 L448.7 276 L448 275.4 L447.5 274.5 L447.8 274.1 L448.6 274.9 L449.3 275.7Z" fill="#00fff0"/>
<path d="M448.5 263.9 L448.7 264.7 L446.2 264.5 L444 263.9 L445.5 263.4 L446.4 262.9 L448.4 263.4Z" fill="#00fff0"/>
<path d="M444 266 L443.5 264.6 L444 261.1 L444.7 258.5 L445.4 258.4 L445.4 261.2 L444.7 264Z" fill="#00fff0"/>
<path d="M445.8 262.1 L446.6 260.2 L448.7 258.3 L450.6 257.8 L451.5 258.4 L450.1 260.2 L448.1 261.1Z" fill="#00fff0"/>
<path d="M449.2 264 L447.4 262.9 L446.4 260.4 L446 257.6 L447.8 258.5 L449.5 259.1 L449.2 261.5Z" fill="#00fff0"/>
<path d="M448.8 257.7 L447.2 257.3 L447.5 255.8 L448.3 255.1 L449.3 254.8 L450.5 255.6 L449.7 256.8Z" fill="#00fff0"/>
<path d="M449.7 257.6 L449.8 256.5 L452 255.8 L453.8 255.6 L454.7 256.5 L453 258 L450.3 258.6Z" fill="#00fff0"/>
<path d="M454 255.8 L453.3 254.9 L453.2 253.1 L453.6 251.5 L454.3 252.2 L454.6 253.3 L454.6 254.6Z" fill="#00fff0"/>
<path d="M456.7 251 L455.2 250.9 L454.7 248.8 L456 247.6 L457 248 L457.6 249 L458.1 250.9Z" fill="#00fff0"/>
<path d="M459.9 250 L459.9 249.2 L461 248 L462.1 247.9 L463.5 247.8 L461.9 249.4 L460.6 250.1Z" fill="#00fff0"/>
<path d="M461.3 249.2 L460.3 247.8 L461.3 245.8 L462.7 245.5 L463.9 245.7 L463.6 247.2 L462.7 248.1Z" fill="#00fff0"/>
<path d="M466.3 247 L465.4 246.7 L464.6 245.7 L464.5 244.4 L465.4 244.3 L466.4 244.7 L466.9 246.1Z" fill="#00fff0"/>
<path d="M471 246.3 L470.2 245.6 L469.9 242.9 L469.9 240.8 L470.5 240.2 L471.3 242.5 L471.6 245.5Z" fill="#00fff0"/>
<path d="M470.1 240.5 L469.8 239 L471 238.5 L472.5 238 L473.5 239.5 L473 241.2 L471.4 241.3Z" fill="#00fff0"/>
<path d="M473.2 237.8 L471.8 238.1 L470.2 236 L469.7 233.2 L471.5 232.9 L473 234.8 L474.8 237.1Z" fill="#00fff0"/>
<path d="M474.7 237.6 L474.7 236.9 L475.2 236 L476.4 235.6 L477.2 236.4 L476.5 237.6 L475.3 238.5Z" fill="#00fff0"/>
<path d="M478.8 236.9 L478.1 236.7 L478.1 235.5 L478.7 234.8 L479.5 234.6 L479.8 235.7 L479.4 236.6Z" fill="#00fff0"/>
<path d="M479.8 233.4 L481.5 231.8 L483.9 230.4 L485.5 230.2 L486.3 230.5 L484.6 231.9 L482 233.1Z" fill="#00fff0"/>
<path d="M484.1 230.4 L484.4 229.1 L485.7 227.7 L486.9 227.9 L488 228.2 L487 229.5 L485.2 231Z" fill="#00fff0"/>
<path d="M485.8 222.2 L486.1 220.9 L486.9 220.3 L487.8 220.4 L488.6 221 L488.3 222.3 L487.1 222.1Z" fill="#00fff0"/>
<path d="M485.7 218.4 L485.5 217.7 L485.9 216.6 L486.8 216.4 L487.7 216.3 L487.1 217.5 L486.5 218.5Z" fill="#00fff0"/>
<path d="M490.1 217.2 L489 216.9 L488.3 215.2 L488.3 213.9 L488.9 212.9 L490.2 214.2 L490.7 216.2Z" fill="#00fff0"/>
<path d="M494.8 212.9 L495.2 211.3 L496 210.4 L497.5 210 L497.7 211.6 L498.1 213.3 L496.4 213.8Z" fill="#00fff0"/>
<path d="M498.5 207.9 L496.6 208 L494.3 207.6 L493.5 206.6 L493.2 205.8 L494.9 205.7 L496.5 206.8Z" fill="#00fff0"/>
<path d="M502.4 206.6 L500.9 208.1 L498 207.1 L496 205.3 L497.5 204.1 L499.4 204.1 L501.1 205Z" fill="#00fff0"/>
<path d="M502.1 201.9 L501.2 202.3 L499.3 202.3 L497.8 200.6 L498.5 199.2 L500.7 200.1 L501.7 200.8Z" fill="#00fff0"/>
<path d="M504.2 196.9 L503.2 196.4 L503.5 194.9 L503.7 193.4 L505 193.3 L505.2 195 L505.1 196.4Z" fill="#00fff0"/>
<path d="M503.2 191.1 L502.4 191.3 L502.3 189.7 L502.9 188.6 L503.7 188.5 L504 189.8 L503.7 191Z" fill="#00fff0"/>
<path d="M507.2 190 L504.7 189.7 L502.1 187.6 L501 184.8 L502.8 184.3 L505.1 184.7 L507.3 187.6Z" fill="#00fff0"/>
<path d="M504.7 187.3 L504.3 186.5 L505.5 184.6 L506.8 184.3 L507.8 184.3 L507.3 186 L505.4 187.8Z" fill="#00fff0"/>
<path d="M507.1 185.6 L506.9 184.3 L507.9 182.3 L509.4 180.1 L510.1 181.2 L509.7 183.2 L508.3 185.3Z" fill="#00fff0"/>
<path d="M510.3 178 L509.6 177.7 L508.8 175.9 L508.9 174.6 L509.4 174.2 L510.5 175.1 L510.9 177.7Z" fill="#00fff0"/>
<path d="M511.9 176.7 L511.6 174.6 L511.4 172.7 L513.2 171.4 L514.3 173.1 L515.7 174.6 L513.7 175.7Z" fill="#00fff0"/>
<path d="M513.2 169.5 L511.4 170.2 L509.6 170.3 L508.1 169.2 L508.7 168.1 L510.1 167.7 L512.1 168Z" fill="#00fff0"/>
<path d="M514.7 166.3 L513.6 166.8 L512 166.9 L509.6 166.6 L510.2 165.7 L511.7 165 L514.5 165.4Z" fill="#00fff0"/>
<path d="M514.5 162.4 L515.4 161.6 L518.1 160.4 L519.7 160.6 L520.4 160.9 L518.6 161.9 L515.3 162.7Z" fill="#00fff0"/>
<path d="M520.4 159.2 L518.7 159.7 L516.5 158.9 L515.5 157.8 L515.1 156.5 L517.3 156.9 L519.4 157.7Z" fill="#00fff0"/>
<path d="M515.3 159.6 L514 159 L512.9 157.7 L513.5 156 L515 155.9 L515.8 157.1 L515.7 158.2Z" fill="#00fff0"/>
<path d="M513.8 148.2 L513.6 147.2 L514.3 145.7 L515.6 144.7 L515.9 145.7 L515.7 146.7 L514.8 148.4Z" fill="#00fff0"/>
<path d="M512.6 143.8 L511.8 143.3 L512.4 142.2 L513.1 141.6 L514.2 141.4 L514.3 142.8 L513.5 144.1Z" fill="#00fff0"/>
<path d="M514 146.3 L514.4 145 L514.9 144.3 L516.1 143.4 L516.7 144.2 L516.4 145.5 L515.2 145.9Z" fill="#00fff0"/>
<path d="M516.6 146.7 L517.1 144.2 L517.8 142.1 L519.4 140.1 L520.6 140.4 L519.6 143.1 L518.4 145Z" fill="#00fff0"/>
<path d="M525.8 142.4 L525.4 141.9 L525.6 140.9 L526 139.9 L526.4 140.5 L526.6 141.1 L526.4 142.1Z" fill="#00fff0"/>
<path d="M526.1 138.2 L524.9 138.5 L523 137.1 L522.9 135.2 L524 134.9 L525.7 134.9 L526.9 137.2Z" fill="#00fff0"/>
<path d="M536.6 129.5 L535.4 129 L535 127.3 L535.1 126.2 L535.8 125.9 L536.6 126.8 L536.9 128.1Z" fill="#00fff0"/>
<path d="M533.2 127.7 L532 126.1 L532.3 124.2 L533 122.2 L534.9 122.3 L535.1 124.5 L534.4 125.9Z" fill="#00fff0"/>
<path d="M536.2 127.9 L536.1 125.8 L536 124 L537.8 122.6 L538.8 124.3 L538.9 125.7 L538.4 127.7Z" fill="#00fff0"/>
<path d="M544 123 L543.3 122.2 L542.9 120.9 L544.4 120.6 L545.9 121.2 L545.9 122.5 L545.2 123.2Z" fill="#00fff0"/>
<path d="M547.3 121.4 L547.3 119.4 L547.9 117.3 L549.8 116.7 L551.3 117.5 L550.9 119.7 L549.2 121.4Z" fill="#00fff0"/>
<path d="M551.7 114.2 L550.4 113.2 L549 111.5 L549.3 108.8 L551.2 109.4 L552.3 111 L552.5 112.8Z" fill="#00fff0"/>
<path d="M555.1 111.1 L554.6 111.3 L552.6 108.8 L552.2 107.3 L552.7 107.3 L553.7 108.2 L555.3 110.6Z" fill="#00fff0"/>
<path d="M560.7 106.3 L559.8 106.3 L558.9 105.5 L558.6 104.7 L558.9 104.2 L559.8 104.5 L560.8 105.3Z" fill="#00fff0"/>
<path d="M567.4 107.7 L565.6 107.5 L563.7 105.2 L562.6 103.3 L563 101.9 L565.3 103.6 L566.4 105.5Z" fill="#00fff0"/>
<path d="M568.7 107.1 L568.1 105.7 L567.6 103.2 L568.7 101.2 L569.5 102.1 L569.7 103.8 L569.6 106.1Z" fill="#00fff0"/>
<path d="M566.7 104.2 L565.7 104.8 L563.9 104 L561.8 102.4 L563 101.5 L565 101.5 L567.6 102.9Z" fill="#00fff0"/>
<path d="M570.2 102.5 L569.6 104.1 L568.2 104.5 L567.7 103 L567.5 101.9 L568.2 100.6 L569.2 101.5Z" fill="#00fff0"/>
<path d="M569.4 104.2 L569.1 102.8 L572 101.5 L575.1 100.6 L574 102.4 L573.5 104.1 L570.8 104.4Z" fill="#00fff0"/>
<path d="M578.4 103.7 L577.2 103.7 L576.3 103.3 L576.4 102.1 L577.6 101 L578.8 101.6 L579.6 102.6Z" fill="#00fff0"/>
<path d="M578.7 102 L579.4 100.4 L580.1 99.1 L582 98.9 L582.4 100.7 L582.1 102.3 L580.4 102.8Z" fill="#00fff0"/>
<path d="M581.9 106.8 L581.7 105.8 L582.3 103.5 L583.3 102.2 L584 102.4 L583.7 104.2 L582.8 106.6Z" fill="#00fff0"/>
<path d="M583.4 100.2 L584.1 99.1 L586.6 98.8 L589.1 98.6 L588 99.7 L586.8 100.3 L585.1 100.5Z" fill="#00fff0"/>
<path d="M585.2 103.5 L585.7 102.6 L586.4 101.9 L587.2 102 L587.6 102.6 L587.3 103.5 L586.3 103.6Z" fill="#00fff0"/>
<path d="M604.3 617.3 L605.6 617.9 L607 618.1 L607.8 618.9 L608.5 619.8 L609.1 620.9 L609.9 622.1 L608.8 623.1 L608.1 624 L607.7 622.9 L607.2 622.2 L606.3 621.3 L605.4 620 L604.8 618.6Z" fill="#c4106f"/>
<path d="M616.4 632 L617.6 631.6 L619.3 631.2 L619.6 632.4 L620.1 633.6 L620.3 634.9 L618.7 635.9 L617.4 636.6 L617 635.1 L616.6 633.5Z" fill="#c4106f"/>
<path d="M616.5 638.5 L617.8 638.3 L619 638.4 L620.2 638.4 L620.6 639.4 L621.2 640.3 L622 641.2 L620.7 641.6 L619.8 642.3 L619.2 642.9 L618.2 642.2 L617.2 641.4 L616.8 639.9Z" fill="#c4106f"/>
<path d="M620.6 647 L621.8 646.8 L623.3 646.5 L624.6 646.3 L624.5 647.7 L624.9 649.1 L623.7 649.4 L622.1 649.5 L621.6 649 L621.2 648.1Z" fill="#c4106f"/>
<path d="M662.4 590 L663.7 589.6 L665 589.4 L665.3 590.2 L665.7 591.4 L664.7 592.4 L664.2 593.3 L663.4 592.7 L662.3 592.2 L662.1 591Z" fill="#c4106f"/>
<path d="M674.7 592.2 L675.9 592 L676.9 591.6 L677.3 592.5 L677.6 593.5 L676.6 593.9 L675.5 594.3 L675.1 593.2Z" fill="#c4106f"/>
<path d="M671.2 601.3 L672.3 601.1 L673.4 600.7 L674.5 599.9 L675.8 601.5 L676.9 603.1 L675.9 604.4 L674.2 605.6 L673 604.6 L671.7 603.8 L671.4 602.2Z" fill="#c4106f"/>
<path d="M667.3 619.1 L668.9 618.5 L670.1 618.2 L670.3 619.5 L670.6 620.9 L669.8 621.2 L668.7 621.8 L668.1 620.4Z" fill="#c4106f"/>
<path d="M667.7 632.5 L669 632.6 L670.1 632.9 L670.7 633.1 L671.3 634.5 L672.2 636 L672.8 637 L671.8 637.3 L670.7 637.3 L669.8 636.7 L668.9 636 L668.1 635.1 L668 633.7Z" fill="#c4106f"/>
<path d="M673.3 636.9 L674.6 637.3 L676.4 637.6 L678.3 638.3 L679.3 639.2 L679.8 640.1 L679.2 640.4 L678.3 640.6 L676.9 640 L675.4 639.3 L674.1 638.7 L673.6 637.8Z" fill="#c4106f"/>
<path d="M683.2 647.2 L684.6 647.1 L686.1 647 L686.4 647.8 L686.8 648.9 L687.2 650.2 L686.1 651.1 L685.3 651.7 L684.4 650.8 L683 650.1 L682.9 648.6Z" fill="#c4106f"/>
<path d="M691.7 635.8 L692.9 635.8 L694.2 635.7 L695.4 635.7 L695.7 636.7 L695.8 637.8 L694.7 637.9 L693.5 638.1 L692.4 638.3 L692.1 637.1Z" fill="#c4106f"/>
<path d="M685.7 638.3 L687.2 638.4 L688.4 638.3 L689.6 638.2 L690 640 L688.9 639.9 L687.8 639.9 L686.5 639.9Z" fill="#c4106f"/>
<path d="M655 666.7 L655.9 666 L656.7 665.5 L657.1 667.2 L657.5 669 L656.6 669.2 L655.6 669.4 L655.3 668Z" fill="#c4106f"/>
<path d="M668.9 642.1 L670 641.8 L671.2 641.5 L671.3 642.5 L671.1 643.6 L670.2 643.8 L669.3 643.8 L669.1 642.9Z" fill="#c4106f"/>
<path d="M670.9 646.8 L671.9 646.9 L672.6 646.8 L673.1 647.5 L673 648.6 L672.2 648.7 L671.2 648.7 L671.3 647.6Z" fill="#c4106f"/>
<path d="M673.1 651.3 L674.1 651.1 L675.1 650.9 L675.1 651.8 L675.1 652.6 L674.3 652.6 L673.5 652.9 L673.3 652.1Z" fill="#c4106f"/>
<path d="M677.2 643.3 L678.3 643 L679 643 L678.9 644 L678.9 644.9 L678.3 644.7 L677.4 644.9 L677.2 644Z" fill="#c4106f"/>
<path d="M672.8 655.1 L673.5 654.6 L674.2 654.1 L674.2 655.3 L674.2 656.5 L673.5 656.7 L672.9 657.1 L672.9 656.1Z" fill="#c4106f"/>
<path d="M679 654.9 L679.8 654.8 L680.7 654.7 L681 655.3 L681.5 655.6 L680.7 655.7 L679.8 656 L679.3 655.5Z" fill="#c4106f"/>
<path d="M685 654.6 L685.8 654.6 L686.6 654.5 L686.5 655.4 L686.5 656.4 L685.7 656.5 L685.1 656.6 L685.1 655.6Z" fill="#c4106f"/>
<path d="M687.6 657.8 L689 657.6 L690.2 657.4 L690.3 658.6 L690.4 659.7 L689.5 659.8 L688.4 660 L688.1 658.9Z" fill="#c4106f"/>
<path d="M692 650.7 L693 650.4 L694.1 650.2 L694.2 651 L694.3 652 L693.3 652.1 L692.4 652.1 L692.2 651.4Z" fill="#c4106f"/>
<path d="M698.2 653.3 L699.2 652.9 L700.1 652.8 L699.5 654.2 L699.6 655.1 L699.1 655 L698.3 655.1 L698.3 654.1Z" fill="#c4106f"/>
<path d="M694.2 644.4 L695.5 644.1 L696.7 644 L697.7 643.9 L698.1 645.6 L697.1 645.5 L696.1 645.5 L695 645.8Z" fill="#c4106f"/>
<path d="M683.2 612.2 L684.4 611.3 L685.7 610.6 L686.8 609.7 L688 610 L689.1 610.2 L690.6 610.3 L691.6 611.1 L692.7 611.9 L693.6 612.7 L693 613.8 L692.4 615 L691.1 615.4 L689.5 615.4 L687.4 614.9 L686.1 614.4 L685.2 614.6 L684.2 614.7 L683.7 613.3Z" fill="#c4106f"/>
<path d="M686 624 L687.6 623.4 L689 622.7 L689.7 623.8 L690.2 624.9 L690.5 626.1 L690 627.3 L689.5 628.3 L689 629.2 L688.4 628.5 L687.3 627.8 L687 626.5 L686.2 625.4Z" fill="#c4106f"/>
<path d="M529 536.5 L529.4 535.5 L530.4 534.4 L530.5 535.6 L530.6 536.9 L531.3 538.6 L532 540.2 L532.3 541.6 L532.7 543.1 L533 544.4 L533.1 545.8 L533.4 547 L534 547.6 L533.4 548.1 L532.9 548.9 L532.3 547.8 L532 547.1 L531.6 546.1 L531 545.1 L530.1 544 L529.7 542.6 L529.6 540.9 L529.4 539.3 L529.2 537.8Z" fill="#e0107a"/>
<path d="M533.3 536 L535 535.3 L536.9 534.7 L537 536.1 L537.6 537.4 L538.4 538.6 L538.8 539.6 L537.6 540.4 L536.2 540.8 L535.6 539.5 L534.8 538.3 L533.9 537.3Z" fill="#e0107a"/>
<path d="M537.5 546.5 L539 546.9 L540.2 547.4 L541.3 548 L542.3 548.9 L542.9 550.2 L543.4 551.6 L544.3 552.8 L544.9 554.1 L544.4 554.3 L543.7 554.7 L542.5 553.8 L541 553.2 L539.9 552.6 L539.2 551.5 L539.2 549.8 L538.8 548.5 L538.2 547.5Z" fill="#e0107a"/>
<path d="M561.5 566.7 L562.5 567.4 L563.5 568.2 L565.1 568.2 L566.7 568 L567.9 568.2 L568.6 569.1 L567.2 568.8 L565.9 568.8 L564.5 569.1 L563.2 568.9 L562.2 568.2Z" fill="#e0107a"/>
<path d="M563.1 571.5 L564.7 571.9 L565.9 571.6 L567.2 571.7 L568.6 572.3 L570 572.6 L571.6 572.3 L571.9 573.3 L570.4 573.5 L569 573.5 L567.8 573 L566.6 572.6 L565.6 572.8 L564.5 572.9Z" fill="#e0107a"/>
<path d="M567.9 575.6 L569.5 575.7 L571.2 576.1 L573 576.8 L574.3 576.9 L575.2 576.8 L576.9 577.1 L577.4 577.9 L576.3 577.8 L574.9 577.8 L573.6 577.9 L572 577.6 L570.3 577.3 L569 577Z" fill="#e0107a"/>
<path d="M543.6 555.9 L544.2 557.4 L545 558.7 L546.1 559.5 L547.4 560.3 L548.3 561.3 L548.8 562.4 L549 563.3 L549.8 564.2 L548.1 564.7 L547.3 563.7 L546.7 562.5 L545.8 561.1 L544.5 560 L544 559.1 L543.7 557.7Z" fill="#e0107a"/>
<path d="M349.8 237.2 L351.5 237.6 L352 240 L350.8 241 L349.6 239.5Z" fill="#111"/>
<path d="M348 249 L349.2 249.2 L349.2 251 L348 251Z" fill="#111"/>
<path d="M533.2 298.6 L534 297.6 L535.2 297.1 L536.8 296.5 L537.9 296.6 L539 296.7 L540.4 296.7 L541.9 295.7 L543.3 295.2 L545.2 294.9 L546 295.7 L546.7 296.3 L547.7 296.8 L548.8 297.6 L549.8 298.3 L551.2 299.2 L549.6 300.1 L548.3 300.9 L547.3 301.7 L546 301.8 L544.7 302.4 L543.5 303.3 L542.6 303 L541.8 302.4 L541.1 301.8 L540.2 302.5 L539.2 303.2 L538.1 303.7 L537 303.2 L535.9 302.5 L534.8 301.7 L534.4 300.5 L534 299.4Z" fill="#02ddd2"/>
<path d="M540.9 299 L541.7 298.4 L542.6 297.6 L543.3 298.7 L544 299.6 L543.3 300.6 L542.6 301.4 L541.8 300.3Z" fill="#02ddd2"/>
<path d="M337.8 335.8 L339.2 336.8 L340.5 337.1 L340.1 338.4 L339.9 339.7 L339.7 340.5 L339.6 341.1 L339.4 342.5 L338.8 344.5 L338.5 346 L338.6 347.2 L338.3 348.6 L337.5 349.8 L337 351.1 L336.1 350.2 L335.1 349.9 L335.6 348.8 L335.9 347.6 L336.2 346.5 L336.5 345.3 L336.2 343.7 L335.9 341.7 L336.3 340.3 L336.7 338.9 L337.3 337.4Z" fill="#00fff0"/>
<path d="M340.5 341 L341.6 340.9 L343.5 341.2 L343.9 342.5 L344.4 343.4 L344.8 344 L342.8 344.9 L341.2 345.4 L340.9 343.9 L340.6 342.2Z" fill="#00fff0"/>
<path d="M301.5 680.5 L303 681 L302.8 683.5 L301.3 683Z" fill="#111"/>
<path d="M316.6 347.9 L316.1 348.7 L315.2 349.6 L314.1 350.7 L313 351.9 L311.7 352.7 L310.6 353.5 L309.6 354.6 L308.2 355.6 L307 356.2 L307.4 357.8 L308.3 359.3 L309.2 360.3 L310.1 361.3 L310.8 362.4 L311.2 363.2 L311.8 364.2 L312.5 365.2 L313.1 366.1 L314 365 L315.1 364 L316.1 363.5 L317.2 364.5 L318.4 364.9 L318.9 366.3 L319.4 368 L320 369.6 L321.1 370.4 L321.9 371 L322.5 371.5" fill="none"/>
<circle cx="476.4" cy="504" r="3.3" fill="#dcdcdc" stroke="#222" stroke-width="0.8"/>
<circle cx="445" cy="560.8" r="3.3" fill="#dcdcdc" stroke="#222" stroke-width="0.8"/>
<circle cx="507.5" cy="552.3" r="3.3" fill="#dcdcdc" stroke="#222" stroke-width="0.8"/>
<circle cx="512.6" cy="589.4" r="3.3" fill="#dcdcdc" stroke="#222" stroke-width="0.8"/>
<circle cx="377.4" cy="572.9" r="3.3" fill="#dcdcdc" stroke="#222" stroke-width="0.8"/>
<circle cx="538" cy="686.6" r="3.3" fill="#dcdcdc" stroke="#222" stroke-width="0.8"/>
</g>
<text x="6.9" y="46.9" font-family="'Liberation Sans', sans-serif" font-weight="bold" font-size="33" fill="#000" textLength="509" lengthAdjust="spacingAndGlyphs">Egg Consumption in Europe</text>
<text x="5.6" y="64.3" font-family="'Liberation Sans', sans-serif" font-weight="bold" font-size="13.7" fill="#000" textLength="310" lengthAdjust="spacingAndGlyphs">(Per capita, in number of eggs not kg)</text>
<rect x="83.6" y="372.3" width="20.8" height="20.3" fill="#035756" stroke="#222" stroke-width="0.8"/>
<text x="119.8" y="386.4" font-family="'Liberation Sans', sans-serif" font-weight="bold" font-size="16" fill="#111" textLength="39.3" lengthAdjust="spacingAndGlyphs">250+</text>
<rect x="83.6" y="401.9" width="20.8" height="20.3" fill="#02ddd2" stroke="#222" stroke-width="0.8"/>
<text x="119.8" y="415.95" font-family="'Liberation Sans', sans-serif" font-weight="bold" font-size="16" fill="#111" textLength="76.4" lengthAdjust="spacingAndGlyphs">200 - 250</text>
<rect x="83.6" y="431.4" width="20.8" height="20.3" fill="#00fff0" stroke="#222" stroke-width="0.8"/>
<text x="119.8" y="445.5" font-family="'Liberation Sans', sans-serif" font-weight="bold" font-size="16" fill="#111" textLength="76.4" lengthAdjust="spacingAndGlyphs">150 - 200</text>
<rect x="83.6" y="461" width="20.8" height="20.3" fill="#ff008a" stroke="#222" stroke-width="0.8"/>
<text x="119.8" y="475.05" font-family="'Liberation Sans', sans-serif" font-weight="bold" font-size="16" fill="#111" textLength="76.4" lengthAdjust="spacingAndGlyphs">100 - 150</text>
<rect x="83.6" y="490.5" width="20.8" height="20.3" fill="#d60071" stroke="#222" stroke-width="0.8"/>
<text x="119.8" y="504.6" font-family="'Liberation Sans', sans-serif" font-weight="bold" font-size="16" fill="#111" textLength="85.1" lengthAdjust="spacingAndGlyphs">Under 100</text>
<text x="57.2" y="692.4" font-family="'Liberation Sans', sans-serif" font-weight="bold" font-size="6.6" fill="#111" textLength="82" lengthAdjust="spacingAndGlyphs">Created with mapchart.net</text>
<path d="M 93.9 180 C 117.1 159.6 161.8 156.1 192.1 167.1 C 216.4 175.7 236.8 197.1 232.1 216.8 C 250 221.4 252.9 247.1 238.6 255 C 247.5 277.5 224.3 300.7 195.7 305 C 185 307.1 170.7 307.9 160 307.1 C 135 329.3 77.9 329.3 54.6 297.1 C 45.7 284.6 42.9 268.6 47.5 256.1 C 22.5 252.5 20.7 220.4 51.1 213.2 C 40 190 56.4 156.1 93.9 180 Z" fill="#fff" stroke="#000" stroke-width="9.6" stroke-linejoin="round"/>
<ellipse cx="139.3" cy="236.4" rx="36" ry="40.6" fill="#fff" stroke="#000" stroke-width="9.6"/>
<path d="M 136.4 206.4 C 116.4 210 110 234.6 126.4 255" fill="none" stroke="#000" stroke-width="7" stroke-linecap="round"/>
<g>
<path d="M380.2 338.5 L383 337 L386 337.2 L388.6 336 L388.8 344.8 L385 344.5 L382 343.5 L380.5 341.5Z" fill="#2f9a5a"/>
<path d="M383.2 352.5 L386.8 351.8 L386.5 355.5 L384.8 358.2 L383.5 356Z" fill="#2f9a5a"/>
<path d="M396.5 349.8 L399 349.6 L401 352 L403.5 353.5 L405.8 355 L404.5 356 L402.2 355.2 L401.5 358 L399 360.5 L397.5 363.8 L396.6 362.5 L398.5 359 L399.5 356 L397.5 353.5Z" fill="#b8323e"/>
<text x="409.4" y="344.4" font-family="'Liberation Sans', sans-serif" font-weight="bold" font-size="9.6" fill="#43a253" textLength="28.4" lengthAdjust="spacingAndGlyphs">VERY</text>
<text x="410" y="354.1" font-family="'Liberation Sans', sans-serif" font-weight="bold" font-size="10.2" fill="#151515" textLength="38.6" lengthAdjust="spacingAndGlyphs">USEFUL</text>
<text x="409.4" y="363.3" font-family="'Liberation Sans', sans-serif" font-weight="bold" font-size="9.6" fill="#b5303c" textLength="29.6" lengthAdjust="spacingAndGlyphs">MAPS</text>
</g>
</svg></body></html>
